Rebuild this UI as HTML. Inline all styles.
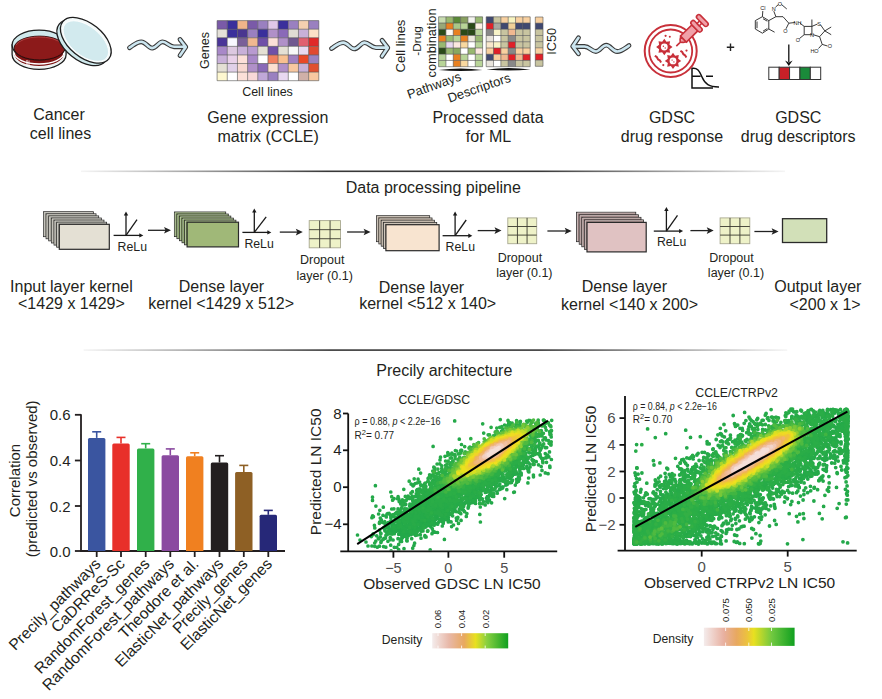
<!DOCTYPE html><html><head><meta charset="utf-8"><style>html,body{margin:0;padding:0;background:#fff;overflow:hidden}svg{display:block}text{font-family:"Liberation Sans",sans-serif}</style></head><body>
<svg width="882" height="699" viewBox="0 0 882 699">
<rect width="882" height="699" fill="#fff"/>
<path d="M12.1,45 L12.1,54.5 A27,14.9 0 0 0 66.1,54.5 L66.1,45 Z" fill="#eef7f7" stroke="#1e1e1e" stroke-width="1.3"/>
<path d="M14.3,49 L14.3,54 A24.8,12 0 0 0 63.9,54 L63.9,49 Z" fill="#7e1414"/>
<path d="M14.3,52.5 A24.8,11.5 0 0 0 63.9,52.5" fill="none" stroke="#ffffff" stroke-width="1.3"/>
<path d="M14.3,55.8 A24.8,11.5 0 0 0 63.9,55.8" fill="none" stroke="#f0f0f0" stroke-width="1"/>
<line x1="27" y1="60" x2="27" y2="66" stroke="#fff" stroke-width="1"/><line x1="29" y1="60.5" x2="29" y2="66.5" stroke="#fff" stroke-width="0.8"/>
<ellipse cx="39.1" cy="45" rx="27" ry="14.9" fill="#cfe9ec" stroke="#1e1e1e" stroke-width="1.3"/>
<ellipse cx="39.5" cy="48" rx="25.4" ry="11.9" fill="#8c1a1a" stroke="#2a0a0a" stroke-width="0.9"/>
<path d="M16,45 A24,10.5 0 0 1 62,44" fill="none" stroke="#b04040" stroke-width="1"/>
<g transform="translate(85.8,40.3) rotate(39)">
<ellipse cx="-1.2" cy="4.2" rx="29.6" ry="17" fill="#cfe9ec" stroke="#1e1e1e" stroke-width="1.3"/>
<ellipse cx="0" cy="0" rx="29.6" ry="17" fill="#f4fafa" stroke="#1e1e1e" stroke-width="1.3"/>
<ellipse cx="0.5" cy="0.6" rx="26.8" ry="14.6" fill="#d2eaee" stroke="#ffffff" stroke-width="0.8"/>
</g>
<g transform="translate(0,0)" fill="none" stroke-linecap="round" stroke-linejoin="round">
<path d="M129.5,47.7 C135,44 137,41.8 141.3,41.8 C146,41.8 148,48.1 152.2,48.1 C156.5,48.1 158.5,41.8 162.6,41.8 C167,41.8 169,46.8 174,46.8 L185,46.8 M180,39.5 L185.8,47 L180,55.5" stroke="#3a3a3a" stroke-width="4.8"/>
<path d="M129.5,47.7 C135,44 137,41.8 141.3,41.8 C146,41.8 148,48.1 152.2,48.1 C156.5,48.1 158.5,41.8 162.6,41.8 C167,41.8 169,46.8 174,46.8 L185,46.8 M180,39.5 L185.8,47 L180,55.5" stroke="#cce6f0" stroke-width="2.6"/>
</g>
<g transform="translate(202,0.8)" fill="none" stroke-linecap="round" stroke-linejoin="round">
<path d="M129.5,47.7 C135,44 137,41.8 141.3,41.8 C146,41.8 148,48.1 152.2,48.1 C156.5,48.1 158.5,41.8 162.6,41.8 C167,41.8 169,46.8 174,46.8 L185,46.8 M180,39.5 L185.8,47 L180,55.5" stroke="#3a3a3a" stroke-width="4.8"/>
<path d="M129.5,47.7 C135,44 137,41.8 141.3,41.8 C146,41.8 148,48.1 152.2,48.1 C156.5,48.1 158.5,41.8 162.6,41.8 C167,41.8 169,46.8 174,46.8 L185,46.8 M180,39.5 L185.8,47 L180,55.5" stroke="#cce6f0" stroke-width="2.6"/>
</g>
<g transform="translate(758.5,93.3) rotate(180)">
<path d="M129.5,47.7 C135,44 137,41.8 141.3,41.8 C146,41.8 148,48.1 152.2,48.1 C156.5,48.1 158.5,41.8 162.6,41.8 C167,41.8 169,46.8 174,46.8 L185,46.8 M180,39.5 L185.8,47 L180,55.5" fill="none" stroke="#3a3a3a" stroke-width="4.8" stroke-linecap="round" stroke-linejoin="round"/>
<path d="M129.5,47.7 C135,44 137,41.8 141.3,41.8 C146,41.8 148,48.1 152.2,48.1 C156.5,48.1 158.5,41.8 162.6,41.8 C167,41.8 169,46.8 174,46.8 L185,46.8 M180,39.5 L185.8,47 L180,55.5" fill="none" stroke="#cce6f0" stroke-width="2.6" stroke-linecap="round" stroke-linejoin="round"/>
</g>
<rect x="217.10" y="20.60" width="10.17" height="8.59" fill="#7a5aa8"/>
<rect x="227.27" y="20.60" width="10.17" height="8.59" fill="#3a2f9c"/>
<rect x="237.44" y="20.60" width="10.17" height="8.59" fill="#f0b48a"/>
<rect x="247.61" y="20.60" width="10.17" height="8.59" fill="#7a5aa8"/>
<rect x="257.78" y="20.60" width="10.17" height="8.59" fill="#9a80c0"/>
<rect x="267.95" y="20.60" width="10.17" height="8.59" fill="#e0c8e8"/>
<rect x="278.12" y="20.60" width="10.17" height="8.59" fill="#3a2f9c"/>
<rect x="288.29" y="20.60" width="10.17" height="8.59" fill="#9a80c0"/>
<rect x="298.46" y="20.60" width="10.17" height="8.59" fill="#f4d0b0"/>
<rect x="308.63" y="20.60" width="10.17" height="8.59" fill="#9a80c0"/>
<rect x="217.10" y="29.19" width="10.17" height="8.59" fill="#e4e0d8"/>
<rect x="227.27" y="29.19" width="10.17" height="8.59" fill="#3a2f9c"/>
<rect x="237.44" y="29.19" width="10.17" height="8.59" fill="#4a3590"/>
<rect x="247.61" y="29.19" width="10.17" height="8.59" fill="#9a80c0"/>
<rect x="257.78" y="29.19" width="10.17" height="8.59" fill="#3a2f9c"/>
<rect x="267.95" y="29.19" width="10.17" height="8.59" fill="#b090c8"/>
<rect x="278.12" y="29.19" width="10.17" height="8.59" fill="#8a6ab8"/>
<rect x="288.29" y="29.19" width="10.17" height="8.59" fill="#e0dcd4"/>
<rect x="298.46" y="29.19" width="10.17" height="8.59" fill="#c8b0d8"/>
<rect x="308.63" y="29.19" width="10.17" height="8.59" fill="#fce0c8"/>
<rect x="217.10" y="37.77" width="10.17" height="8.59" fill="#4a3598"/>
<rect x="227.27" y="37.77" width="10.17" height="8.59" fill="#f8f8ff"/>
<rect x="237.44" y="37.77" width="10.17" height="8.59" fill="#7a6098"/>
<rect x="247.61" y="37.77" width="10.17" height="8.59" fill="#f0b890"/>
<rect x="257.78" y="37.77" width="10.17" height="8.59" fill="#7050a8"/>
<rect x="267.95" y="37.77" width="10.17" height="8.59" fill="#fce0d8"/>
<rect x="278.12" y="37.77" width="10.17" height="8.59" fill="#b090c8"/>
<rect x="288.29" y="37.77" width="10.17" height="8.59" fill="#705890"/>
<rect x="298.46" y="37.77" width="10.17" height="8.59" fill="#e06070"/>
<rect x="308.63" y="37.77" width="10.17" height="8.59" fill="#e02828"/>
<rect x="217.10" y="46.36" width="10.17" height="8.59" fill="#a888c8"/>
<rect x="227.27" y="46.36" width="10.17" height="8.59" fill="#dcc8e0"/>
<rect x="237.44" y="46.36" width="10.17" height="8.59" fill="#c8b0d8"/>
<rect x="247.61" y="46.36" width="10.17" height="8.59" fill="#b89ad0"/>
<rect x="257.78" y="46.36" width="10.17" height="8.59" fill="#e4e0d4"/>
<rect x="267.95" y="46.36" width="10.17" height="8.59" fill="#7050a8"/>
<rect x="278.12" y="46.36" width="10.17" height="8.59" fill="#e4e0d4"/>
<rect x="288.29" y="46.36" width="10.17" height="8.59" fill="#f8f8f8"/>
<rect x="298.46" y="46.36" width="10.17" height="8.59" fill="#e8d8f0"/>
<rect x="308.63" y="46.36" width="10.17" height="8.59" fill="#e04830"/>
<rect x="217.10" y="54.94" width="10.17" height="8.59" fill="#c8b0d8"/>
<rect x="227.27" y="54.94" width="10.17" height="8.59" fill="#e8d0e8"/>
<rect x="237.44" y="54.94" width="10.17" height="8.59" fill="#fce0d8"/>
<rect x="247.61" y="54.94" width="10.17" height="8.59" fill="#a888c8"/>
<rect x="257.78" y="54.94" width="10.17" height="8.59" fill="#ffffff"/>
<rect x="267.95" y="54.94" width="10.17" height="8.59" fill="#f08060"/>
<rect x="278.12" y="54.94" width="10.17" height="8.59" fill="#f8c090"/>
<rect x="288.29" y="54.94" width="10.17" height="8.59" fill="#a080c0"/>
<rect x="298.46" y="54.94" width="10.17" height="8.59" fill="#e84828"/>
<rect x="308.63" y="54.94" width="10.17" height="8.59" fill="#9a80c0"/>
<rect x="217.10" y="63.53" width="10.17" height="8.59" fill="#e4e0d4"/>
<rect x="227.27" y="63.53" width="10.17" height="8.59" fill="#e0d0e8"/>
<rect x="237.44" y="63.53" width="10.17" height="8.59" fill="#f8d8d0"/>
<rect x="247.61" y="63.53" width="10.17" height="8.59" fill="#b090c8"/>
<rect x="257.78" y="63.53" width="10.17" height="8.59" fill="#8a6ab8"/>
<rect x="267.95" y="63.53" width="10.17" height="8.59" fill="#fce0d0"/>
<rect x="278.12" y="63.53" width="10.17" height="8.59" fill="#b090c8"/>
<rect x="288.29" y="63.53" width="10.17" height="8.59" fill="#f8c8a0"/>
<rect x="298.46" y="63.53" width="10.17" height="8.59" fill="#c8b0d8"/>
<rect x="308.63" y="63.53" width="10.17" height="8.59" fill="#e05030"/>
<rect x="217.10" y="72.11" width="10.17" height="8.59" fill="#fef8d0"/>
<rect x="227.27" y="72.11" width="10.17" height="8.59" fill="#ffffff"/>
<rect x="237.44" y="72.11" width="10.17" height="8.59" fill="#fce0d8"/>
<rect x="247.61" y="72.11" width="10.17" height="8.59" fill="#f8d8d8"/>
<rect x="257.78" y="72.11" width="10.17" height="8.59" fill="#c0a8d8"/>
<rect x="267.95" y="72.11" width="10.17" height="8.59" fill="#9a80c0"/>
<rect x="278.12" y="72.11" width="10.17" height="8.59" fill="#e8d8f0"/>
<rect x="288.29" y="72.11" width="10.17" height="8.59" fill="#ffffff"/>
<rect x="298.46" y="72.11" width="10.17" height="8.59" fill="#d0b0a8"/>
<rect x="308.63" y="72.11" width="10.17" height="8.59" fill="#f8c8a0"/>
<line x1="217.1" y1="20.60" x2="318.8" y2="20.60" stroke="#505050" stroke-width="0.6"/>
<line x1="217.1" y1="29.19" x2="318.8" y2="29.19" stroke="#505050" stroke-width="0.6"/>
<line x1="217.1" y1="37.77" x2="318.8" y2="37.77" stroke="#505050" stroke-width="0.6"/>
<line x1="217.1" y1="46.36" x2="318.8" y2="46.36" stroke="#505050" stroke-width="0.6"/>
<line x1="217.1" y1="54.94" x2="318.8" y2="54.94" stroke="#505050" stroke-width="0.6"/>
<line x1="217.1" y1="63.53" x2="318.8" y2="63.53" stroke="#505050" stroke-width="0.6"/>
<line x1="217.1" y1="72.11" x2="318.8" y2="72.11" stroke="#505050" stroke-width="0.6"/>
<line x1="217.1" y1="80.70" x2="318.8" y2="80.70" stroke="#505050" stroke-width="0.6"/>
<line x1="217.10" y1="20.6" x2="217.10" y2="80.7" stroke="#505050" stroke-width="0.6"/>
<line x1="227.27" y1="20.6" x2="227.27" y2="80.7" stroke="#505050" stroke-width="0.6"/>
<line x1="237.44" y1="20.6" x2="237.44" y2="80.7" stroke="#505050" stroke-width="0.6"/>
<line x1="247.61" y1="20.6" x2="247.61" y2="80.7" stroke="#505050" stroke-width="0.6"/>
<line x1="257.78" y1="20.6" x2="257.78" y2="80.7" stroke="#505050" stroke-width="0.6"/>
<line x1="267.95" y1="20.6" x2="267.95" y2="80.7" stroke="#505050" stroke-width="0.6"/>
<line x1="278.12" y1="20.6" x2="278.12" y2="80.7" stroke="#505050" stroke-width="0.6"/>
<line x1="288.29" y1="20.6" x2="288.29" y2="80.7" stroke="#505050" stroke-width="0.6"/>
<line x1="298.46" y1="20.6" x2="298.46" y2="80.7" stroke="#505050" stroke-width="0.6"/>
<line x1="308.63" y1="20.6" x2="308.63" y2="80.7" stroke="#505050" stroke-width="0.6"/>
<line x1="318.80" y1="20.6" x2="318.80" y2="80.7" stroke="#505050" stroke-width="0.6"/>
<text x="208.5" y="50.5" font-size="12.5" text-anchor="middle" fill="#231f20" transform="rotate(-90 208.5 50.5)">Genes</text>
<text x="267.5" y="96" font-size="12.5" text-anchor="middle" fill="#231f20" >Cell lines</text>
<rect x="438.60" y="16.80" width="7.33" height="6.24" fill="#c8dcb0"/>
<rect x="445.93" y="16.80" width="7.33" height="6.24" fill="#98b870"/>
<rect x="453.27" y="16.80" width="7.33" height="6.24" fill="#5a8a38"/>
<rect x="460.60" y="16.80" width="7.33" height="6.24" fill="#88a060"/>
<rect x="467.93" y="16.80" width="7.33" height="6.24" fill="#f4f4f0"/>
<rect x="475.27" y="16.80" width="7.33" height="6.24" fill="#98b870"/>
<rect x="438.60" y="23.04" width="7.33" height="6.24" fill="#98a878"/>
<rect x="445.93" y="23.04" width="7.33" height="6.24" fill="#e88020"/>
<rect x="453.27" y="23.04" width="7.33" height="6.24" fill="#a8c888"/>
<rect x="460.60" y="23.04" width="7.33" height="6.24" fill="#b8d498"/>
<rect x="467.93" y="23.04" width="7.33" height="6.24" fill="#2a4a18"/>
<rect x="475.27" y="23.04" width="7.33" height="6.24" fill="#fcf0e4"/>
<rect x="438.60" y="29.27" width="7.33" height="6.24" fill="#2a4a18"/>
<rect x="445.93" y="29.27" width="7.33" height="6.24" fill="#fcf8f4"/>
<rect x="453.27" y="29.27" width="7.33" height="6.24" fill="#e88020"/>
<rect x="460.60" y="29.27" width="7.33" height="6.24" fill="#2a4a18"/>
<rect x="467.93" y="29.27" width="7.33" height="6.24" fill="#2a4a18"/>
<rect x="475.27" y="29.27" width="7.33" height="6.24" fill="#b8d498"/>
<rect x="438.60" y="35.51" width="7.33" height="6.24" fill="#e88020"/>
<rect x="445.93" y="35.51" width="7.33" height="6.24" fill="#98b870"/>
<rect x="453.27" y="35.51" width="7.33" height="6.24" fill="#b8d498"/>
<rect x="460.60" y="35.51" width="7.33" height="6.24" fill="#e88020"/>
<rect x="467.93" y="35.51" width="7.33" height="6.24" fill="#ece8dc"/>
<rect x="475.27" y="35.51" width="7.33" height="6.24" fill="#98b870"/>
<rect x="438.60" y="41.75" width="7.33" height="6.24" fill="#98b870"/>
<rect x="445.93" y="41.75" width="7.33" height="6.24" fill="#e8d8f0"/>
<rect x="453.27" y="41.75" width="7.33" height="6.24" fill="#fce8e0"/>
<rect x="460.60" y="41.75" width="7.33" height="6.24" fill="#f8d8a0"/>
<rect x="467.93" y="41.75" width="7.33" height="6.24" fill="#ffffff"/>
<rect x="475.27" y="41.75" width="7.33" height="6.24" fill="#b8d498"/>
<rect x="438.60" y="47.99" width="7.33" height="6.24" fill="#2a4a18"/>
<rect x="445.93" y="47.99" width="7.33" height="6.24" fill="#98b870"/>
<rect x="453.27" y="47.99" width="7.33" height="6.24" fill="#88a860"/>
<rect x="460.60" y="47.99" width="7.33" height="6.24" fill="#ffffff"/>
<rect x="467.93" y="47.99" width="7.33" height="6.24" fill="#98b870"/>
<rect x="475.27" y="47.99" width="7.33" height="6.24" fill="#fce8e0"/>
<rect x="438.60" y="54.22" width="7.33" height="6.24" fill="#b8d498"/>
<rect x="445.93" y="54.22" width="7.33" height="6.24" fill="#ffffff"/>
<rect x="453.27" y="54.22" width="7.33" height="6.24" fill="#e88020"/>
<rect x="460.60" y="54.22" width="7.33" height="6.24" fill="#b8d498"/>
<rect x="467.93" y="54.22" width="7.33" height="6.24" fill="#ffffff"/>
<rect x="475.27" y="54.22" width="7.33" height="6.24" fill="#b8d498"/>
<rect x="438.60" y="60.46" width="7.33" height="6.24" fill="#b8d498"/>
<rect x="445.93" y="60.46" width="7.33" height="6.24" fill="#ffffff"/>
<rect x="453.27" y="60.46" width="7.33" height="6.24" fill="#e88020"/>
<rect x="460.60" y="60.46" width="7.33" height="6.24" fill="#f8d8a0"/>
<rect x="467.93" y="60.46" width="7.33" height="6.24" fill="#ffffff"/>
<rect x="475.27" y="60.46" width="7.33" height="6.24" fill="#b8d498"/>
<line x1="438.6" y1="16.80" x2="482.6" y2="16.80" stroke="#505050" stroke-width="0.6"/>
<line x1="438.6" y1="23.04" x2="482.6" y2="23.04" stroke="#505050" stroke-width="0.6"/>
<line x1="438.6" y1="29.27" x2="482.6" y2="29.27" stroke="#505050" stroke-width="0.6"/>
<line x1="438.6" y1="35.51" x2="482.6" y2="35.51" stroke="#505050" stroke-width="0.6"/>
<line x1="438.6" y1="41.75" x2="482.6" y2="41.75" stroke="#505050" stroke-width="0.6"/>
<line x1="438.6" y1="47.99" x2="482.6" y2="47.99" stroke="#505050" stroke-width="0.6"/>
<line x1="438.6" y1="54.22" x2="482.6" y2="54.22" stroke="#505050" stroke-width="0.6"/>
<line x1="438.6" y1="60.46" x2="482.6" y2="60.46" stroke="#505050" stroke-width="0.6"/>
<line x1="438.6" y1="66.70" x2="482.6" y2="66.70" stroke="#505050" stroke-width="0.6"/>
<line x1="438.60" y1="16.8" x2="438.60" y2="66.7" stroke="#505050" stroke-width="0.6"/>
<line x1="445.93" y1="16.8" x2="445.93" y2="66.7" stroke="#505050" stroke-width="0.6"/>
<line x1="453.27" y1="16.8" x2="453.27" y2="66.7" stroke="#505050" stroke-width="0.6"/>
<line x1="460.60" y1="16.8" x2="460.60" y2="66.7" stroke="#505050" stroke-width="0.6"/>
<line x1="467.93" y1="16.8" x2="467.93" y2="66.7" stroke="#505050" stroke-width="0.6"/>
<line x1="475.27" y1="16.8" x2="475.27" y2="66.7" stroke="#505050" stroke-width="0.6"/>
<line x1="482.60" y1="16.8" x2="482.60" y2="66.7" stroke="#505050" stroke-width="0.6"/>
<rect x="486.20" y="16.80" width="7.33" height="6.24" fill="#404870"/>
<rect x="493.53" y="16.80" width="7.33" height="6.24" fill="#c8c4a0"/>
<rect x="500.87" y="16.80" width="7.33" height="6.24" fill="#f8d0a0"/>
<rect x="508.20" y="16.80" width="7.33" height="6.24" fill="#f8f4c0"/>
<rect x="515.53" y="16.80" width="7.33" height="6.24" fill="#f8d0a0"/>
<rect x="522.87" y="16.80" width="7.33" height="6.24" fill="#f8d0a0"/>
<rect x="486.20" y="23.04" width="7.33" height="6.24" fill="#e02028"/>
<rect x="493.53" y="23.04" width="7.33" height="6.24" fill="#a8a8a0"/>
<rect x="500.87" y="23.04" width="7.33" height="6.24" fill="#404870"/>
<rect x="508.20" y="23.04" width="7.33" height="6.24" fill="#f0d098"/>
<rect x="515.53" y="23.04" width="7.33" height="6.24" fill="#404870"/>
<rect x="522.87" y="23.04" width="7.33" height="6.24" fill="#404870"/>
<rect x="486.20" y="29.27" width="7.33" height="6.24" fill="#888888"/>
<rect x="493.53" y="29.27" width="7.33" height="6.24" fill="#f8f4c8"/>
<rect x="500.87" y="29.27" width="7.33" height="6.24" fill="#c8c4a0"/>
<rect x="508.20" y="29.27" width="7.33" height="6.24" fill="#f0b890"/>
<rect x="515.53" y="29.27" width="7.33" height="6.24" fill="#c8c4a0"/>
<rect x="522.87" y="29.27" width="7.33" height="6.24" fill="#c8c4a0"/>
<rect x="486.20" y="35.51" width="7.33" height="6.24" fill="#e8e4dc"/>
<rect x="493.53" y="35.51" width="7.33" height="6.24" fill="#ffffff"/>
<rect x="500.87" y="35.51" width="7.33" height="6.24" fill="#c8c4a0"/>
<rect x="508.20" y="35.51" width="7.33" height="6.24" fill="#888888"/>
<rect x="515.53" y="35.51" width="7.33" height="6.24" fill="#c8c4a0"/>
<rect x="522.87" y="35.51" width="7.33" height="6.24" fill="#c8c4a0"/>
<rect x="486.20" y="41.75" width="7.33" height="6.24" fill="#f8e8cc"/>
<rect x="493.53" y="41.75" width="7.33" height="6.24" fill="#f8f4c8"/>
<rect x="500.87" y="41.75" width="7.33" height="6.24" fill="#c8c4a0"/>
<rect x="508.20" y="41.75" width="7.33" height="6.24" fill="#e02028"/>
<rect x="515.53" y="41.75" width="7.33" height="6.24" fill="#c8c4a0"/>
<rect x="522.87" y="41.75" width="7.33" height="6.24" fill="#c8c4a0"/>
<rect x="486.20" y="47.99" width="7.33" height="6.24" fill="#f8d0a0"/>
<rect x="493.53" y="47.99" width="7.33" height="6.24" fill="#e02028"/>
<rect x="500.87" y="47.99" width="7.33" height="6.24" fill="#f8d0a0"/>
<rect x="508.20" y="47.99" width="7.33" height="6.24" fill="#888888"/>
<rect x="515.53" y="47.99" width="7.33" height="6.24" fill="#f8d0a0"/>
<rect x="522.87" y="47.99" width="7.33" height="6.24" fill="#f8d0a0"/>
<rect x="486.20" y="54.22" width="7.33" height="6.24" fill="#404870"/>
<rect x="493.53" y="54.22" width="7.33" height="6.24" fill="#f8d0a0"/>
<rect x="500.87" y="54.22" width="7.33" height="6.24" fill="#f0b890"/>
<rect x="508.20" y="54.22" width="7.33" height="6.24" fill="#e02028"/>
<rect x="515.53" y="54.22" width="7.33" height="6.24" fill="#f0b890"/>
<rect x="522.87" y="54.22" width="7.33" height="6.24" fill="#e02028"/>
<rect x="486.20" y="60.46" width="7.33" height="6.24" fill="#e8e4dc"/>
<rect x="493.53" y="60.46" width="7.33" height="6.24" fill="#ffffff"/>
<rect x="500.87" y="60.46" width="7.33" height="6.24" fill="#c8c4a0"/>
<rect x="508.20" y="60.46" width="7.33" height="6.24" fill="#888888"/>
<rect x="515.53" y="60.46" width="7.33" height="6.24" fill="#c8c4a0"/>
<rect x="522.87" y="60.46" width="7.33" height="6.24" fill="#c8c4a0"/>
<line x1="486.2" y1="16.80" x2="530.2" y2="16.80" stroke="#505050" stroke-width="0.6"/>
<line x1="486.2" y1="23.04" x2="530.2" y2="23.04" stroke="#505050" stroke-width="0.6"/>
<line x1="486.2" y1="29.27" x2="530.2" y2="29.27" stroke="#505050" stroke-width="0.6"/>
<line x1="486.2" y1="35.51" x2="530.2" y2="35.51" stroke="#505050" stroke-width="0.6"/>
<line x1="486.2" y1="41.75" x2="530.2" y2="41.75" stroke="#505050" stroke-width="0.6"/>
<line x1="486.2" y1="47.99" x2="530.2" y2="47.99" stroke="#505050" stroke-width="0.6"/>
<line x1="486.2" y1="54.22" x2="530.2" y2="54.22" stroke="#505050" stroke-width="0.6"/>
<line x1="486.2" y1="60.46" x2="530.2" y2="60.46" stroke="#505050" stroke-width="0.6"/>
<line x1="486.2" y1="66.70" x2="530.2" y2="66.70" stroke="#505050" stroke-width="0.6"/>
<line x1="486.20" y1="16.8" x2="486.20" y2="66.7" stroke="#505050" stroke-width="0.6"/>
<line x1="493.53" y1="16.8" x2="493.53" y2="66.7" stroke="#505050" stroke-width="0.6"/>
<line x1="500.87" y1="16.8" x2="500.87" y2="66.7" stroke="#505050" stroke-width="0.6"/>
<line x1="508.20" y1="16.8" x2="508.20" y2="66.7" stroke="#505050" stroke-width="0.6"/>
<line x1="515.53" y1="16.8" x2="515.53" y2="66.7" stroke="#505050" stroke-width="0.6"/>
<line x1="522.87" y1="16.8" x2="522.87" y2="66.7" stroke="#505050" stroke-width="0.6"/>
<line x1="530.20" y1="16.8" x2="530.20" y2="66.7" stroke="#505050" stroke-width="0.6"/>
<rect x="535.30" y="17.00" width="7.70" height="6.16" fill="#f8d0a0"/>
<rect x="535.30" y="23.16" width="7.70" height="6.16" fill="#404870"/>
<rect x="535.30" y="29.32" width="7.70" height="6.16" fill="#c8c4a0"/>
<rect x="535.30" y="35.49" width="7.70" height="6.16" fill="#c8c4a0"/>
<rect x="535.30" y="41.65" width="7.70" height="6.16" fill="#c8c4a0"/>
<rect x="535.30" y="47.81" width="7.70" height="6.16" fill="#f8d0a0"/>
<rect x="535.30" y="53.97" width="7.70" height="6.16" fill="#e02028"/>
<rect x="535.30" y="60.14" width="7.70" height="6.16" fill="#c8c4a0"/>
<line x1="535.3" y1="17.00" x2="543.0" y2="17.00" stroke="#505050" stroke-width="0.6"/>
<line x1="535.3" y1="23.16" x2="543.0" y2="23.16" stroke="#505050" stroke-width="0.6"/>
<line x1="535.3" y1="29.32" x2="543.0" y2="29.32" stroke="#505050" stroke-width="0.6"/>
<line x1="535.3" y1="35.49" x2="543.0" y2="35.49" stroke="#505050" stroke-width="0.6"/>
<line x1="535.3" y1="41.65" x2="543.0" y2="41.65" stroke="#505050" stroke-width="0.6"/>
<line x1="535.3" y1="47.81" x2="543.0" y2="47.81" stroke="#505050" stroke-width="0.6"/>
<line x1="535.3" y1="53.97" x2="543.0" y2="53.97" stroke="#505050" stroke-width="0.6"/>
<line x1="535.3" y1="60.14" x2="543.0" y2="60.14" stroke="#505050" stroke-width="0.6"/>
<line x1="535.3" y1="66.30" x2="543.0" y2="66.30" stroke="#505050" stroke-width="0.6"/>
<line x1="535.30" y1="17" x2="535.30" y2="66.3" stroke="#505050" stroke-width="0.6"/>
<line x1="543.00" y1="17" x2="543.00" y2="66.3" stroke="#505050" stroke-width="0.6"/>
<path d="M438.5,70 Q460.5,66.8 482.5,70 Q460.5,72.2 438.5,70 Z" fill="#111"/>
<path d="M486.5,69.5 Q508.5,66.3 530.5,69.5 Q508.5,71.7 486.5,69.5 Z" fill="#111"/>
<text x="556" y="41.3" font-size="12.8" text-anchor="middle" fill="#231f20" transform="rotate(-90 556 41.3)">IC50</text>
<g font-size="12.5" fill="#231f20" text-anchor="middle">
<text transform="translate(404.5,46) rotate(-90)" font-size="13">Cell lines</text>
<text transform="translate(421,41) rotate(-90)" font-size="11.8">-Drug</text>
<text transform="translate(435.5,43) rotate(-90)" font-size="12.8">combination</text>
<text transform="translate(435.5,89.5) rotate(-19.5)" font-size="13">Pathways</text>
<text transform="translate(480.5,92) rotate(-19)" font-size="13">Descriptors</text>
</g>
<g fill="none" stroke="#c8303a" stroke-width="1.5">
<circle cx="670.7" cy="51" r="26" stroke-width="2"/>
<circle cx="670.7" cy="51" r="21.5" stroke-width="1.8"/>
<circle cx="664.3" cy="47.0" r="4.3" stroke-width="2"/>
<path d="M672.50,47.00 L669.47,49.14 L670.10,52.80 L666.44,52.17 L664.30,55.20 L662.16,52.17 L658.50,52.80 L659.13,49.14 L656.10,47.00 L659.13,44.86 L658.50,41.20 L662.16,41.83 L664.30,38.80 L666.44,41.83 L670.10,41.20 L669.47,44.86 Z" fill="#c8303a" stroke="none"/>
<circle cx="664.3" cy="47.0" r="5.2" fill="#c8303a" stroke="none"/>
<circle cx="664.3" cy="47.0" r="3.4" fill="#fff" stroke="none"/>
<circle cx="663.4" cy="46.2" r="0.7" fill="#c8303a" stroke="none"/><circle cx="665.1999999999999" cy="48.0" r="0.7" fill="#c8303a" stroke="none"/>
<circle cx="673.0" cy="60.9" r="4.3" stroke-width="2"/>
<path d="M681.20,60.90 L678.17,63.04 L678.80,66.70 L675.14,66.07 L673.00,69.10 L670.86,66.07 L667.20,66.70 L667.83,63.04 L664.80,60.90 L667.83,58.76 L667.20,55.10 L670.86,55.73 L673.00,52.70 L675.14,55.73 L678.80,55.10 L678.17,58.76 Z" fill="#c8303a" stroke="none"/>
<circle cx="673.0" cy="60.9" r="5.2" fill="#c8303a" stroke="none"/>
<circle cx="673.0" cy="60.9" r="3.4" fill="#fff" stroke="none"/>
<circle cx="672.1" cy="60.1" r="0.7" fill="#c8303a" stroke="none"/><circle cx="673.9" cy="61.9" r="0.7" fill="#c8303a" stroke="none"/>
<path d="M654.8,55.8 l1.8,1 l1.5,2.6 l1.8,1 l1.2,2.2 M680.4,50.8 l1.8,1.2 l1.2,2.2 l1.8,1.2 l1.2,2" stroke-width="2"/>
<circle cx="665.6" cy="35.8" r="1.1" fill="#c8303a" stroke="none"/><circle cx="669.8" cy="36.8" r="1" fill="#c8303a" stroke="none"/><circle cx="663.3" cy="65.1" r="1.1" fill="#c8303a" stroke="none"/><circle cx="686.5" cy="50.6" r="1.1" fill="#c8303a" stroke="none"/>
</g>
<g transform="translate(676.3,46.1) rotate(-44.5)" stroke="#c8303a" stroke-width="1.6">
<line x1="0" y1="0" x2="5" y2="0"/>
<path d="M10,-3.8 L7.5,-2.2 L5.5,0 L7.5,2.2 L10,3.8 Z" fill="#f0a0a8"/>
<rect x="10" y="-4.2" width="16" height="8.4" fill="#f0a0a8"/>
<rect x="26" y="-7" width="4.6" height="14" rx="2.3" fill="#f0a0a8"/>
<rect x="30.6" y="-1.6" width="3.6" height="3.2" fill="#fff"/>
<rect x="34.2" y="-7.3" width="4.6" height="14.6" rx="2.3" fill="#f0a0a8"/>
</g>
<g fill="none" stroke="#111" stroke-width="1.5">
<path d="M692,68 L692,87.9 L713,87.9"/>
<path d="M692,68.3 C697,67.5 699,70 702,77 C705,84 709,87 719,86.9"/>
<path d="M692,76.3 L700.6,76.3 M706,76.3 L713,76.3"/>
</g>
<path d="M726.8,47.3 H734.2 M730.5,43.6 V51" stroke="#222" stroke-width="1.4"/>
<g fill="none" stroke="#222" stroke-width="0.9">
<path d="M762.4,16.7 L768.8,20.6 L768.8,29 L762.4,33.2 L755.3,29 L755.3,20.6 Z"/>
<path d="M757,21.5 L757,28.2 M763,31.2 L767.3,28.5 M763,18.7 L767.3,21.2"/>
<path d="M762.4,16.7 L762.8,11 M768.8,29 L774.6,32.2 M768.8,20.6 L775.9,16.7 L773.8,11.2 M775.6,7 L778.5,4.5 M781.5,4.5 L786.8,9 M775.9,16.7 L783,16.7 L788.8,23.2 L786,28.8 M788.8,23.2 L795,22.5 M800,23.2 L804.2,26.4 M804.2,26.4 L811.9,26.4 L811.9,34.7 L804.2,34.7 Z M804.2,34.7 L799.5,38.5 M811.9,26.4 L811.9,19.5 M811.9,26.4 L817.5,24 M820.5,24.8 L824.8,30.9 L831.2,27 M824.8,30.9 L831.2,34.7 M824.8,30.9 L819.6,36.7 L813.2,34.7 M819.6,36.7 L822.2,44.4 L827.5,46 M822.2,44.4 L818.5,48.5"/>
</g>
<g font-size="5.5" fill="#222" text-anchor="middle">
<text x="762.8" y="10.3">Cl</text><text x="773.8" y="10.6">N</text><text x="780" y="6">O</text>
<text x="785.5" y="33">O</text><text x="797.5" y="24.8">NH</text><text x="798" y="42">O</text>
<text x="819" y="26">S</text><text x="812" y="37">N</text><text x="829.8" y="48.3">O</text><text x="814.5" y="52.8">HO</text>
</g>
<line x1="788.8" y1="44.4" x2="788.8" y2="62" stroke="#111" stroke-width="1.3"/>
<path d="M785,60.5 L788.8,66 L792.6,60.5 L788.8,62.5 Z" fill="#111"/>
<rect x="768.80" y="67.2" width="10.38" height="12.3" fill="#ffffff" stroke="#333" stroke-width="1"/>
<rect x="779.18" y="67.2" width="10.38" height="12.3" fill="#c82028" stroke="#333" stroke-width="1"/>
<rect x="789.56" y="67.2" width="10.38" height="12.3" fill="#ffffff" stroke="#333" stroke-width="1"/>
<rect x="799.94" y="67.2" width="10.38" height="12.3" fill="#1a8a3a" stroke="#333" stroke-width="1"/>
<rect x="810.32" y="67.2" width="10.38" height="12.3" fill="#ffffff" stroke="#333" stroke-width="1"/>
<g font-size="16" fill="#231f20" text-anchor="middle">
<text x="59" y="119.5">Cancer</text><text x="60.5" y="138.5">cell lines</text>
<text x="267.8" y="122.7">Gene expression</text><text x="268.2" y="142">matrix (CCLE)</text>
<text x="488" y="122.7">Processed data</text><text x="488.5" y="142">for ML</text>
<text x="672" y="122.9">GDSC</text><text x="672" y="142">drug response</text>
<text x="798.3" y="122.9">GDSC</text><text x="798.2" y="142">drug descriptors</text>
</g>
<defs><linearGradient id="sep" x1="0" x2="1" y1="0" y2="0"><stop offset="0" stop-color="#333" stop-opacity="0.05"/><stop offset="0.35" stop-color="#222" stop-opacity="0.9"/><stop offset="0.65" stop-color="#222" stop-opacity="0.9"/><stop offset="1" stop-color="#333" stop-opacity="0.05"/></linearGradient></defs>
<rect x="81" y="170.5" width="704" height="1.6" fill="url(#sep)"/>
<rect x="83.6" y="349.3" width="703.6" height="1.6" fill="url(#sep)"/>
<g font-size="16" fill="#231f20" text-anchor="middle">
<text x="433.3" y="193.3">Data processing pipeline</text>
<text x="444.3" y="376.3">Precily architecture</text>
</g>
<rect x="43.40" y="211.70" width="50" height="25" fill="#a8a69c" stroke="#2a2a2a" stroke-width="0.75"/>
<path d="M44.30,236.10 V212.60 H92.80" fill="none" stroke="#f4f4f0" stroke-width="0.6" opacity="0.8"/>
<rect x="46.05" y="213.80" width="50" height="25" fill="#a8a69c" stroke="#2a2a2a" stroke-width="0.75"/>
<path d="M46.95,238.20 V214.70 H95.45" fill="none" stroke="#f4f4f0" stroke-width="0.6" opacity="0.8"/>
<rect x="48.70" y="215.90" width="50" height="25" fill="#a8a69c" stroke="#2a2a2a" stroke-width="0.75"/>
<path d="M49.60,240.30 V216.80 H98.10" fill="none" stroke="#f4f4f0" stroke-width="0.6" opacity="0.8"/>
<rect x="51.35" y="218.00" width="50" height="25" fill="#a8a69c" stroke="#2a2a2a" stroke-width="0.75"/>
<path d="M52.25,242.40 V218.90 H100.75" fill="none" stroke="#f4f4f0" stroke-width="0.6" opacity="0.8"/>
<rect x="54.00" y="220.10" width="50" height="25" fill="#a8a69c" stroke="#2a2a2a" stroke-width="0.75"/>
<path d="M54.90,244.50 V221.00 H103.40" fill="none" stroke="#f4f4f0" stroke-width="0.6" opacity="0.8"/>
<rect x="56.65" y="222.20" width="50" height="25" fill="#a8a69c" stroke="#2a2a2a" stroke-width="0.75"/>
<path d="M57.55,246.60 V223.10 H106.05" fill="none" stroke="#f4f4f0" stroke-width="0.6" opacity="0.8"/>
<rect x="59.3" y="224.3" width="50" height="25" fill="#e4e0d4" stroke="#2a2a2a" stroke-width="1.2"/>
<g stroke="#1a1a1a" stroke-width="1.3" fill="none">
<line x1="126" y1="214.6" x2="126" y2="235.4"/>
<line x1="113.6" y1="235.4" x2="140.3" y2="235.4"/>
<line x1="126" y1="235.4" x2="137" y2="219.6"/>
</g>
<path d="M123.8,215.6 L126,211.6 L128.2,215.6 Z" fill="#1a1a1a"/>
<path d="M139.3,233.20000000000002 L143.3,235.4 L139.3,237.6 Z" fill="#1a1a1a"/>
<text x="132.3" y="251" font-size="12.3" text-anchor="middle" fill="#231f20" >ReLu</text>
<line x1="148" y1="230.3" x2="166" y2="230.3" stroke="#222" stroke-width="1.3"/>
<path d="M164,227.0 L171,230.3 L164,233.60000000000002 L165.5,230.3 Z" fill="#222"/>
<rect x="174.35" y="211.95" width="51.4" height="24.7" fill="#7c9858" stroke="#2a2a2a" stroke-width="0.75"/>
<path d="M175.25,236.05 V212.85 H225.15" fill="none" stroke="#f4f4f0" stroke-width="0.6" opacity="0.8"/>
<rect x="176.90" y="214.00" width="51.4" height="24.7" fill="#7c9858" stroke="#2a2a2a" stroke-width="0.75"/>
<path d="M177.80,238.10 V214.90 H227.70" fill="none" stroke="#f4f4f0" stroke-width="0.6" opacity="0.8"/>
<rect x="179.45" y="216.05" width="51.4" height="24.7" fill="#7c9858" stroke="#2a2a2a" stroke-width="0.75"/>
<path d="M180.35,240.15 V216.95 H230.25" fill="none" stroke="#f4f4f0" stroke-width="0.6" opacity="0.8"/>
<rect x="182.00" y="218.10" width="51.4" height="24.7" fill="#7c9858" stroke="#2a2a2a" stroke-width="0.75"/>
<path d="M182.90,242.20 V219.00 H232.80" fill="none" stroke="#f4f4f0" stroke-width="0.6" opacity="0.8"/>
<rect x="184.55" y="220.15" width="51.4" height="24.7" fill="#7c9858" stroke="#2a2a2a" stroke-width="0.75"/>
<path d="M185.45,244.25 V221.05 H235.35" fill="none" stroke="#f4f4f0" stroke-width="0.6" opacity="0.8"/>
<rect x="187.1" y="222.2" width="51.4" height="24.7" fill="#a0b878" stroke="#2a2a2a" stroke-width="1.2"/>
<g stroke="#1a1a1a" stroke-width="1.3" fill="none">
<line x1="254.3" y1="211.6" x2="254.3" y2="232.4"/>
<line x1="242.4" y1="232.4" x2="268.3" y2="232.4"/>
<line x1="254.3" y1="232.4" x2="266.2" y2="216.8"/>
</g>
<path d="M252.10000000000002,212.6 L254.3,208.6 L256.5,212.6 Z" fill="#1a1a1a"/>
<path d="M267.3,230.20000000000002 L271.3,232.4 L267.3,234.6 Z" fill="#1a1a1a"/>
<text x="259.1" y="247.7" font-size="12.3" text-anchor="middle" fill="#231f20" >ReLu</text>
<line x1="279.8" y1="232.1" x2="297.8" y2="232.1" stroke="#222" stroke-width="1.3"/>
<path d="M295.8,228.79999999999998 L302.8,232.1 L295.8,235.4 L297.3,232.1 Z" fill="#222"/>
<rect x="309.2" y="220.6" width="31.3" height="27.2" fill="#eef2c8" stroke="#a8a890" stroke-width="0.9"/>
<g stroke="#3a3a30" stroke-width="0.9">
<line x1="319.63" y1="220.6" x2="319.63" y2="247.79999999999998"/>
<line x1="309.2" y1="229.67" x2="340.5" y2="229.67"/>
<line x1="330.07" y1="220.6" x2="330.07" y2="247.79999999999998"/>
<line x1="309.2" y1="238.73" x2="340.5" y2="238.73"/>
</g>
<g font-size="12.5" fill="#231f20" text-anchor="middle">
<text x="322.2" y="263.6">Dropout</text><text x="324.7" y="280.4">layer (0.1)</text>
<text x="519.9" y="261.6">Dropout</text><text x="524.4" y="277.4">layer (0.1)</text>
<text x="731.5" y="261.6">Dropout</text><text x="736" y="277.4">layer (0.1)</text>
</g>
<line x1="347.1" y1="232" x2="365.6" y2="232" stroke="#222" stroke-width="1.3"/>
<path d="M363.6,228.7 L370.6,232 L363.6,235.3 L365.1,232 Z" fill="#222"/>
<rect x="376.50" y="215.70" width="53.2" height="26" fill="#b0a090" stroke="#2a2a2a" stroke-width="0.75"/>
<path d="M377.40,241.10 V216.60 H429.10" fill="none" stroke="#f4f4f0" stroke-width="0.6" opacity="0.8"/>
<rect x="378.85" y="217.95" width="53.2" height="26" fill="#b0a090" stroke="#2a2a2a" stroke-width="0.75"/>
<path d="M379.75,243.35 V218.85 H431.45" fill="none" stroke="#f4f4f0" stroke-width="0.6" opacity="0.8"/>
<rect x="381.20" y="220.20" width="53.2" height="26" fill="#b0a090" stroke="#2a2a2a" stroke-width="0.75"/>
<path d="M382.10,245.60 V221.10 H433.80" fill="none" stroke="#f4f4f0" stroke-width="0.6" opacity="0.8"/>
<rect x="383.55" y="222.45" width="53.2" height="26" fill="#b0a090" stroke="#2a2a2a" stroke-width="0.75"/>
<path d="M384.45,247.85 V223.35 H436.15" fill="none" stroke="#f4f4f0" stroke-width="0.6" opacity="0.8"/>
<rect x="385.9" y="224.7" width="53.2" height="26" fill="#f8e4d0" stroke="#2a2a2a" stroke-width="1.2"/>
<g stroke="#1a1a1a" stroke-width="1.3" fill="none">
<line x1="455.1" y1="214.6" x2="455.1" y2="235.7"/>
<line x1="442.6" y1="235.7" x2="469.3" y2="235.7"/>
<line x1="455.1" y1="235.7" x2="466.2" y2="220"/>
</g>
<path d="M452.90000000000003,215.6 L455.1,211.6 L457.3,215.6 Z" fill="#1a1a1a"/>
<path d="M468.3,233.5 L472.3,235.7 L468.3,237.89999999999998 Z" fill="#1a1a1a"/>
<text x="460.3" y="250.7" font-size="12.3" text-anchor="middle" fill="#231f20" >ReLu</text>
<line x1="477.7" y1="230.6" x2="496.5" y2="230.6" stroke="#222" stroke-width="1.3"/>
<path d="M494.5,227.29999999999998 L501.5,230.6 L494.5,233.9 L496.0,230.6 Z" fill="#222"/>
<rect x="507.8" y="217.9" width="28.9" height="25.8" fill="#eef2c8" stroke="#a8a890" stroke-width="0.9"/>
<g stroke="#3a3a30" stroke-width="0.9">
<line x1="517.43" y1="217.9" x2="517.43" y2="243.70000000000002"/>
<line x1="507.8" y1="226.50" x2="536.7" y2="226.50"/>
<line x1="527.07" y1="217.9" x2="527.07" y2="243.70000000000002"/>
<line x1="507.8" y1="235.10" x2="536.7" y2="235.10"/>
</g>
<line x1="547.4" y1="231" x2="566.7" y2="231" stroke="#222" stroke-width="1.3"/>
<path d="M564.7,227.7 L571.7,231 L564.7,234.3 L566.2,231 Z" fill="#222"/>
<rect x="576.60" y="212.20" width="59.2" height="29.5" fill="#a08484" stroke="#2a2a2a" stroke-width="0.75"/>
<path d="M577.50,241.10 V213.10 H635.20" fill="none" stroke="#f4f4f0" stroke-width="0.6" opacity="0.8"/>
<rect x="579.20" y="214.75" width="59.2" height="29.5" fill="#a08484" stroke="#2a2a2a" stroke-width="0.75"/>
<path d="M580.10,243.65 V215.65 H637.80" fill="none" stroke="#f4f4f0" stroke-width="0.6" opacity="0.8"/>
<rect x="581.80" y="217.30" width="59.2" height="29.5" fill="#a08484" stroke="#2a2a2a" stroke-width="0.75"/>
<path d="M582.70,246.20 V218.20 H640.40" fill="none" stroke="#f4f4f0" stroke-width="0.6" opacity="0.8"/>
<rect x="584.40" y="219.85" width="59.2" height="29.5" fill="#a08484" stroke="#2a2a2a" stroke-width="0.75"/>
<path d="M585.30,248.75 V220.75 H643.00" fill="none" stroke="#f4f4f0" stroke-width="0.6" opacity="0.8"/>
<rect x="587" y="222.4" width="59.2" height="29.5" fill="#e0c2c2" stroke="#2a2a2a" stroke-width="1.2"/>
<g stroke="#1a1a1a" stroke-width="1.3" fill="none">
<line x1="666.4" y1="210.1" x2="666.4" y2="231.1"/>
<line x1="653.8" y1="231.1" x2="680.1" y2="231.1"/>
<line x1="666.4" y1="231.1" x2="677.5" y2="215.3"/>
</g>
<path d="M664.1999999999999,211.1 L666.4,207.1 L668.6,211.1 Z" fill="#1a1a1a"/>
<path d="M679.1,228.9 L683.1,231.1 L679.1,233.29999999999998 Z" fill="#1a1a1a"/>
<text x="671.6" y="246.3" font-size="12.3" text-anchor="middle" fill="#231f20" >ReLu</text>
<line x1="690.4" y1="230.6" x2="708.7" y2="230.6" stroke="#222" stroke-width="1.3"/>
<path d="M706.7,227.29999999999998 L713.7,230.6 L706.7,233.9 L708.2,230.6 Z" fill="#222"/>
<rect x="720.1" y="217.9" width="29.7" height="25.8" fill="#eef2c8" stroke="#a8a890" stroke-width="0.9"/>
<g stroke="#3a3a30" stroke-width="0.9">
<line x1="730.00" y1="217.9" x2="730.00" y2="243.70000000000002"/>
<line x1="720.1" y1="226.50" x2="749.8000000000001" y2="226.50"/>
<line x1="739.90" y1="217.9" x2="739.90" y2="243.70000000000002"/>
<line x1="720.1" y1="235.10" x2="749.8000000000001" y2="235.10"/>
</g>
<line x1="754.4" y1="231.5" x2="773.6" y2="231.5" stroke="#222" stroke-width="1.3"/>
<path d="M771.6,228.2 L778.6,231.5 L771.6,234.8 L773.1,231.5 Z" fill="#222"/>
<rect x="782.5" y="218.7" width="44.2" height="23.8" fill="#d2e0b8" stroke="#2a2a2a" stroke-width="1.3"/>
<g font-size="16" fill="#231f20" text-anchor="middle">
<text x="71.4" y="291.5">Input layer kernel</text><text x="71.4" y="309.2">&lt;1429 x 1429&gt;</text>
<text x="221.5" y="291.5">Dense layer</text><text x="221.1" y="309.2">kernel &lt;1429 x 512&gt;</text>
<text x="421.5" y="293">Dense layer</text><text x="427.7" y="308.8">kernel &lt;512 x 140&gt;</text>
<text x="624.4" y="291.8">Dense layer</text><text x="629.6" y="309.5">kernel &lt;140 x 200&gt;</text>
<text x="817.8" y="291.8">Output layer</text><text x="825.1" y="309.5">&lt;200 x 1&gt;</text>
</g>
<g stroke="#231f20" stroke-width="1.8" fill="none">
<path d="M81,414.3 L81,551 L285,551"/>
<line x1="74.9" y1="414.8" x2="81" y2="414.8"/>
<line x1="74.9" y1="460.5" x2="81" y2="460.5"/>
<line x1="74.9" y1="506" x2="81" y2="506"/>
<line x1="74.9" y1="551" x2="81" y2="551"/>
</g>
<g font-size="15" fill="#231f20" text-anchor="end">
<text x="70.5" y="420.4">0.6</text>
<text x="70.5" y="466">0.4</text>
<text x="70.5" y="511.5">0.2</text>
<text x="70.5" y="556.5">0.0</text>
</g>
<g font-size="15" fill="#231f20" text-anchor="middle">
<text transform="translate(20.3,480.5) rotate(-90)">Correlation</text>
<text transform="translate(36.5,478.8) rotate(-90)">(predicted vs observed)</text>
</g>
<line x1="96.70" y1="437.9" x2="96.70" y2="431.8" stroke="#3a55a0" stroke-width="1.6"/>
<line x1="92.20" y1="431.8" x2="101.20" y2="431.8" stroke="#3a55a0" stroke-width="1.6"/>
<path d="M88,551 L88,439.4 Q88,437.9 89.5,437.9 L103.9,437.9 Q105.4,437.9 105.4,439.4 L105.4,551 Z" fill="#3a55a0"/>
<line x1="96.70" y1="551" x2="96.70" y2="557" stroke="#231f20" stroke-width="1.8"/>
<line x1="121.00" y1="443.5" x2="121.00" y2="437.4" stroke="#e8302a" stroke-width="1.6"/>
<line x1="116.50" y1="437.4" x2="125.50" y2="437.4" stroke="#e8302a" stroke-width="1.6"/>
<path d="M112.3,551 L112.3,445.0 Q112.3,443.5 113.8,443.5 L128.2,443.5 Q129.7,443.5 129.7,445.0 L129.7,551 Z" fill="#e8302a"/>
<line x1="121.00" y1="551" x2="121.00" y2="557" stroke="#231f20" stroke-width="1.8"/>
<line x1="145.70" y1="448.5" x2="145.70" y2="443.7" stroke="#30b04a" stroke-width="1.6"/>
<line x1="141.20" y1="443.7" x2="150.20" y2="443.7" stroke="#30b04a" stroke-width="1.6"/>
<path d="M137.0,551 L137.0,450.0 Q137.0,448.5 138.5,448.5 L152.9,448.5 Q154.4,448.5 154.4,450.0 L154.4,551 Z" fill="#30b04a"/>
<line x1="145.70" y1="551" x2="145.70" y2="557" stroke="#231f20" stroke-width="1.8"/>
<line x1="170.30" y1="455.2" x2="170.30" y2="448.9" stroke="#8a4aa0" stroke-width="1.6"/>
<line x1="165.80" y1="448.9" x2="174.80" y2="448.9" stroke="#8a4aa0" stroke-width="1.6"/>
<path d="M161.6,551 L161.6,456.7 Q161.6,455.2 163.1,455.2 L177.5,455.2 Q179.0,455.2 179.0,456.7 L179.0,551 Z" fill="#8a4aa0"/>
<line x1="170.30" y1="551" x2="170.30" y2="557" stroke="#231f20" stroke-width="1.8"/>
<line x1="194.70" y1="456.2" x2="194.70" y2="452.8" stroke="#f08020" stroke-width="1.6"/>
<line x1="190.20" y1="452.8" x2="199.20" y2="452.8" stroke="#f08020" stroke-width="1.6"/>
<path d="M186.0,551 L186.0,457.7 Q186.0,456.2 187.5,456.2 L201.9,456.2 Q203.4,456.2 203.4,457.7 L203.4,551 Z" fill="#f08020"/>
<line x1="194.70" y1="551" x2="194.70" y2="557" stroke="#231f20" stroke-width="1.8"/>
<line x1="219.50" y1="462.5" x2="219.50" y2="455.7" stroke="#231f20" stroke-width="1.6"/>
<line x1="215.00" y1="455.7" x2="224.00" y2="455.7" stroke="#231f20" stroke-width="1.6"/>
<path d="M210.8,551 L210.8,464.0 Q210.8,462.5 212.3,462.5 L226.70000000000002,462.5 Q228.20000000000002,462.5 228.20000000000002,464.0 L228.20000000000002,551 Z" fill="#231f20"/>
<line x1="219.50" y1="551" x2="219.50" y2="557" stroke="#231f20" stroke-width="1.8"/>
<line x1="243.80" y1="472.0" x2="243.80" y2="465.4" stroke="#8e6025" stroke-width="1.6"/>
<line x1="239.30" y1="465.4" x2="248.30" y2="465.4" stroke="#8e6025" stroke-width="1.6"/>
<path d="M235.1,551 L235.1,473.5 Q235.1,472.0 236.6,472.0 L251.0,472.0 Q252.5,472.0 252.5,473.5 L252.5,551 Z" fill="#8e6025"/>
<line x1="243.80" y1="551" x2="243.80" y2="557" stroke="#231f20" stroke-width="1.8"/>
<line x1="268.30" y1="514.8" x2="268.30" y2="510.4" stroke="#262878" stroke-width="1.6"/>
<line x1="263.80" y1="510.4" x2="272.80" y2="510.4" stroke="#262878" stroke-width="1.6"/>
<path d="M259.6,551 L259.6,516.3 Q259.6,514.8 261.1,514.8 L275.5,514.8 Q277.0,514.8 277.0,516.3 L277.0,551 Z" fill="#262878"/>
<line x1="268.30" y1="551" x2="268.30" y2="557" stroke="#231f20" stroke-width="1.8"/>
<g font-size="15.7" fill="#231f20" text-anchor="end">
<text transform="translate(101.50,565) rotate(-45)">Precily_pathways</text>
<text transform="translate(125.80,565) rotate(-45)">CaDRReS-Sc</text>
<text transform="translate(150.50,565) rotate(-45)">RandomForest_genes</text>
<text transform="translate(175.10,565) rotate(-45)">RandomForest_pathways</text>
<text transform="translate(199.50,565) rotate(-45)">Theodore et al.</text>
<text transform="translate(224.30,565) rotate(-45)">ElasticNet_pathways</text>
<text transform="translate(248.60,565) rotate(-45)">Precily_genes</text>
<text transform="translate(273.10,565) rotate(-45)">ElasticNet_genes</text>
</g>
<clipPath id="c1"><rect x="349.5" y="380" width="215" height="170.5"/></clipPath>
<g clip-path="url(#c1)">
<path d="M407.7 534.7h0M417.5 521.7h0M441.7 516.5h0M493.6 494.4h0M403.9 527.1h0M424.6 527.1h0M416.6 532.0h0M422.9 513.7h0M549.5 451.9h0M410.9 516.4h0M472.3 490.7h0M410.8 510.5h0M418.3 514.8h0M404.2 511.3h0M444.4 514.5h0M453.5 525.0h0M413.0 521.3h0M377.3 547.2h0M380.3 518.0h0M540.1 450.3h0M399.1 533.9h0M396.8 527.5h0M414.7 506.8h0M397.0 525.2h0M398.7 530.6h0M533.9 460.6h0M396.8 547.3h0M402.6 528.2h0M393.6 527.2h0M417.9 525.0h0M406.3 521.9h0M384.1 538.4h0M379.6 530.2h0M379.5 546.2h0M478.4 497.0h0M380.9 519.5h0M447.3 510.3h0M429.3 513.0h0M400.8 521.9h0M414.3 528.4h0M403.3 503.0h0M401.9 536.7h0M407.1 540.9h0M404.9 531.9h0M421.0 538.2h0M407.2 514.7h0M503.8 479.9h0M392.2 525.6h0M387.5 527.2h0M410.0 515.9h0M471.2 489.5h0M410.5 532.4h0M443.2 523.5h0M431.4 525.1h0M462.2 499.2h0M499.4 489.6h0M393.8 516.4h0M451.6 526.6h0M415.2 525.9h0M461.1 520.4h0M433.1 524.3h0M373.3 533.8h0M429.0 518.8h0M424.3 512.1h0M418.0 528.6h0M389.7 522.7h0M411.7 538.7h0M437.7 524.2h0M487.6 498.8h0M409.7 525.8h0M468.1 508.1h0M414.6 526.1h0M405.0 521.6h0M507.1 484.6h0M394.1 498.6h0M528.9 472.0h0M376.7 535.8h0M412.1 519.7h0M415.5 514.4h0M404.6 533.4h0M393.6 526.4h0M390.2 537.6h0M414.6 530.0h0M402.3 529.9h0M415.9 496.6h0M440.0 514.2h0M422.9 516.4h0M549.8 466.1h0M411.5 512.4h0M415.1 529.3h0M406.3 519.8h0M394.0 525.8h0M529.9 464.1h0M425.7 522.0h0M404.0 548.7h0M420.0 517.2h0M388.1 523.3h0M413.2 528.2h0M454.5 508.4h0M410.7 534.7h0M400.6 525.1h0M474.8 495.8h0M415.5 535.3h0M431.3 522.3h0M422.6 514.2h0M409.7 506.0h0M428.9 522.8h0M401.8 522.2h0M396.9 512.2h0M391.7 509.0h0M470.0 503.1h0M429.6 505.4h0M416.9 524.3h0M438.3 522.5h0M412.2 529.4h0M411.7 520.5h0M378.6 514.0h0M447.9 505.6h0M416.2 527.0h0M450.4 502.8h0M399.0 527.8h0M417.0 524.5h0M403.9 527.5h0M439.3 514.7h0M393.0 522.3h0M398.0 538.7h0M512.5 480.1h0M437.0 513.1h0M420.1 512.4h0M487.3 496.7h0M430.2 549.8h0M456.3 518.1h0M473.2 494.9h0M414.4 515.7h0M418.0 523.8h0M388.8 526.9h0M381.4 519.8h0M390.5 530.0h0M434.4 523.3h0M504.7 498.6h0M428.6 508.5h0M427.5 531.2h0M414.4 516.5h0M496.7 482.9h0M548.9 456.9h0M446.4 510.3h0M479.8 503.2h0M420.5 526.9h0M423.7 526.3h0M485.9 492.1h0M400.3 539.1h0M535.2 450.0h0M424.5 524.6h0M462.7 509.9h0M414.2 512.5h0M400.5 533.0h0M466.3 516.4h0M510.3 471.5h0M383.0 515.3h0M415.3 525.6h0M414.2 533.5h0M427.7 505.7h0M368.0 546.0h0M408.3 533.2h0M542.0 470.4h0M442.5 512.4h0M548.1 473.7h0M435.5 523.7h0M433.1 520.3h0M500.8 479.3h0M435.6 508.5h0M426.5 520.9h0M502.3 476.0h0M380.3 536.9h0M389.1 513.4h0M391.1 520.4h0M406.2 521.5h0M412.8 529.6h0M541.2 466.5h0M485.2 504.9h0M471.9 493.5h0M418.2 520.3h0M385.3 523.8h0M497.0 491.8h0M406.4 520.5h0M439.5 520.7h0M426.1 516.1h0M400.8 504.0h0M532.8 455.4h0M418.3 510.4h0M375.8 541.1h0M414.6 543.2h0M437.5 532.5h0M503.2 479.4h0M446.8 515.2h0M416.0 521.9h0M545.3 453.6h0M412.4 507.5h0M526.7 468.0h0M404.4 521.7h0M406.6 517.6h0M489.5 500.1h0M397.9 521.2h0M397.6 526.8h0M437.1 517.1h0M493.9 490.0h0M464.5 503.5h0M399.3 525.8h0M360.0 540.0h0M420.3 518.3h0M412.7 514.2h0M385.8 547.2h0M422.4 514.0h0M405.0 504.8h0M398.5 528.5h0M408.6 534.6h0M406.4 513.8h0M422.6 520.2h0M454.9 509.8h0M422.6 522.4h0M400.5 520.0h0M416.9 517.5h0M430.8 526.8h0M439.3 515.0h0M428.1 524.6h0M404.7 504.0h0M463.3 509.8h0M401.8 524.4h0M388.0 523.0h0M418.3 518.3h0M404.4 518.5h0M423.9 521.8h0M472.6 487.7h0M431.9 520.1h0M416.6 500.8h0M419.0 519.5h0M546.0 457.9h0M418.5 489.4h0M410.9 510.7h0M434.3 520.9h0M511.0 475.6h0M469.8 490.1h0M457.1 519.3h0M413.2 533.9h0M416.2 521.6h0M411.8 527.4h0M461.0 520.4h0M432.0 533.7h0M452.8 506.8h0M461.8 504.5h0M357.5 535.0h0M486.7 501.4h0M409.4 523.6h0M437.8 515.9h0M411.8 524.4h0M402.9 515.8h0M398.4 527.1h0M435.7 516.9h0M416.3 518.6h0M374.4 525.3h0M437.6 518.4h0M433.1 531.1h0M424.4 517.9h0M527.6 459.1h0M396.0 531.5h0M422.9 514.2h0M540.2 475.0h0M394.3 547.3h0M402.2 533.8h0M496.9 481.1h0M442.0 517.3h0M425.1 536.8h0M403.4 521.3h0M457.0 497.4h0M424.9 506.2h0M411.1 484.1h0M414.4 507.0h0M399.1 522.8h0M460.8 513.7h0M515.3 485.1h0M418.1 479.2h0M400.2 501.3h0M393.1 527.5h0M448.3 504.7h0M392.8 530.6h0M418.2 516.9h0M528.2 469.2h0M379.8 510.3h0M525.5 462.1h0M399.9 531.1h0M402.9 518.0h0M432.3 523.8h0M420.0 524.3h0M407.0 517.7h0M448.4 517.5h0M384.9 530.7h0M443.0 509.1h0M452.9 511.9h0M398.3 515.1h0M413.9 545.5h0M419.8 518.7h0M404.2 535.3h0M451.1 521.9h0M448.5 520.3h0M446.9 515.7h0M391.5 534.0h0M388.7 526.3h0M514.2 470.9h0M400.8 523.2h0M390.9 531.0h0M399.6 528.6h0M512.3 475.7h0M390.9 517.9h0M466.3 499.3h0M501.0 478.6h0M402.4 537.8h0M395.0 527.8h0M411.6 520.0h0M444.5 519.6h0M389.0 524.2h0M523.4 463.6h0M417.5 495.7h0M398.6 512.2h0M418.3 528.9h0M390.8 492.0h0M408.3 535.7h0M450.3 497.2h0M390.7 545.2h0M497.3 493.2h0M412.6 498.1h0M400.4 531.5h0M393.8 531.7h0M523.7 453.4h0M479.8 514.4h0M439.8 513.5h0M526.8 466.3h0M430.9 517.1h0M402.0 536.4h0M398.3 518.4h0M392.6 515.1h0M438.4 504.4h0M388.1 522.7h0M413.6 502.0h0M383.5 527.8h0M391.3 521.4h0M411.3 521.3h0M399.2 501.6h0M518.5 481.3h0M502.9 486.9h0M413.9 524.5h0M501.0 487.1h0M395.5 529.4h0M399.9 534.2h0M503.4 478.7h0M401.9 532.0h0M417.9 513.2h0M514.6 474.1h0M541.7 458.3h0M442.0 521.6h0M413.7 522.9h0M424.1 516.9h0M461.9 490.5h0M380.6 533.0h0M450.9 505.5h0M456.6 520.4h0M392.6 533.6h0M443.6 491.9h0M447.6 504.6h0M478.1 495.9h0M436.5 507.4h0M489.7 494.7h0M424.2 525.5h0M545.3 472.9h0M411.7 530.9h0M459.3 439.2h0M404.1 533.3h0M443.3 512.4h0M436.4 508.6h0M491.6 502.8h0M510.8 470.4h0M505.7 483.1h0M414.5 524.3h0M428.5 515.5h0M420.8 485.2h0M429.5 516.2h0M551.4 459.5h0M408.2 533.1h0M453.8 511.1h0M442.3 517.2h0M417.2 531.7h0M450.2 505.4h0M472.6 495.0h0M519.3 477.8h0M398.2 523.1h0M411.4 529.6h0M428.5 513.4h0M409.7 529.3h0M400.5 529.5h0M404.1 530.6h0M384.8 526.8h0M437.6 511.8h0M423.6 517.2h0M517.0 473.7h0M448.3 522.0h0M417.5 511.5h0M411.9 519.1h0M400.4 528.1h0M458.8 502.2h0M428.3 513.2h0M410.0 510.5h0M442.3 526.0h0M434.9 532.2h0M417.3 503.5h0M421.1 510.4h0M405.4 533.3h0M515.0 464.1h0M433.4 508.3h0M486.4 498.2h0M405.3 528.7h0M393.1 540.0h0M446.1 510.7h0M473.8 491.8h0M405.8 504.3h0M375.9 506.1h0M403.6 536.6h0M424.2 512.8h0M498.1 478.7h0M441.6 510.2h0M410.5 511.1h0M481.4 491.1h0M492.3 496.3h0M408.5 533.1h0M410.2 507.7h0M412.2 506.9h0M397.1 528.5h0M425.5 513.4h0M505.9 485.1h0M432.8 510.8h0M375.4 485.7h0M417.4 509.2h0M420.8 523.2h0M446.6 510.9h0M438.2 515.6h0M472.7 498.1h0M538.8 453.7h0M413.9 530.5h0M402.1 529.5h0M397.6 529.4h0M421.1 531.2h0M411.8 522.2h0" stroke="#23a84a" stroke-width="3.7" stroke-linecap="round" fill="none"/>
<path d="M464.6 502.9h0M486.6 489.5h0M459.0 501.8h0M421.2 515.2h0M401.6 541.4h0M412.4 499.8h0M409.3 522.2h0M428.9 498.7h0M404.1 516.6h0M385.1 528.9h0M466.6 496.0h0M528.2 471.1h0M491.3 493.2h0M446.9 517.4h0M469.1 494.4h0M450.3 493.9h0M475.6 503.5h0M422.6 509.3h0M415.3 510.6h0M449.9 509.6h0M417.3 517.2h0M427.3 500.4h0M449.2 513.0h0M403.8 529.2h0M402.9 521.0h0M422.0 510.0h0M440.3 520.7h0M423.0 531.0h0M366.0 542.0h0M413.4 525.8h0M413.5 504.6h0M433.1 446.4h0M422.5 515.1h0M442.3 517.4h0M405.2 512.9h0M435.1 508.8h0M437.0 509.4h0M444.8 509.7h0M530.7 456.6h0M528.8 469.7h0M480.6 490.0h0M426.1 536.9h0M418.8 505.7h0M441.3 519.2h0M408.0 518.8h0M401.3 539.3h0M431.6 506.4h0M472.9 497.0h0M419.8 514.5h0M417.5 515.7h0M538.5 464.8h0M506.3 482.5h0M429.1 512.1h0M428.2 521.1h0M424.5 510.5h0M452.6 515.8h0M536.3 461.5h0M408.2 510.4h0M426.3 517.2h0M493.7 496.5h0M458.7 512.1h0M409.9 532.1h0M404.3 509.7h0M410.9 508.7h0M435.5 519.7h0M418.8 510.9h0M412.5 524.3h0M507.1 477.2h0M417.4 522.2h0M374.7 543.0h0M407.6 527.8h0M437.5 508.6h0M547.7 455.0h0M488.7 490.5h0M508.7 478.0h0M431.3 513.4h0M373.1 534.7h0M551.2 436.9h0M448.9 512.4h0M516.5 479.3h0M482.3 498.8h0M514.2 473.2h0M412.2 518.7h0M466.9 513.6h0M415.2 516.5h0M422.8 513.2h0M496.8 477.4h0M398.8 498.9h0M404.1 518.5h0M421.1 524.7h0M420.3 534.7h0M422.8 496.8h0M440.7 502.8h0M514.4 492.1h0M428.8 515.1h0M464.6 511.7h0M371.9 517.7h0M387.0 514.2h0M433.7 500.8h0M400.5 502.0h0M437.5 510.2h0M442.5 513.9h0M475.1 499.2h0M404.3 504.2h0M415.9 509.2h0M380.9 542.4h0M517.1 481.2h0M416.2 512.0h0M387.6 513.7h0M421.1 503.3h0M433.9 509.4h0M446.4 511.6h0M434.8 506.0h0M470.5 497.3h0M496.1 481.8h0M386.3 532.1h0M398.9 524.6h0M393.7 521.4h0M449.1 504.8h0M494.2 480.6h0M498.6 480.1h0M412.7 548.2h0M411.7 533.5h0M432.2 521.1h0M536.6 453.7h0M430.7 514.4h0M385.8 516.0h0M438.9 514.0h0M521.1 466.4h0M523.1 465.7h0M404.2 503.5h0M404.7 525.9h0M453.9 508.7h0M416.4 503.1h0M409.7 523.2h0M504.3 481.6h0M433.8 499.2h0M387.9 541.3h0M394.3 533.7h0M480.3 507.0h0M372.5 497.2h0M395.7 529.2h0M447.6 519.9h0M502.5 488.1h0M413.4 519.2h0M511.5 482.4h0M412.7 520.9h0M398.7 534.3h0M398.0 517.6h0M401.7 530.0h0M418.8 492.5h0M400.3 526.6h0M410.4 519.2h0M460.5 506.3h0M502.1 473.9h0M379.6 522.2h0M386.3 524.1h0M438.9 509.5h0M404.5 513.3h0M436.1 513.2h0M386.3 517.0h0M421.1 497.5h0M442.2 518.7h0M450.8 503.3h0M445.9 510.2h0M408.0 496.2h0M454.3 505.7h0M526.8 457.8h0M460.9 494.2h0M417.1 517.0h0M462.2 505.0h0M540.4 456.7h0M405.2 518.8h0M543.2 458.5h0M401.5 513.4h0M388.0 533.1h0M412.0 513.8h0M397.9 517.9h0M391.0 516.2h0M452.6 512.0h0M405.2 515.4h0M423.7 516.3h0M461.6 507.8h0M530.1 467.0h0M422.1 525.6h0M421.2 513.0h0M420.6 513.0h0M496.1 486.8h0M528.3 462.6h0M430.3 513.7h0M406.1 520.4h0M421.6 521.3h0M506.8 489.7h0M422.3 504.3h0M394.7 528.7h0M411.6 533.3h0M447.8 505.0h0M441.1 492.7h0M488.0 502.6h0M468.5 487.4h0M414.7 507.3h0M392.0 533.5h0M385.4 524.3h0M492.9 482.3h0M474.8 501.7h0M487.7 496.8h0M401.8 527.9h0M415.7 517.7h0M461.7 504.9h0M441.4 513.3h0M411.1 511.7h0M428.9 523.3h0M520.4 464.5h0M460.9 499.4h0M432.4 475.8h0M406.6 536.9h0M402.3 528.5h0M417.0 521.7h0M499.8 484.1h0M385.5 538.1h0M411.2 522.5h0M440.6 505.7h0M394.6 522.0h0M487.0 490.8h0M479.1 488.1h0M495.9 484.0h0M460.0 509.0h0M417.9 511.7h0M391.0 522.0h0M405.6 523.7h0M372.6 515.8h0M521.2 475.0h0M422.1 513.3h0M403.0 513.5h0M535.3 447.8h0M458.3 503.6h0M427.3 520.1h0M429.1 505.8h0M424.9 535.7h0M415.0 513.3h0M534.1 464.4h0M413.1 485.8h0M450.1 501.8h0M524.1 458.9h0M412.5 530.0h0M523.6 456.8h0M398.0 508.9h0M443.2 519.6h0M420.7 505.4h0M509.4 471.3h0M435.0 509.3h0M456.9 529.1h0M501.4 480.6h0M488.9 482.6h0M439.7 501.3h0M491.1 490.0h0M545.3 447.6h0M516.7 458.2h0M378.3 538.7h0M432.1 522.9h0M446.4 511.9h0M438.9 518.9h0M513.7 492.3h0M408.0 518.4h0M389.0 533.8h0M412.1 496.2h0M445.5 502.4h0M438.5 502.2h0M527.9 482.9h0M506.6 481.6h0M409.2 529.8h0M469.6 499.7h0M430.8 513.0h0M424.2 518.1h0M448.8 504.1h0M431.6 517.6h0M489.7 477.8h0M404.7 520.8h0M425.3 513.3h0M411.6 517.2h0M391.1 550.9h0M446.7 509.5h0M426.6 492.1h0M440.4 513.8h0M433.2 522.9h0M417.8 515.2h0M434.9 505.6h0M394.1 524.6h0M542.6 445.3h0M431.9 510.5h0M444.4 539.4h0M550.8 443.7h0M433.3 507.0h0M472.9 502.6h0M395.3 527.0h0M420.6 513.3h0M448.9 498.1h0M416.2 504.5h0M418.4 522.9h0M416.8 505.4h0M495.5 482.3h0M398.8 515.1h0M466.0 502.8h0M448.5 499.8h0M466.3 494.9h0M440.7 514.1h0M430.9 505.6h0M400.3 541.5h0M409.3 530.5h0M425.6 499.7h0M431.5 494.0h0M407.8 517.4h0M441.3 515.1h0M433.8 467.2h0M424.8 521.9h0M411.8 526.2h0M404.3 535.1h0M413.7 484.9h0M444.4 513.2h0M392.4 533.8h0M435.9 512.0h0M420.9 505.7h0M434.2 510.5h0M528.6 478.0h0M412.2 519.0h0M407.9 518.0h0M449.2 498.8h0M413.0 501.6h0M409.9 517.6h0M371.9 546.0h0M423.2 500.9h0M420.3 521.9h0M538.9 445.7h0M443.3 521.6h0M406.1 509.7h0M388.2 527.4h0M412.8 504.4h0M402.4 532.9h0M415.6 504.3h0M433.9 523.5h0M397.1 525.9h0M479.6 500.0h0M411.4 528.5h0M448.9 504.2h0M395.6 513.3h0M407.0 520.1h0M474.3 487.2h0M481.1 494.5h0M404.0 517.7h0M550.0 434.6h0M391.7 528.3h0M402.0 512.8h0M414.5 512.5h0M403.1 526.6h0M386.9 534.6h0M409.4 498.3h0M425.0 506.4h0M466.7 502.7h0M411.7 519.9h0M435.4 515.6h0M428.0 504.8h0M470.7 497.1h0M428.0 512.7h0M383.5 546.6h0M406.3 531.4h0M493.0 478.1h0M406.7 521.0h0M428.0 525.6h0M420.9 502.3h0M501.0 488.8h0M405.6 525.4h0M511.4 475.1h0M445.9 497.9h0M490.5 484.3h0M470.4 503.0h0M477.2 489.1h0M372.5 500.4h0M378.7 538.8h0M427.6 507.5h0M410.8 510.2h0M465.2 496.9h0M433.6 508.5h0M407.1 509.0h0M426.3 506.7h0M454.1 508.3h0M454.7 420.9h0M398.7 549.7h0M406.5 509.1h0M436.5 495.3h0M461.3 505.0h0M382.7 522.5h0M510.0 469.1h0M412.0 512.6h0M454.3 502.6h0M456.5 502.4h0M414.7 515.3h0M483.8 488.0h0" stroke="#24a949" stroke-width="3.7" stroke-linecap="round" fill="none"/>
<path d="M470.0 496.7h0M410.2 524.4h0M421.8 528.4h0M448.3 507.4h0M508.5 475.1h0M414.8 508.0h0M442.5 503.8h0M459.0 504.2h0M409.2 528.8h0M415.9 518.6h0M422.8 510.3h0M419.6 482.1h0M432.3 528.7h0M440.9 513.6h0M528.8 452.3h0M546.7 447.6h0M383.1 539.4h0M405.9 509.2h0M450.5 495.8h0M443.4 506.6h0M433.3 519.7h0M406.3 518.2h0M420.6 506.2h0M482.7 423.8h0M464.9 491.8h0M500.6 473.5h0M452.2 507.9h0M549.9 467.5h0M475.8 488.3h0M398.7 544.4h0M401.9 527.7h0M414.4 530.9h0M405.8 515.6h0M411.3 514.1h0M421.5 510.9h0M443.3 501.1h0M533.2 461.2h0M390.7 538.4h0M495.7 486.6h0M413.6 517.6h0M480.4 497.4h0M546.2 440.0h0M409.7 517.0h0M542.7 461.2h0M441.8 500.6h0M419.3 511.9h0M468.7 503.5h0M455.4 505.1h0M548.6 440.5h0M436.9 502.0h0M418.5 515.0h0M443.5 521.6h0M489.8 487.0h0M450.1 505.0h0M440.8 512.8h0M411.9 524.6h0M411.2 519.1h0M395.9 513.7h0M490.6 495.4h0M398.1 525.2h0M446.7 514.3h0M411.1 515.0h0M390.3 539.7h0M426.5 516.2h0M410.6 517.2h0M419.3 504.5h0M419.0 530.0h0M420.0 488.8h0M425.7 513.9h0M401.1 516.2h0M451.0 509.4h0M422.2 510.0h0M514.7 468.9h0M398.5 527.7h0M380.9 533.7h0M515.6 473.9h0M410.5 531.0h0M400.3 526.5h0M444.7 502.6h0M430.1 501.9h0M374.7 546.3h0M424.7 510.2h0M437.7 506.6h0M534.1 454.3h0M418.9 508.1h0M457.1 503.6h0M457.9 517.4h0M492.1 489.9h0M468.3 500.8h0M430.0 519.4h0M454.6 496.2h0M437.7 509.7h0M428.1 518.2h0M425.8 527.0h0M551.2 430.8h0M505.1 479.7h0M417.9 512.8h0M430.1 511.4h0M490.9 485.5h0M542.6 459.3h0M439.5 506.7h0M447.8 504.7h0M417.3 518.4h0M440.8 511.6h0M545.5 447.5h0M425.3 498.8h0M402.2 518.5h0M551.7 420.3h0M403.8 489.3h0M433.5 505.0h0M433.1 511.5h0M511.0 468.1h0M447.8 452.7h0M453.6 497.9h0M460.7 492.5h0M491.5 487.9h0M472.8 501.5h0M425.5 524.7h0M434.1 525.2h0M498.0 480.6h0M421.9 514.7h0M432.4 503.1h0M474.5 487.0h0M420.6 473.1h0M455.6 495.4h0M419.1 513.5h0M519.3 473.8h0M480.4 522.0h0M452.4 491.0h0M519.3 477.1h0M456.2 503.9h0M488.7 477.9h0M423.0 519.2h0M426.3 496.2h0M549.6 431.7h0M417.1 511.4h0M424.1 509.6h0M406.8 536.8h0M388.4 530.6h0M479.1 497.8h0M480.3 485.7h0M426.7 502.2h0M405.1 529.0h0M418.3 513.9h0M432.7 513.3h0M464.2 492.8h0M430.4 495.4h0M483.6 489.3h0M418.5 516.3h0M510.2 482.7h0M423.4 496.6h0M472.2 493.8h0M418.0 503.7h0M415.8 524.6h0M407.4 519.1h0M447.6 509.3h0M440.5 457.2h0M381.4 540.8h0M407.1 538.2h0M519.8 471.0h0M414.2 509.1h0M374.8 527.9h0M466.6 502.0h0M471.0 499.7h0M549.4 443.3h0M385.9 535.3h0M437.2 494.3h0M453.2 507.9h0M507.8 483.5h0M462.7 491.0h0M420.3 514.8h0M431.3 512.5h0M446.0 518.3h0M449.1 493.0h0M476.5 495.8h0M458.3 492.1h0M440.2 499.0h0M445.3 499.8h0M468.3 497.1h0M406.8 525.3h0M409.9 504.1h0M487.7 486.4h0M434.5 507.7h0M404.7 509.6h0M432.8 490.7h0M454.7 501.3h0M423.4 510.2h0M452.4 502.1h0M512.3 480.6h0M439.6 508.3h0M412.7 512.7h0M432.1 475.0h0M428.4 499.9h0M447.3 503.5h0M466.8 485.2h0M373.4 516.7h0M486.0 480.9h0M411.3 517.8h0M421.9 485.3h0M417.0 515.4h0M426.0 509.4h0M465.9 489.5h0M448.4 498.4h0M482.0 490.4h0M412.7 526.7h0M412.2 520.7h0M469.0 492.4h0M371.3 536.6h0M410.6 510.2h0M455.9 498.3h0M428.8 514.2h0M447.2 512.7h0M535.5 450.2h0M391.5 522.8h0M508.1 477.6h0M440.4 512.3h0M446.1 497.5h0M421.6 516.6h0M494.4 480.4h0M420.8 499.2h0M445.7 502.5h0M546.5 462.3h0M449.4 499.7h0M433.5 513.6h0M424.7 483.9h0M533.4 475.0h0M405.3 516.5h0M427.2 516.2h0M406.7 540.3h0M532.3 452.9h0M489.3 481.1h0M429.7 511.7h0M413.3 532.6h0M428.8 510.1h0M430.4 503.3h0M417.6 494.9h0M426.5 511.3h0M428.0 523.8h0M461.5 444.5h0M546.2 430.1h0M490.7 492.8h0M425.5 514.6h0M470.6 492.1h0M433.0 493.0h0M521.2 473.2h0M409.8 515.3h0M453.1 497.9h0M468.4 506.5h0M402.0 517.2h0M479.5 487.7h0M428.6 509.4h0M533.5 476.8h0M426.8 500.2h0M429.9 523.6h0M460.0 493.1h0M405.1 517.4h0M441.5 504.1h0M402.6 516.6h0M443.1 503.5h0M415.3 527.6h0M397.6 498.7h0M446.1 506.2h0M470.3 499.0h0M408.8 519.9h0M471.9 482.9h0M422.5 517.7h0M390.0 522.1h0M440.7 514.2h0M550.8 444.9h0M459.3 509.2h0M551.0 445.1h0M470.6 495.2h0M483.4 501.5h0M472.0 496.6h0M465.1 490.7h0M418.8 469.2h0M440.3 499.6h0M427.8 498.3h0M443.8 513.2h0M424.1 505.3h0M495.2 484.9h0M478.1 496.4h0M498.8 485.8h0M512.0 472.4h0M494.5 477.2h0M448.2 498.7h0M442.6 506.4h0M398.1 496.7h0M415.5 515.7h0M456.3 502.8h0M453.9 502.4h0M445.6 488.9h0M441.4 497.9h0M427.5 504.6h0M442.1 499.6h0M396.8 513.4h0M409.1 515.3h0M444.9 514.7h0M456.8 502.7h0M393.2 528.3h0M422.3 506.7h0M496.8 473.2h0M431.5 496.2h0M422.8 511.8h0M416.5 532.5h0M469.5 499.7h0M413.0 485.3h0M526.7 462.7h0M494.2 484.5h0M394.4 528.4h0M466.1 494.0h0M432.4 493.7h0M429.6 503.3h0M488.2 497.5h0M445.8 509.8h0M402.5 500.9h0M433.2 517.9h0M457.9 496.8h0M513.7 468.6h0M518.5 476.7h0M498.8 478.7h0M457.1 491.5h0M451.0 513.4h0M448.1 501.3h0M425.6 515.3h0M518.3 466.7h0M418.3 497.1h0M404.6 508.9h0M418.1 512.7h0M454.3 506.6h0M413.1 522.2h0M439.7 511.2h0M428.4 520.0h0M471.3 494.9h0M510.2 478.6h0M446.3 507.6h0M404.1 528.3h0M516.9 465.0h0M413.1 507.9h0M431.3 505.5h0M481.0 484.7h0M473.0 501.2h0M437.2 513.1h0M415.0 530.1h0M449.4 514.8h0M433.8 507.9h0M451.9 453.2h0M495.7 481.4h0M410.7 521.5h0M423.5 502.2h0M434.1 512.4h0M399.0 512.6h0M527.6 468.4h0M447.5 502.5h0M438.1 508.2h0M418.3 509.2h0M420.1 506.4h0M410.4 523.3h0M412.4 509.7h0M412.3 504.6h0M461.9 501.3h0M456.3 505.9h0M462.7 498.5h0M426.4 502.2h0M508.8 473.2h0M390.4 514.9h0M434.3 504.5h0M426.6 501.4h0M424.4 524.5h0M441.5 509.6h0M418.0 499.5h0M498.2 475.2h0M413.4 501.9h0" stroke="#25aa49" stroke-width="3.7" stroke-linecap="round" fill="none"/>
<path d="M495.5 484.6h0M437.2 506.5h0M431.2 516.4h0M445.5 498.6h0M447.2 489.4h0M414.9 516.3h0M393.7 526.5h0M403.1 520.5h0M532.2 459.8h0M440.0 498.0h0M541.6 447.8h0M395.2 519.2h0M480.7 494.5h0M441.6 501.3h0M533.2 450.4h0M521.9 454.7h0M422.9 509.1h0M414.6 496.5h0M424.4 500.2h0M407.5 521.7h0M446.2 494.6h0M388.7 532.9h0M419.9 512.6h0M459.8 494.7h0M410.6 512.2h0M404.8 516.9h0M450.7 499.0h0M427.2 516.4h0M477.2 488.2h0M485.0 489.5h0M432.4 511.8h0M521.9 467.8h0M429.6 474.8h0M425.0 503.2h0M521.5 457.7h0M443.9 500.7h0M445.8 504.8h0M392.6 500.2h0M406.6 519.2h0M400.4 524.9h0M478.5 486.5h0M418.9 517.9h0M534.7 454.5h0M429.2 507.8h0M428.5 504.4h0M413.0 507.5h0M430.3 504.0h0M441.3 507.1h0M468.7 505.6h0M434.0 507.7h0M433.2 479.8h0M482.9 488.2h0M527.9 458.7h0M421.6 520.3h0M428.2 494.8h0M415.5 517.6h0M421.1 490.7h0M550.4 425.5h0M450.4 501.3h0M413.2 507.1h0M491.6 478.2h0M487.8 481.0h0M457.2 502.4h0M514.6 470.6h0M448.1 493.2h0M441.0 512.1h0M442.6 503.5h0M405.1 517.0h0M379.4 523.3h0M495.1 473.7h0M450.1 501.7h0M456.1 499.5h0M451.1 502.0h0M483.7 433.1h0M449.1 507.9h0M412.0 520.7h0M396.9 521.8h0M440.4 488.5h0M428.3 503.6h0M522.0 463.0h0M426.9 492.1h0M457.3 493.2h0M490.0 477.5h0M503.0 481.1h0M414.8 518.3h0M432.3 491.4h0M511.2 469.3h0M412.9 499.6h0M438.7 510.6h0M429.9 511.0h0M478.8 486.4h0M407.6 514.2h0M414.8 527.3h0M405.7 500.7h0M384.7 521.7h0M399.0 512.6h0M444.7 516.4h0M412.1 497.3h0M463.8 505.5h0M524.3 461.7h0M507.6 469.5h0M540.6 449.4h0M420.0 509.9h0M497.6 476.5h0M506.8 474.6h0M519.9 468.1h0M402.1 506.3h0M489.3 484.1h0M403.4 521.2h0M445.0 456.3h0M413.0 504.8h0M514.0 470.2h0M480.8 487.6h0M417.3 535.0h0M433.6 514.2h0M419.9 504.6h0M404.7 523.4h0M450.9 496.1h0M448.5 501.6h0M503.7 477.2h0M402.4 499.8h0M493.6 481.9h0M445.6 500.4h0M445.1 489.4h0M505.8 465.1h0M527.5 462.3h0M498.8 480.9h0M455.4 450.5h0M450.7 506.6h0M444.0 494.3h0M432.9 498.2h0M539.5 444.1h0M484.8 483.1h0M410.3 516.0h0M434.7 473.0h0M424.5 501.6h0M514.2 463.8h0M444.7 505.9h0M514.0 468.9h0M422.2 509.6h0M408.6 519.3h0M539.7 432.9h0M447.9 455.1h0M405.0 509.3h0M513.2 471.8h0M402.6 513.3h0M434.1 504.0h0M477.8 489.1h0M417.1 510.7h0M422.0 507.3h0M433.2 487.9h0M421.5 499.0h0M485.8 489.8h0M473.1 500.5h0M383.3 507.2h0M541.4 433.0h0M473.8 496.1h0M449.6 503.2h0M428.1 478.4h0M456.8 492.6h0M427.1 507.0h0M437.1 493.1h0M424.9 504.4h0M476.0 483.3h0M514.4 461.7h0M402.7 520.1h0M422.4 503.6h0M479.4 494.5h0M456.7 451.0h0M432.7 502.2h0M501.1 478.9h0M442.8 511.6h0M452.4 506.2h0M415.0 515.6h0M408.4 496.9h0M415.2 515.2h0M457.2 493.9h0M539.2 448.3h0M494.1 478.6h0M439.1 513.0h0M460.7 492.0h0M478.1 488.4h0M516.7 482.5h0M417.7 516.3h0M431.6 494.6h0M454.4 504.9h0M519.5 479.1h0M414.2 478.8h0M410.2 532.3h0M423.5 502.4h0M393.5 514.6h0M452.7 504.3h0M445.9 511.1h0M475.2 491.4h0M432.2 498.4h0M534.0 452.2h0M414.5 518.5h0M470.5 485.6h0M408.3 517.7h0M418.0 493.6h0M446.3 499.5h0M404.9 518.4h0M429.6 484.3h0M520.1 463.5h0M435.8 511.8h0M434.8 502.3h0M477.0 485.1h0M415.2 483.5h0M429.9 495.1h0M418.1 524.5h0M416.3 493.5h0M421.2 485.3h0M405.4 520.6h0M434.1 513.7h0M410.7 507.7h0M430.0 491.4h0M467.6 493.0h0M424.0 486.8h0M425.1 514.9h0M423.9 500.2h0M433.9 473.1h0M453.9 487.9h0M416.7 490.6h0M460.7 503.7h0M455.2 489.5h0M442.4 502.1h0M477.7 496.3h0M441.0 508.9h0M442.9 492.8h0M435.6 504.5h0M450.0 492.9h0M428.2 510.8h0M480.7 486.7h0M456.2 511.6h0M433.5 491.7h0M435.8 494.7h0M467.7 492.0h0M440.2 500.0h0M409.2 481.2h0M446.4 496.7h0M416.6 508.2h0M453.1 499.0h0M451.6 495.4h0M456.1 495.4h0M495.3 476.1h0M461.3 499.0h0M403.6 531.6h0M493.2 489.1h0M463.5 498.7h0M441.4 510.6h0M409.6 498.3h0M534.7 454.4h0M516.6 466.7h0M493.7 493.6h0M467.7 494.7h0M426.8 509.9h0M451.5 489.5h0M483.6 479.5h0M414.7 510.1h0M523.7 468.5h0M426.6 492.2h0M432.8 471.1h0M435.7 492.2h0M425.8 488.8h0M474.0 492.7h0M401.2 508.4h0M489.7 477.9h0M449.1 501.1h0M400.9 526.3h0M461.1 494.9h0M515.4 465.3h0M523.2 464.4h0M453.2 501.2h0M510.8 465.5h0M436.0 504.2h0M502.4 468.5h0M471.7 494.6h0M536.2 446.0h0M487.7 487.5h0M454.7 504.3h0M483.2 490.1h0M446.3 502.7h0M459.8 505.1h0M446.5 493.0h0M452.6 494.5h0M428.8 513.9h0M402.8 504.7h0M425.1 491.3h0M491.5 477.9h0M395.7 517.3h0M430.0 497.6h0M525.8 460.2h0M431.5 516.5h0M433.8 500.1h0M421.6 504.3h0M437.2 497.0h0M502.0 477.2h0M463.6 506.5h0M450.9 462.8h0M516.6 420.7h0M446.9 504.5h0M459.7 491.5h0M420.9 501.0h0M504.8 467.2h0M480.6 483.2h0M452.7 489.3h0M440.0 459.9h0M401.5 516.3h0M475.2 485.9h0M504.6 425.0h0M550.0 432.8h0M471.2 486.1h0M404.8 512.5h0M446.9 489.6h0M463.6 499.1h0M423.0 503.1h0M414.9 502.0h0M529.6 452.8h0M446.3 499.7h0M427.6 509.3h0M459.2 495.2h0M478.4 486.4h0M525.6 453.2h0M460.7 494.0h0M451.8 492.7h0M501.3 479.2h0M475.5 501.1h0M449.5 505.1h0M523.9 461.2h0M418.9 494.4h0M438.5 493.7h0M542.9 462.7h0M460.8 500.1h0M427.6 481.5h0M425.9 486.4h0M437.1 464.0h0M448.0 503.0h0M476.9 497.6h0M536.3 446.6h0M439.4 500.0h0M463.7 492.0h0M420.9 490.4h0M468.6 494.5h0M453.9 501.7h0M434.1 511.0h0M415.3 521.2h0M417.8 515.2h0M491.5 478.0h0M439.3 509.7h0M423.6 525.6h0M435.0 499.4h0M430.3 485.1h0M510.6 466.9h0M441.3 501.2h0M433.2 510.6h0M400.2 510.4h0M448.7 499.8h0M432.1 522.6h0M465.8 491.4h0M412.4 491.7h0M443.0 497.4h0M429.9 501.0h0M483.3 476.3h0M546.2 456.9h0M424.8 505.3h0" stroke="#26ab48" stroke-width="3.7" stroke-linecap="round" fill="none"/>
<path d="M455.7 498.9h0M430.4 514.3h0M551.2 441.8h0M476.9 493.6h0M539.5 444.2h0M488.0 485.4h0M421.1 505.2h0M460.0 490.8h0M516.1 471.5h0M430.9 495.7h0M451.4 457.8h0M405.3 496.4h0M442.5 507.8h0M519.6 468.7h0M453.4 495.5h0M434.8 512.7h0M453.3 486.6h0M532.3 459.8h0M462.5 498.4h0M399.4 521.4h0M452.0 513.1h0M479.1 491.8h0M406.0 516.5h0M441.8 465.8h0M473.5 495.9h0M487.6 491.8h0M445.6 465.3h0M449.1 495.7h0M486.3 478.8h0M534.3 450.0h0M533.4 444.0h0M501.4 468.8h0M439.7 498.3h0M461.2 489.3h0M457.7 495.6h0M543.7 443.9h0M413.0 521.4h0M405.8 517.9h0M459.6 512.5h0M458.5 488.4h0M416.0 508.8h0M413.7 523.9h0M513.5 469.6h0M437.7 500.9h0M406.1 500.3h0M485.5 485.0h0M496.3 479.9h0M435.6 498.9h0M512.0 464.4h0M423.3 511.2h0M461.7 450.4h0M519.7 459.2h0M458.5 485.2h0M458.9 490.5h0M480.5 499.1h0M487.2 483.5h0M483.0 486.2h0M414.4 503.3h0M432.5 506.5h0M509.7 470.5h0M519.1 457.4h0M418.7 503.8h0M523.9 453.5h0M417.3 489.6h0M439.6 515.0h0M446.9 498.9h0M441.7 515.2h0M481.7 479.1h0M458.1 492.3h0M470.7 485.2h0M428.5 506.7h0M452.4 493.0h0M488.9 483.9h0M521.0 464.0h0M431.5 510.7h0M406.5 518.6h0M517.4 460.9h0M440.3 479.7h0M435.3 479.5h0M477.6 488.2h0M476.1 492.3h0M505.9 467.6h0M473.5 490.1h0M443.2 487.8h0M505.2 467.4h0M450.8 509.2h0M445.8 514.3h0M451.3 503.4h0M393.9 508.8h0M423.7 528.1h0M480.5 480.8h0M430.5 501.1h0M442.1 493.7h0M433.1 503.9h0M479.9 495.8h0M414.3 524.4h0M545.4 437.8h0M432.6 518.5h0M458.5 523.4h0M456.6 489.0h0M407.3 516.7h0M439.4 512.2h0M436.6 481.9h0M415.8 512.8h0M489.9 481.1h0M417.0 502.6h0M421.1 508.9h0M424.9 504.4h0M443.5 491.6h0M448.8 490.7h0M462.0 494.0h0M509.6 468.3h0M426.2 500.3h0M471.3 482.2h0M473.3 487.2h0M445.2 495.7h0M426.0 509.9h0M410.1 498.1h0M523.2 459.3h0M470.1 495.8h0M540.1 454.4h0M491.3 482.2h0M447.4 499.8h0M419.9 491.6h0M452.2 498.6h0M441.7 506.1h0M466.5 498.9h0M443.1 505.2h0M469.7 487.0h0M493.6 483.5h0M459.0 489.3h0M420.1 497.6h0M551.5 430.7h0M506.9 476.7h0M434.8 507.2h0M443.0 490.6h0M426.3 496.4h0M446.8 499.9h0M425.8 499.8h0M470.8 496.6h0M509.2 464.3h0M503.3 469.1h0M455.3 501.7h0M511.5 476.4h0M415.8 500.6h0M485.3 492.5h0M407.7 498.6h0M495.0 479.7h0M509.4 474.7h0M524.2 454.2h0M519.1 466.6h0M468.8 489.1h0M443.9 494.5h0M510.9 424.1h0M455.8 506.9h0M431.9 488.5h0M488.2 434.8h0M459.9 491.7h0M417.4 482.8h0M447.9 492.1h0M430.7 508.7h0M449.5 454.3h0M427.6 510.5h0M408.0 518.6h0M457.3 501.2h0M472.2 485.6h0M533.0 464.4h0M454.7 454.7h0M469.2 490.2h0M439.5 505.0h0M447.0 484.2h0M510.3 475.9h0M435.8 503.8h0M448.5 503.1h0M425.2 498.5h0M457.8 487.4h0M420.4 499.9h0M436.9 485.3h0M457.9 481.5h0M542.9 440.1h0M454.5 488.2h0M492.5 478.6h0M435.7 489.2h0M437.8 494.5h0M439.8 463.8h0M522.9 453.8h0M422.4 505.5h0M468.9 492.3h0M456.7 487.2h0M463.8 484.7h0M515.3 468.5h0M519.3 459.5h0M436.9 513.2h0M449.2 468.3h0M432.1 481.3h0M437.7 497.0h0M432.8 502.6h0M446.5 492.3h0M525.7 449.7h0M439.2 494.6h0M452.8 498.1h0M508.6 423.4h0M434.8 470.3h0M539.4 454.7h0M436.9 478.6h0M480.0 485.6h0M449.4 489.5h0M422.1 502.8h0M533.2 453.8h0M448.1 494.7h0M493.3 476.7h0M444.0 490.9h0M424.7 500.7h0M423.8 500.1h0M418.1 505.6h0M418.6 493.5h0M430.8 512.3h0M499.6 473.0h0M462.0 494.2h0M473.5 488.1h0M505.1 481.4h0M457.5 491.0h0M462.9 492.0h0M467.4 490.2h0M480.1 478.8h0M477.8 483.6h0M423.9 488.8h0M402.6 504.1h0M515.9 463.6h0M414.7 508.3h0M423.8 494.6h0M427.1 511.0h0M539.3 453.1h0M530.4 449.5h0M426.4 512.9h0M431.7 499.1h0M450.5 507.0h0M423.6 489.5h0M454.4 486.1h0M507.3 468.4h0M483.9 479.5h0M427.0 502.2h0M534.0 439.8h0M541.3 430.5h0M482.5 484.3h0M429.2 499.2h0M500.3 419.6h0M414.0 504.7h0M445.8 488.1h0M469.0 486.0h0M409.9 527.3h0M431.6 487.7h0M474.3 479.8h0M423.7 492.5h0M518.3 461.6h0M438.6 504.1h0M446.0 487.7h0M471.8 482.1h0M427.9 516.8h0M474.3 480.8h0M435.5 482.2h0M528.8 448.8h0M504.0 466.3h0M490.3 480.3h0M438.7 495.4h0M510.1 474.1h0M438.0 510.9h0M466.6 494.4h0M450.2 494.4h0M431.1 494.1h0M428.2 510.0h0M502.6 469.6h0M517.2 460.2h0M407.4 498.7h0M478.9 480.2h0M459.8 496.2h0" stroke="#28ab48" stroke-width="3.7" stroke-linecap="round" fill="none"/>
<path d="M436.8 500.8h0M520.5 458.4h0M431.9 499.3h0M445.4 489.3h0M496.4 482.1h0M508.6 465.8h0M425.7 489.7h0M466.5 488.5h0M495.1 488.7h0M414.0 508.2h0M496.8 428.1h0M479.7 503.7h0M491.6 480.0h0M433.7 495.5h0M423.9 487.1h0M469.4 485.7h0M475.4 486.6h0M523.8 455.2h0M478.2 485.6h0M470.0 484.7h0M456.4 500.8h0M439.8 491.5h0M438.9 497.1h0M443.3 488.5h0M460.4 485.7h0M523.9 458.6h0M440.8 496.5h0M435.0 485.5h0M473.6 487.5h0M486.2 481.0h0M436.4 494.6h0M503.4 471.0h0M462.8 485.8h0M490.1 476.9h0M430.2 500.4h0M427.9 530.8h0M436.2 476.4h0M445.9 500.6h0M424.8 520.6h0M466.8 491.8h0M456.0 491.7h0M430.7 483.8h0M482.7 503.7h0M521.6 468.4h0M425.2 483.2h0M462.7 497.9h0M434.1 476.7h0M516.0 424.2h0M444.9 495.4h0M431.3 497.4h0M448.2 461.2h0M486.0 483.3h0M480.2 480.3h0M428.9 498.7h0M443.3 472.4h0M460.1 491.8h0M432.1 512.4h0M440.8 500.1h0M519.6 452.0h0M454.2 490.6h0M458.2 453.9h0M487.5 478.5h0M456.7 490.8h0M446.7 470.2h0M530.4 449.2h0M513.2 467.9h0M544.2 425.7h0M482.5 483.2h0M464.4 491.6h0M526.5 448.6h0M453.9 500.7h0M415.7 508.4h0M494.9 475.9h0M545.4 427.3h0M470.5 497.8h0M476.5 484.0h0M517.1 421.9h0M428.2 510.6h0M468.0 482.8h0M458.2 489.3h0M508.0 420.4h0M458.8 500.3h0M497.0 473.9h0M533.0 445.9h0M465.3 484.3h0M431.6 494.1h0M451.1 500.3h0M435.0 495.3h0M532.7 437.7h0M467.7 484.3h0M539.9 443.0h0M432.5 482.3h0M491.1 427.3h0M487.2 478.4h0M461.6 486.6h0M439.5 479.4h0M452.9 495.7h0M469.3 492.3h0M434.1 476.2h0M452.1 489.6h0M455.1 456.3h0M435.8 482.4h0M434.8 468.1h0M469.5 478.9h0M432.3 488.0h0M501.5 471.4h0M435.6 505.4h0M456.6 496.9h0M497.9 473.3h0M475.9 480.5h0M453.3 492.9h0M447.7 510.6h0M481.4 481.8h0M391.7 496.7h0M436.9 498.4h0M452.2 489.0h0M538.3 440.3h0M443.3 500.8h0M440.7 505.8h0M507.6 474.3h0M455.8 492.0h0M473.4 481.0h0M447.5 489.2h0M474.9 492.1h0M453.0 461.2h0M442.8 492.9h0M473.3 482.1h0M523.4 445.1h0M434.7 490.1h0M426.4 494.3h0M511.9 461.7h0M456.4 492.3h0M518.0 459.7h0M465.4 498.4h0M447.8 494.0h0M471.6 481.9h0M490.0 474.3h0M467.3 483.1h0M449.1 492.0h0M489.9 475.9h0M530.3 420.6h0M483.5 488.7h0M498.7 469.1h0M453.2 489.6h0M489.7 479.5h0M410.9 493.2h0M491.3 485.4h0M537.0 440.7h0M477.7 480.8h0M491.8 475.9h0M491.1 481.3h0M446.3 470.6h0M462.0 489.0h0M436.7 499.5h0M432.9 483.5h0M474.7 484.3h0M523.3 451.3h0M438.9 493.0h0M437.6 499.5h0M449.7 491.2h0M439.2 500.8h0M471.9 484.8h0M453.8 494.2h0M454.0 490.5h0M433.6 502.1h0M431.0 504.3h0M445.6 461.0h0M479.8 480.0h0M498.0 473.7h0M449.9 471.5h0M453.6 482.7h0M535.4 437.1h0M516.6 451.6h0M435.9 497.5h0M437.7 491.1h0M531.5 441.5h0M483.5 482.4h0M544.6 438.0h0M419.0 509.2h0M461.5 507.2h0M484.2 482.7h0M485.7 479.9h0M450.3 458.0h0M478.1 484.4h0M497.0 471.3h0M459.9 491.5h0M474.8 483.8h0M462.6 490.5h0M495.1 478.1h0M512.0 465.6h0M510.9 472.4h0M514.4 462.5h0M464.7 446.6h0M451.1 488.9h0M483.4 485.0h0M466.3 480.0h0M543.4 420.1h0M449.0 492.6h0M535.7 437.0h0M481.0 479.5h0M542.0 435.9h0M538.0 435.6h0M450.2 500.6h0M441.8 468.4h0M446.6 501.3h0M470.7 489.3h0M495.6 467.1h0M444.1 488.7h0M452.7 484.7h0M494.4 470.3h0M460.8 450.4h0M499.9 466.7h0M465.2 490.0h0M460.6 489.5h0M551.0 434.5h0M519.5 458.2h0M436.9 489.4h0M481.5 478.1h0M451.1 492.1h0M490.2 477.2h0M468.1 480.8h0M464.8 484.2h0M469.9 483.9h0M438.3 495.2h0M454.6 501.9h0M450.1 489.1h0M507.7 481.4h0M436.7 498.2h0M456.6 488.4h0M452.5 489.3h0M507.8 473.3h0M420.5 502.3h0M470.1 498.0h0M528.9 420.4h0M519.9 453.4h0M465.2 482.8h0M517.9 456.1h0M504.3 466.1h0M456.6 487.4h0M422.0 492.5h0M534.6 440.0h0M464.4 490.1h0M468.1 487.1h0M456.4 492.5h0M443.6 477.8h0M462.7 484.8h0M491.3 473.5h0M468.4 483.1h0M433.6 475.9h0M492.5 473.0h0M447.3 467.3h0M407.8 510.3h0M491.6 475.6h0M456.3 487.1h0M451.8 493.7h0M450.4 491.7h0M489.8 482.5h0M411.8 511.6h0M454.2 486.1h0M459.7 487.8h0M453.0 488.9h0M451.8 481.7h0M463.4 481.4h0M433.8 490.7h0M442.8 500.8h0M444.0 496.0h0M477.4 478.4h0M431.5 503.1h0M493.5 471.4h0M512.1 423.1h0M464.1 486.9h0M428.2 492.9h0M461.9 484.7h0M511.5 457.6h0M535.4 452.1h0M492.5 474.2h0M549.2 443.3h0M440.6 503.2h0" stroke="#29ac47" stroke-width="3.7" stroke-linecap="round" fill="none"/>
<path d="M531.9 437.7h0M451.6 491.7h0M490.5 472.7h0M525.3 453.2h0M473.9 485.8h0M513.9 461.9h0M447.2 464.1h0M439.4 496.8h0M429.4 476.8h0M439.5 483.4h0M452.6 464.7h0M498.0 471.0h0M517.1 454.7h0M508.4 460.8h0M437.9 469.1h0M455.4 489.6h0M439.3 491.9h0M454.6 492.2h0M504.8 469.7h0M510.7 426.0h0M513.8 462.2h0M544.3 420.5h0M535.2 442.2h0M460.4 482.5h0M466.5 485.1h0M475.8 482.0h0M503.2 469.9h0M440.0 494.5h0M483.8 479.6h0M489.2 475.0h0M497.3 473.3h0M520.4 421.4h0M480.2 480.6h0M446.0 489.0h0M445.0 488.8h0M438.9 472.7h0M437.1 493.5h0M514.3 459.5h0M477.1 480.3h0M449.8 485.1h0M536.5 436.4h0M435.7 489.4h0M482.9 485.4h0M422.3 497.9h0M447.0 493.1h0M501.8 470.1h0M462.7 491.7h0M438.5 490.8h0M469.9 489.4h0M494.1 470.2h0M464.3 491.3h0M474.7 481.2h0M440.9 486.7h0M460.2 489.3h0M435.4 494.0h0M456.1 490.5h0M463.2 493.0h0M477.0 479.5h0M457.7 487.7h0M467.8 488.9h0M471.8 482.6h0M439.6 476.5h0M436.1 476.4h0M437.8 480.1h0M439.5 490.5h0M432.3 501.6h0M452.2 483.1h0M481.6 476.6h0M474.9 447.1h0M452.3 454.3h0M495.0 474.5h0M436.6 491.2h0M423.8 502.4h0M447.9 493.7h0M473.5 478.7h0M444.1 484.6h0M539.7 433.1h0M436.8 496.1h0M448.0 487.9h0M484.7 482.4h0M526.0 449.0h0M509.7 464.1h0M453.0 492.3h0M461.5 492.3h0M527.3 422.2h0M539.8 435.8h0M496.2 472.1h0M498.5 475.2h0M451.5 490.0h0M468.7 484.0h0M452.1 506.3h0M454.5 488.3h0M430.6 478.1h0M428.5 481.6h0M468.2 485.3h0M459.5 490.3h0M483.2 478.0h0M467.7 482.4h0M447.6 488.2h0M455.2 490.6h0M446.5 489.4h0M526.7 421.1h0M433.8 496.4h0M440.4 486.5h0M503.1 474.5h0M461.4 489.4h0M481.2 476.7h0M444.2 479.4h0M451.7 483.4h0M430.6 487.7h0M478.3 484.0h0M473.6 487.4h0M438.8 496.5h0M530.5 444.2h0M469.9 490.8h0M516.6 462.4h0M456.7 487.5h0M506.9 469.8h0M483.9 475.2h0M523.2 448.1h0M498.8 469.4h0M468.1 481.5h0M482.1 478.0h0M513.6 464.3h0M466.9 483.0h0M459.7 491.2h0M497.6 467.7h0M449.5 499.0h0M464.3 488.6h0M431.5 485.6h0M465.6 486.9h0M441.5 478.1h0M535.1 435.2h0M448.2 488.2h0M469.7 484.8h0M445.1 470.8h0M539.2 431.0h0M523.1 448.3h0M449.8 489.8h0M435.8 488.9h0M454.0 489.1h0M440.3 475.3h0M464.7 484.2h0M460.1 484.7h0M495.4 479.5h0M534.8 439.5h0M548.3 422.7h0M502.3 467.7h0M440.7 494.2h0M437.0 480.2h0M480.0 477.2h0M441.5 495.9h0M474.2 480.6h0M444.3 478.4h0M528.3 457.4h0M440.3 492.3h0M536.4 426.7h0M446.2 473.8h0M482.5 479.5h0M501.8 469.5h0M432.6 501.5h0M441.8 483.7h0M485.5 473.5h0M436.7 485.3h0M432.1 500.1h0M463.0 487.6h0M451.7 487.3h0M442.0 471.3h0M540.2 433.9h0M421.5 496.0h0M487.3 475.4h0M459.8 489.4h0M441.9 492.7h0M431.7 490.6h0M530.4 443.2h0M455.8 491.8h0M445.5 485.6h0M532.1 448.6h0M428.6 490.2h0M527.1 440.2h0M538.3 434.3h0M515.7 426.8h0M526.7 444.4h0M438.5 487.5h0M483.5 479.0h0M510.3 458.4h0M478.6 481.1h0M519.0 449.7h0M499.4 468.3h0M509.9 465.5h0M437.6 473.3h0M464.1 489.2h0M525.2 455.9h0M483.1 477.8h0M460.9 452.3h0M442.8 484.8h0M487.4 474.9h0M444.2 481.5h0M505.8 466.6h0M460.9 479.2h0M452.8 461.2h0M526.1 446.1h0M486.0 483.5h0M444.6 492.0h0M438.0 487.9h0M447.7 492.1h0M545.4 423.3h0M510.6 469.3h0M476.9 480.5h0M522.7 448.6h0M543.4 433.3h0M540.6 431.9h0M454.6 484.8h0M442.4 493.3h0M471.2 447.9h0M511.8 462.6h0M501.5 469.9h0M443.0 487.7h0M440.8 483.7h0M508.2 467.9h0M518.3 452.0h0M486.7 474.2h0M449.8 493.8h0M525.7 455.2h0M494.5 471.2h0M521.5 446.5h0M435.0 495.3h0M487.8 470.6h0M492.0 475.7h0M494.6 469.9h0M458.8 485.7h0M498.2 467.5h0M503.4 469.7h0M486.4 473.8h0M489.7 479.2h0M509.2 425.2h0M469.8 490.0h0M463.8 486.5h0M506.7 466.4h0M492.8 472.9h0M488.5 479.4h0M505.7 470.7h0M451.2 481.1h0M438.1 487.4h0M469.7 478.8h0M476.0 479.9h0" stroke="#2aad47" stroke-width="3.7" stroke-linecap="round" fill="none"/>
<path d="M450.1 464.7h0M502.9 429.0h0M451.0 472.7h0M464.0 485.7h0M440.5 486.2h0M457.0 487.9h0M483.8 473.5h0M519.9 455.9h0M450.4 494.6h0M444.1 470.9h0M523.3 459.0h0M454.3 493.4h0M446.8 491.8h0M470.0 483.8h0M539.1 425.7h0M514.1 459.3h0M517.9 425.5h0M518.7 450.9h0M442.5 484.3h0M465.5 452.0h0M473.4 476.4h0M450.7 491.2h0M431.4 512.8h0M494.1 474.1h0M523.4 447.8h0M447.9 482.4h0M468.4 481.3h0M468.0 485.8h0M441.5 482.2h0M492.5 471.1h0M519.8 464.0h0M531.8 437.9h0M443.8 498.9h0M492.7 473.8h0M475.9 485.0h0M456.4 487.1h0M492.9 469.9h0M460.2 484.2h0M532.0 440.3h0M456.3 496.9h0M476.4 480.2h0M549.4 425.1h0M490.5 473.6h0M520.0 423.7h0M482.8 475.1h0M495.8 431.9h0M538.7 435.9h0M480.4 477.3h0M491.7 476.1h0M500.6 469.1h0M470.5 487.8h0M497.4 433.1h0M444.7 473.7h0M488.8 478.0h0M454.3 493.1h0M441.8 483.2h0M457.3 489.4h0M470.0 487.9h0M448.7 491.5h0M528.5 450.0h0M465.2 492.0h0M467.1 485.9h0M457.9 484.3h0M505.4 467.3h0M470.2 476.7h0M538.2 420.1h0M452.8 471.0h0M519.1 461.9h0M512.4 459.1h0M467.1 481.7h0M447.9 484.7h0M504.8 470.8h0M498.6 472.0h0M518.3 458.0h0M525.9 442.4h0M527.1 442.3h0M517.0 454.6h0M458.2 484.0h0M531.3 447.3h0M463.4 482.4h0M453.4 482.8h0M451.1 488.9h0M519.7 457.5h0M479.5 479.3h0M525.2 453.0h0M499.7 427.3h0M526.0 442.5h0M484.8 478.3h0M517.4 456.8h0M470.1 484.0h0M484.2 476.3h0M445.8 489.6h0M496.9 474.2h0M476.7 478.3h0M457.4 463.4h0M498.8 473.6h0M474.9 482.8h0M479.9 477.5h0M495.7 467.4h0M479.9 492.8h0M438.2 486.0h0M476.1 479.2h0M496.4 470.3h0M511.1 462.0h0M522.0 452.4h0M455.1 458.7h0M457.3 489.6h0M486.9 475.1h0M482.9 476.8h0M512.7 456.2h0M524.9 447.9h0M481.8 480.4h0M501.8 426.7h0M509.7 422.5h0M470.7 481.7h0M491.9 471.5h0M461.9 483.3h0M443.2 475.2h0M530.3 435.2h0M442.6 472.5h0M478.0 476.8h0M442.3 479.4h0M528.2 444.2h0M441.7 471.1h0M506.6 425.8h0M522.8 446.8h0M533.1 428.1h0M498.8 468.4h0M448.2 487.6h0M446.8 495.6h0M519.1 450.1h0M430.3 489.6h0M492.7 472.5h0M464.4 483.4h0M482.9 478.9h0M462.1 491.5h0M501.6 431.0h0M423.1 508.0h0M433.2 491.6h0M494.9 474.8h0M512.2 456.8h0M463.0 479.6h0M535.9 433.9h0M487.4 470.8h0M466.2 482.8h0M550.9 426.7h0M469.9 447.0h0M452.4 487.2h0M432.5 490.5h0M445.3 485.9h0M447.8 469.1h0M461.3 483.7h0M473.2 480.2h0M465.1 484.2h0M496.0 470.1h0M470.8 438.7h0M459.7 486.1h0M435.9 484.6h0M448.2 470.2h0M479.5 475.5h0M530.6 439.1h0M440.8 479.0h0M520.4 451.6h0M477.7 480.3h0M472.0 481.3h0M453.7 485.6h0M464.7 453.4h0M486.3 472.5h0M450.3 467.2h0M444.1 489.2h0M472.3 480.9h0M448.8 485.4h0M436.6 492.1h0M460.0 453.7h0M508.8 463.9h0M461.1 460.9h0M491.9 472.1h0M418.8 501.7h0M447.0 474.4h0M525.1 448.1h0M445.2 479.0h0M472.2 481.5h0M494.2 472.4h0M491.9 471.5h0M519.7 450.8h0M544.0 420.4h0M446.6 475.6h0M499.9 466.6h0M511.3 459.6h0M448.7 489.6h0M492.2 480.5h0" stroke="#2bae46" stroke-width="3.7" stroke-linecap="round" fill="none"/>
<path d="M463.4 486.3h0M485.5 477.5h0M453.6 480.8h0M464.9 479.4h0M470.3 478.5h0M489.5 434.9h0M486.7 475.8h0M448.0 478.0h0M455.1 465.4h0M534.2 444.6h0M537.2 428.8h0M507.2 466.8h0M530.1 441.5h0M479.3 480.9h0M467.4 481.2h0M451.0 483.1h0M523.1 445.5h0M523.7 453.6h0M520.9 426.4h0M458.5 484.6h0M532.3 435.1h0M511.7 427.8h0M519.3 449.2h0M463.4 487.2h0M521.7 453.4h0M470.1 483.4h0M490.4 470.7h0M475.9 477.4h0M511.6 459.5h0M495.8 470.1h0M434.6 493.4h0M535.7 431.4h0M437.9 497.0h0M469.0 480.1h0M525.3 445.9h0M473.6 473.7h0M481.3 476.2h0M491.2 469.6h0M459.7 457.3h0M507.0 428.3h0M517.2 457.6h0M455.5 470.2h0M449.0 485.2h0M458.6 481.7h0M441.6 481.9h0M472.4 477.2h0M501.9 465.5h0M522.1 446.2h0M538.4 422.9h0M456.9 483.7h0M467.4 482.2h0M528.9 442.9h0M452.5 483.1h0M477.0 479.8h0M482.7 477.0h0M489.1 476.5h0M493.8 471.1h0M484.7 476.4h0M535.6 423.5h0M449.1 485.3h0M456.5 483.1h0M504.7 463.6h0M437.7 483.3h0M471.7 482.1h0M457.2 463.5h0M542.1 425.9h0M510.2 468.9h0M490.3 469.0h0M465.1 452.2h0M459.0 491.2h0M456.4 479.6h0M511.0 461.9h0M441.8 491.2h0M480.5 476.6h0M472.1 449.1h0M452.2 463.9h0M471.8 482.0h0M468.1 479.4h0M438.6 487.7h0M461.0 482.9h0M503.6 463.9h0M473.1 481.5h0M516.8 453.0h0M479.7 476.3h0M483.6 478.8h0M536.2 434.5h0M441.7 481.5h0M447.4 485.6h0M467.7 483.2h0M521.3 448.8h0M463.5 482.7h0M450.7 469.4h0M468.8 477.1h0M488.2 471.9h0M447.2 481.5h0M475.5 483.5h0M524.0 445.5h0M517.8 456.7h0M484.5 471.0h0M528.4 440.3h0M472.3 447.5h0M448.4 482.7h0M536.1 424.1h0M445.6 468.4h0M523.4 446.1h0M465.4 476.7h0M486.3 473.3h0M487.9 473.3h0M434.8 488.5h0M456.7 487.0h0M501.9 468.6h0M457.8 480.0h0M459.7 484.9h0M450.3 484.6h0M452.9 472.3h0M482.7 475.9h0M447.5 483.8h0M521.2 448.5h0M517.8 427.3h0M472.6 477.0h0M444.1 484.0h0M523.1 447.1h0M443.9 491.5h0M449.7 488.3h0M484.8 476.3h0M454.5 486.3h0M525.2 443.5h0M458.9 481.2h0M538.0 421.9h0M518.2 454.9h0M476.2 475.6h0M465.0 458.7h0M438.4 482.5h0M475.4 481.5h0M467.0 480.5h0M445.1 469.3h0M478.7 474.9h0M459.8 487.0h0M494.9 435.6h0M449.4 473.8h0M492.6 475.0h0M535.5 427.4h0M450.9 481.6h0M493.4 470.5h0M449.5 470.9h0M456.4 481.8h0M482.4 474.3h0M457.9 459.4h0M457.0 478.1h0M485.3 474.0h0M470.6 478.5h0M477.1 443.5h0M502.8 466.6h0M529.2 439.2h0M497.4 431.7h0M504.0 460.2h0M503.1 467.6h0M514.1 458.6h0M442.7 486.4h0M469.0 448.1h0M474.5 482.1h0M473.3 479.3h0M456.3 483.0h0M518.7 426.5h0M459.7 485.8h0M519.5 451.7h0M527.1 445.7h0M457.7 487.4h0M493.4 435.9h0M531.0 439.7h0M534.4 428.6h0M490.3 473.3h0M459.9 484.2h0M449.8 481.9h0M517.8 426.4h0M478.3 479.2h0M517.3 457.2h0M463.5 475.1h0" stroke="#33b045" stroke-width="3.7" stroke-linecap="round" fill="none"/>
<path d="M447.0 483.9h0M525.3 442.9h0M462.5 480.1h0M448.3 485.8h0M502.3 465.1h0M493.1 471.9h0M447.2 487.2h0M495.1 465.6h0M459.8 481.7h0M505.3 458.1h0M440.6 482.6h0M461.5 459.4h0M452.8 468.1h0M458.3 487.7h0M512.5 459.1h0M443.1 482.2h0M469.9 482.3h0M467.0 478.3h0M444.5 483.0h0M505.0 460.6h0M511.1 459.5h0M487.5 473.6h0M492.7 473.1h0M475.3 476.0h0M532.2 422.3h0M496.9 464.3h0M469.5 479.5h0M526.6 442.8h0M496.5 467.3h0M481.0 474.6h0M503.5 468.3h0M509.2 465.4h0M505.4 463.5h0M495.2 432.2h0M467.7 455.9h0M447.0 480.1h0M447.0 480.9h0M532.1 440.7h0M515.2 451.9h0M525.8 432.5h0M517.9 451.9h0M530.6 433.7h0M462.3 479.2h0M444.5 478.3h0M524.7 442.2h0M453.5 479.6h0M491.3 474.5h0M463.3 457.8h0M448.3 484.7h0M461.5 479.2h0M510.5 429.9h0M531.2 433.7h0M527.1 443.0h0M518.0 451.0h0M499.0 433.6h0M511.1 453.8h0M502.6 465.1h0M530.7 424.5h0M476.7 480.1h0M449.6 484.5h0M513.7 453.9h0M465.2 476.7h0M492.2 470.2h0M458.9 479.5h0M433.9 471.8h0M531.2 422.4h0M478.6 442.6h0M495.5 471.1h0M500.3 465.2h0M460.7 483.1h0M527.5 441.2h0M532.7 436.1h0M520.6 453.5h0M507.3 460.1h0M462.0 482.1h0M507.2 432.4h0M452.5 481.3h0M531.2 432.2h0M461.2 485.0h0M512.4 425.9h0M493.4 469.4h0M503.9 431.6h0M508.4 461.5h0M453.7 486.7h0M456.1 478.4h0M495.4 470.4h0M516.8 422.4h0M501.6 462.2h0M496.7 432.4h0M444.1 479.8h0M452.9 470.8h0M495.9 469.9h0M464.3 479.3h0M483.5 478.5h0M448.3 482.9h0M521.7 427.8h0M476.7 481.6h0M456.4 467.5h0M479.9 476.4h0M435.3 490.5h0M499.0 433.3h0M509.8 458.9h0M459.8 461.8h0M461.0 459.0h0M519.6 448.1h0M461.7 461.4h0M517.2 426.8h0M531.4 426.9h0M464.5 476.5h0M455.1 469.5h0M445.8 492.0h0M449.2 489.4h0M458.4 481.5h0M462.5 460.1h0M537.9 426.1h0M495.6 463.5h0M490.7 470.7h0M508.3 462.6h0M450.5 477.9h0M472.6 477.7h0M459.2 474.9h0M464.9 478.0h0M447.7 476.6h0M467.2 456.3h0M496.9 465.3h0M511.5 458.2h0M470.5 454.7h0M517.2 448.8h0M445.6 486.8h0M461.3 478.9h0M486.4 471.2h0M524.4 448.7h0M503.4 461.0h0M478.0 477.6h0M451.2 480.5h0M482.0 476.1h0M501.6 463.6h0M449.4 484.6h0M517.1 450.8h0M501.5 462.5h0M472.8 476.9h0M453.5 469.3h0M462.5 460.0h0M479.0 476.3h0M524.0 424.7h0M515.0 458.0h0M496.3 465.8h0M457.6 466.1h0M473.8 475.0h0M460.7 486.1h0M480.7 469.9h0M510.3 455.5h0M486.2 476.5h0M480.1 475.6h0M495.3 470.1h0M489.1 470.8h0M516.4 427.7h0M531.2 432.6h0M455.0 484.8h0M517.6 454.7h0" stroke="#40b542" stroke-width="3.7" stroke-linecap="round" fill="none"/>
<path d="M470.8 479.8h0M466.2 458.2h0M518.2 448.0h0M449.0 470.4h0M477.5 473.5h0M452.4 481.9h0M531.4 442.4h0M456.2 479.9h0M470.9 475.4h0M505.5 464.9h0M520.1 448.8h0M472.9 477.1h0M480.9 471.2h0M504.5 459.3h0M447.3 481.1h0M462.7 482.9h0M449.2 483.3h0M451.2 483.4h0M456.8 480.8h0M461.9 474.8h0M463.0 478.3h0M497.7 465.7h0M482.9 474.4h0M536.8 422.5h0M500.1 465.5h0M457.3 466.9h0M455.5 470.5h0M475.6 475.6h0M510.4 455.7h0M457.0 466.9h0M485.3 471.8h0M480.8 446.7h0M525.2 424.5h0M473.8 444.7h0M506.9 460.3h0M497.3 433.0h0M462.4 479.4h0M457.2 465.2h0M460.9 460.7h0M458.0 482.0h0M460.4 462.3h0M467.3 483.2h0M455.5 466.9h0M511.2 429.1h0M532.8 432.2h0M523.1 441.1h0M442.2 475.5h0M465.3 481.7h0M498.6 464.8h0M529.4 449.4h0M520.0 444.1h0M537.0 424.2h0M466.3 480.3h0M451.4 477.8h0M510.5 459.9h0M525.8 443.3h0M453.4 484.6h0M460.4 479.9h0M454.4 464.9h0M456.8 478.3h0M522.9 443.9h0M530.5 428.1h0M495.3 468.4h0M458.4 462.7h0M494.1 470.3h0M475.1 480.0h0M448.3 489.5h0M464.1 476.1h0M512.8 455.3h0M458.7 463.9h0M470.5 450.8h0M488.8 472.9h0M475.9 479.7h0M505.8 428.0h0M467.9 455.6h0M487.5 473.8h0M453.8 470.9h0M469.6 478.8h0M511.7 457.5h0M508.9 428.4h0M481.2 477.7h0M496.3 466.2h0M467.5 479.0h0M460.3 480.1h0M455.7 484.8h0M536.1 429.8h0M461.4 463.2h0M535.9 428.2h0M519.3 448.5h0M470.0 476.9h0M458.9 464.0h0M470.7 476.2h0M511.0 427.7h0M487.4 471.0h0M472.5 474.6h0M452.5 474.5h0M515.0 457.7h0M446.1 482.4h0M464.2 453.6h0M525.2 426.8h0M450.7 475.8h0M453.7 472.0h0M465.1 476.9h0M443.8 481.7h0M490.7 470.7h0M517.0 448.1h0M500.0 434.9h0M483.5 472.6h0M491.7 470.1h0M509.7 431.2h0M465.1 481.6h0M501.5 466.6h0M452.7 483.6h0M466.0 479.9h0M468.4 477.5h0M458.7 478.1h0M495.3 466.0h0M486.3 440.9h0M457.8 481.6h0M483.3 470.9h0M494.3 469.0h0M513.4 452.6h0M479.0 473.8h0M493.1 469.5h0M465.5 457.9h0M499.4 467.3h0M453.6 474.1h0M485.8 472.9h0M526.7 442.5h0M484.2 441.5h0M444.4 479.9h0M501.7 465.0h0M505.6 462.2h0M513.1 425.0h0M457.6 464.8h0M463.4 479.1h0M477.4 447.9h0M498.5 465.5h0M466.9 475.5h0M515.7 454.6h0M486.8 473.7h0M453.1 473.4h0M471.1 474.3h0M521.3 445.5h0M535.5 429.9h0M501.3 462.9h0M495.5 466.9h0M475.4 474.2h0M522.8 442.9h0M455.9 463.4h0M477.3 475.0h0M506.2 458.8h0M497.8 464.1h0M477.2 473.2h0M470.9 477.2h0M448.5 481.1h0M478.6 477.3h0M464.7 478.4h0M499.6 464.5h0M469.5 476.5h0M499.3 464.0h0M529.5 426.6h0M488.8 470.6h0M520.0 448.9h0M486.8 469.6h0M454.8 481.6h0M506.3 456.8h0M519.6 450.9h0M508.0 458.9h0M501.8 461.8h0M473.9 474.7h0M508.4 456.5h0M459.5 477.8h0M484.2 438.8h0M468.6 473.2h0M471.3 449.2h0M539.4 431.4h0M474.3 449.8h0M457.9 474.7h0M517.5 449.0h0M519.8 447.7h0M505.3 460.7h0M494.3 465.8h0M533.5 420.1h0M464.1 457.6h0M502.8 459.5h0M457.9 465.3h0M453.9 479.4h0M467.4 478.1h0" stroke="#4eba40" stroke-width="3.7" stroke-linecap="round" fill="none"/>
<path d="M488.2 471.6h0M495.3 468.5h0M460.2 478.9h0M532.3 430.7h0M494.9 465.0h0M453.9 473.4h0M483.0 471.9h0M451.0 478.9h0M477.6 444.0h0M452.5 480.3h0M473.5 451.0h0M504.1 432.8h0M468.6 477.1h0M475.6 446.0h0M453.4 477.8h0M477.8 470.7h0M508.8 457.2h0M469.4 457.0h0M458.8 484.0h0M532.6 426.5h0M457.2 476.3h0M494.8 464.9h0M461.1 463.3h0M493.8 465.9h0M490.8 468.0h0M503.4 459.9h0M507.2 463.1h0M475.4 477.0h0M481.9 472.1h0M494.6 466.2h0M469.4 479.6h0M483.7 472.1h0M467.9 452.7h0M536.2 429.8h0M520.9 439.7h0M449.2 482.0h0M503.3 459.9h0M534.8 426.8h0M482.2 472.1h0M458.1 479.2h0M457.5 465.1h0M528.2 432.2h0M478.7 474.7h0M460.1 473.1h0M468.2 477.2h0M518.5 430.6h0M508.2 430.8h0M497.8 465.2h0M471.3 477.0h0M495.0 466.5h0M449.9 477.6h0M449.3 484.2h0M526.8 438.0h0M458.9 467.8h0M451.8 483.6h0M511.2 455.3h0M469.2 476.0h0M455.5 470.7h0M530.8 429.5h0M469.8 452.2h0M504.9 462.2h0M504.9 431.9h0M514.4 429.3h0M510.6 454.2h0M460.4 477.6h0M470.8 473.3h0M466.7 476.6h0M517.1 430.4h0M512.0 452.0h0M488.6 467.4h0M512.1 452.8h0M475.7 473.3h0M476.0 473.8h0M477.0 477.5h0M458.0 478.0h0M470.0 475.7h0M522.2 440.8h0M494.3 466.3h0M504.4 458.9h0M477.2 472.5h0M454.0 477.1h0M485.0 471.7h0M457.5 475.8h0M447.6 480.5h0M508.2 457.4h0M493.6 465.4h0M487.4 467.9h0M519.2 449.6h0M447.3 478.6h0M499.7 464.3h0M532.9 434.7h0M454.5 468.5h0M468.7 475.5h0M457.0 466.8h0M475.4 472.0h0M526.8 427.1h0M490.7 469.8h0M480.8 471.3h0M522.2 440.1h0M453.0 481.3h0M466.3 476.9h0M511.4 430.9h0M459.4 466.3h0M481.8 472.4h0M517.1 430.2h0M502.4 469.8h0M490.5 467.4h0M452.9 480.4h0M486.5 470.1h0M510.1 457.0h0M479.8 473.5h0M474.0 473.3h0M477.8 475.2h0M471.6 477.3h0M453.0 469.3h0M489.4 469.0h0M517.8 449.4h0M479.2 473.5h0M496.8 464.7h0M519.7 428.4h0M487.4 442.4h0M498.5 464.2h0M506.6 459.3h0M471.4 472.9h0M493.6 465.3h0M503.9 463.2h0M494.7 467.0h0M494.4 466.2h0M519.2 443.6h0M507.3 456.4h0M491.2 466.4h0M456.9 474.0h0M470.0 452.7h0M495.1 465.6h0M478.0 448.0h0M451.7 477.9h0M482.3 472.0h0M491.9 438.5h0M464.2 479.2h0M451.9 471.0h0" stroke="#5bbe3d" stroke-width="3.7" stroke-linecap="round" fill="none"/>
<path d="M458.7 470.2h0M477.5 445.2h0M453.4 481.1h0M513.3 454.0h0M481.4 469.2h0M490.0 465.6h0M486.0 470.5h0M465.4 473.7h0M456.2 476.3h0M518.5 428.6h0M472.9 471.6h0M473.9 473.2h0M474.9 472.2h0M483.7 470.9h0M502.5 459.9h0M460.5 462.2h0M473.7 448.8h0M488.6 468.8h0M499.5 466.0h0M460.9 476.7h0M466.8 475.1h0M491.9 437.7h0M457.6 482.3h0M456.8 474.4h0M514.0 430.7h0M481.5 471.8h0M485.0 471.2h0M517.0 446.2h0M507.5 458.1h0M469.3 475.2h0M465.6 459.6h0M517.9 446.0h0M516.6 446.6h0M478.0 471.7h0M479.6 472.8h0M453.7 471.9h0M502.1 433.0h0M521.8 438.7h0M510.0 456.2h0M463.0 472.7h0M499.8 461.7h0M460.6 467.3h0M469.8 454.5h0M523.8 430.0h0M514.4 451.0h0M492.6 467.2h0M448.9 481.4h0M501.1 460.9h0M469.5 474.8h0M468.2 454.6h0M503.7 458.2h0M463.0 477.4h0M456.9 478.1h0M494.8 463.7h0M525.6 436.1h0M488.0 469.0h0M472.5 474.6h0M452.0 475.2h0M468.4 476.5h0M473.2 473.2h0M468.8 477.5h0M461.9 461.9h0M475.3 471.9h0M480.6 470.8h0M465.5 476.5h0M478.5 473.3h0M477.6 447.7h0M506.1 456.9h0M462.3 471.2h0M510.6 459.1h0M489.1 471.1h0M486.3 469.4h0M460.6 477.6h0M522.0 442.1h0M508.2 454.0h0M507.6 430.5h0M460.4 465.5h0M523.6 424.4h0M530.7 429.0h0M456.9 468.7h0M485.0 468.0h0M500.8 435.5h0M454.6 473.0h0M498.2 435.9h0M484.3 471.6h0M517.1 431.3h0M485.2 469.4h0M477.2 470.1h0M457.2 471.3h0M483.5 472.3h0M473.5 472.9h0M505.7 457.3h0M514.0 429.7h0M496.7 467.9h0M455.1 473.5h0M453.0 470.9h0M474.5 475.0h0M470.5 475.9h0M513.4 432.6h0M508.6 455.4h0M466.6 476.2h0M486.7 468.1h0M512.0 429.8h0M529.7 428.5h0M475.2 473.8h0M450.4 477.8h0M484.6 469.8h0M499.3 462.7h0M506.2 458.9h0M457.8 469.1h0M473.3 453.2h0M486.9 468.0h0M472.1 473.2h0M494.4 463.8h0M493.2 439.5h0M473.0 472.0h0M475.9 474.7h0M459.8 466.8h0M527.4 426.1h0M516.2 454.7h0M470.4 474.8h0M476.1 473.2h0M469.5 452.9h0M459.9 476.1h0M474.5 451.4h0M498.1 465.8h0M458.0 476.2h0M468.6 475.1h0M507.3 431.9h0M533.4 431.6h0M503.3 433.8h0M477.1 449.0h0M465.2 461.5h0M455.7 477.1h0M470.9 477.4h0M526.4 429.9h0M500.6 461.4h0M461.7 479.7h0M505.7 458.9h0M464.4 458.7h0" stroke="#69c33b" stroke-width="3.7" stroke-linecap="round" fill="none"/>
<path d="M491.2 468.7h0M477.0 473.8h0M495.2 464.2h0M459.0 464.1h0M492.3 465.9h0M510.0 429.5h0M520.5 444.3h0M490.1 437.8h0M488.3 439.9h0M505.1 459.9h0M483.4 469.4h0M479.0 471.9h0M493.4 465.9h0M460.5 464.8h0M462.1 475.8h0M521.0 442.6h0M527.3 435.0h0M502.6 462.2h0M455.4 473.9h0M523.0 426.0h0M481.7 473.1h0M451.8 475.2h0M525.7 438.9h0M455.2 472.6h0M473.2 476.9h0M466.2 475.5h0M478.3 470.8h0M514.8 451.2h0M467.5 459.6h0M459.4 478.0h0M453.5 475.3h0M485.0 468.4h0M487.0 470.8h0M463.3 474.8h0M477.4 449.4h0M492.9 465.8h0M525.0 436.7h0M469.0 456.1h0M470.0 475.1h0M464.4 459.1h0M529.1 432.4h0M521.2 428.9h0M458.3 472.4h0M524.3 438.1h0M452.6 473.8h0M508.8 454.7h0M519.6 440.8h0M521.7 440.9h0M465.5 473.9h0M461.7 460.0h0M456.7 472.7h0M457.9 477.8h0M501.6 460.8h0M465.5 476.6h0M494.7 464.9h0M486.7 467.8h0M463.2 476.6h0M461.9 462.5h0M471.9 452.6h0M480.1 468.2h0M456.4 475.8h0M526.5 439.3h0M481.7 448.2h0M456.7 469.7h0M468.4 455.2h0M487.1 469.0h0M490.9 464.5h0M451.0 475.2h0M459.4 470.6h0M461.4 473.4h0M463.9 462.7h0M458.8 475.7h0M483.6 445.6h0M477.0 451.7h0M501.8 460.5h0M516.6 444.2h0M470.0 458.1h0M490.8 465.7h0M477.7 470.6h0M469.5 473.8h0M484.3 443.4h0M466.2 459.7h0M467.5 470.5h0M495.4 466.1h0M465.7 462.0h0M457.5 475.6h0M477.0 473.3h0M476.9 471.4h0M459.9 478.0h0M470.4 473.1h0M470.2 474.2h0M522.7 439.1h0M528.2 431.6h0M518.1 440.8h0M482.8 469.0h0M480.3 470.9h0M495.7 464.0h0M465.9 472.9h0M528.1 429.2h0M515.6 448.8h0M462.8 474.5h0M505.9 456.4h0M459.7 471.1h0M497.9 463.6h0M488.4 441.3h0M458.3 478.8h0M514.9 450.3h0M479.7 470.4h0M456.5 471.9h0M472.1 473.7h0M460.5 466.2h0M467.2 461.4h0M473.3 473.0h0M499.7 460.8h0M466.2 459.1h0M500.6 461.1h0M477.7 471.0h0M487.5 465.8h0M483.8 468.4h0M473.6 474.6h0M471.8 472.7h0M468.6 475.0h0M485.9 465.7h0M463.6 473.2h0M469.6 457.4h0M455.7 471.7h0M478.9 471.5h0" stroke="#77c838" stroke-width="3.7" stroke-linecap="round" fill="none"/>
<path d="M489.7 467.5h0M461.6 466.2h0M478.3 449.8h0M508.9 456.5h0M468.0 469.9h0M461.5 469.5h0M497.5 459.9h0M479.9 446.6h0M456.1 475.8h0M469.1 455.1h0M475.3 469.8h0M464.5 459.4h0M473.1 452.2h0M462.8 476.1h0M474.6 450.6h0M508.2 453.7h0M510.3 431.6h0M461.9 472.2h0M488.3 468.7h0M527.8 427.7h0M491.7 464.3h0M460.2 475.1h0M468.6 457.3h0M488.9 468.0h0M466.7 460.2h0M474.7 472.0h0M460.2 468.1h0M473.7 471.5h0M480.7 469.4h0M492.8 464.6h0M472.8 471.4h0M463.4 471.3h0M458.1 470.0h0M524.2 434.8h0M513.2 451.3h0M503.7 457.5h0M477.6 451.9h0M486.5 466.2h0M463.4 471.9h0M492.4 465.6h0M482.6 469.3h0M475.8 451.8h0M459.4 469.0h0M519.3 439.3h0M515.8 445.6h0M504.0 458.5h0M512.7 433.8h0M516.3 441.9h0M524.3 434.8h0M467.8 457.5h0M461.2 473.7h0M458.2 474.6h0M472.9 471.8h0M506.0 432.9h0M522.7 431.1h0M467.7 456.2h0M457.4 477.4h0M488.1 465.9h0M457.5 471.0h0M496.4 438.1h0M524.3 435.5h0M461.1 468.4h0M492.1 464.4h0M517.3 448.0h0M522.0 437.2h0M497.6 464.7h0M513.2 448.6h0M526.1 433.7h0M471.1 470.9h0M478.0 470.9h0M466.8 475.6h0M524.7 439.3h0M465.3 475.5h0M473.0 472.2h0M492.7 465.6h0M463.8 463.3h0M473.9 472.5h0M459.0 471.2h0M474.9 470.4h0M453.9 475.9h0M514.9 449.2h0M462.3 475.1h0M459.4 471.8h0M467.1 463.1h0M502.5 459.6h0M520.5 444.2h0M503.8 457.0h0M501.7 458.8h0M527.0 428.3h0M525.8 431.0h0M462.3 470.7h0M482.9 445.8h0M458.9 473.1h0M521.0 446.5h0M472.1 453.8h0M471.6 471.7h0M512.8 450.1h0M495.2 461.9h0M516.0 445.7h0M522.6 438.7h0M486.5 468.0h0M496.3 437.5h0M525.1 430.3h0M526.8 434.9h0M514.7 448.6h0M471.3 457.2h0M497.8 462.4h0M486.8 442.9h0M525.2 431.4h0M515.2 447.9h0M492.3 464.2h0M493.8 463.4h0M469.6 460.2h0M465.9 460.0h0M483.2 469.6h0M464.6 462.6h0M483.3 446.5h0M492.4 439.5h0M467.2 457.9h0M469.0 472.2h0M464.5 473.4h0M495.3 462.6h0M483.3 445.6h0M472.9 473.6h0M511.5 451.0h0M474.7 470.6h0M468.0 461.4h0M487.6 467.9h0M524.9 431.3h0M471.2 472.6h0M504.8 457.3h0M461.0 469.6h0" stroke="#90ce33" stroke-width="3.7" stroke-linecap="round" fill="none"/>
<path d="M460.9 472.0h0M464.4 463.2h0M458.1 473.3h0M466.9 460.0h0M483.3 468.5h0M488.8 467.1h0M473.2 470.1h0M466.4 465.6h0M511.8 448.5h0M475.6 452.8h0M461.7 473.4h0M467.2 473.4h0M499.2 462.6h0M478.0 469.3h0M454.7 477.3h0M462.1 473.7h0M523.4 435.3h0M457.8 472.8h0M516.7 447.0h0M489.2 441.4h0M473.3 455.8h0M493.1 465.8h0M465.7 474.1h0M512.0 450.9h0M500.7 458.6h0M502.6 458.9h0M502.6 457.8h0M461.2 465.6h0M472.8 472.6h0M513.0 432.8h0M470.7 455.3h0M511.3 435.4h0M506.9 434.1h0M525.6 430.6h0M491.0 465.6h0M479.5 446.2h0M520.3 432.2h0M476.6 473.3h0M477.4 472.3h0M511.6 450.7h0M485.4 466.0h0M480.6 448.0h0M483.7 470.5h0M482.0 447.0h0M509.4 432.9h0M497.7 439.4h0M477.5 453.4h0M491.1 464.5h0M473.6 470.6h0M499.4 436.1h0M516.2 431.2h0M463.2 470.8h0M466.9 474.0h0M461.7 471.0h0M514.0 448.3h0M470.8 459.3h0M465.0 472.0h0M482.6 444.8h0M489.6 441.1h0M488.3 465.0h0M464.8 462.7h0M465.8 463.6h0M460.5 474.5h0M465.0 461.9h0M516.8 433.7h0M492.8 463.0h0M479.3 470.0h0M491.7 465.5h0M454.1 476.2h0M499.3 460.1h0M509.2 452.2h0M463.3 471.5h0M513.4 432.1h0M479.6 449.0h0M465.4 462.3h0M477.4 449.7h0M456.7 476.0h0M465.9 462.6h0M512.5 433.2h0M475.4 468.8h0M463.3 469.8h0M497.5 461.8h0M482.7 469.0h0M473.9 469.5h0M482.1 467.9h0M522.8 438.9h0M501.7 436.3h0M471.9 457.7h0M524.7 433.0h0M519.1 430.8h0M492.9 463.1h0M477.2 469.8h0M479.7 472.7h0M508.5 452.8h0M515.0 443.1h0M471.2 471.5h0M512.7 432.8h0M515.2 445.1h0M514.1 449.5h0M480.8 450.3h0M522.7 435.7h0M492.9 438.4h0M514.1 445.7h0M475.9 449.4h0M503.3 435.6h0M490.6 464.2h0M516.4 434.3h0" stroke="#aad52d" stroke-width="3.7" stroke-linecap="round" fill="none"/>
<path d="M468.0 463.4h0M466.2 471.6h0M461.8 467.0h0M470.7 473.7h0M524.7 432.9h0M496.4 464.1h0M473.9 469.5h0M475.4 454.0h0M467.6 475.5h0M518.1 430.0h0M498.1 437.1h0M467.6 470.2h0M480.1 467.8h0M499.3 438.2h0M504.3 459.9h0M466.9 460.6h0M464.1 465.8h0M483.6 467.5h0M462.3 466.6h0M466.5 474.1h0M468.1 463.3h0M473.3 454.5h0M499.1 438.6h0M525.6 435.3h0M497.4 437.7h0M475.1 469.7h0M517.1 444.5h0M459.0 471.2h0M468.5 471.7h0M486.4 466.8h0M516.4 442.4h0M522.2 431.0h0M476.3 452.2h0M498.3 459.8h0M471.0 471.7h0M519.2 432.3h0M479.9 450.1h0M501.9 457.5h0M467.3 462.3h0M505.4 435.4h0M510.6 450.4h0M511.6 449.2h0M479.4 470.2h0M479.1 470.8h0M467.0 464.1h0M477.9 468.6h0M463.0 469.2h0M491.2 462.0h0M465.0 472.3h0M481.0 468.7h0M470.6 460.6h0M470.9 470.9h0M517.1 444.0h0M495.7 461.8h0M464.7 467.4h0M480.9 449.3h0M481.8 468.7h0M461.8 467.0h0M466.8 461.5h0M476.9 453.4h0M476.1 471.3h0M473.8 469.0h0M462.1 469.9h0M518.8 433.5h0M470.3 472.4h0M478.5 467.9h0M504.8 455.5h0M504.7 456.9h0M459.4 472.1h0M469.9 472.3h0M496.1 462.3h0M484.9 466.0h0M466.8 471.7h0M473.3 470.0h0M467.4 472.2h0M518.1 443.6h0M470.6 473.2h0M511.6 447.2h0M505.8 453.7h0M486.9 443.6h0M489.4 465.0h0M481.6 447.5h0M508.4 452.9h0M494.0 462.9h0M489.6 463.3h0M475.4 469.7h0M494.8 460.3h0M519.6 431.6h0M467.9 470.2h0M507.1 455.1h0M507.9 451.7h0M521.8 434.6h0M519.8 436.6h0M501.7 437.2h0M503.5 453.9h0M514.9 432.6h0M475.0 454.3h0M521.1 439.0h0M512.1 451.2h0M476.8 468.9h0M463.5 467.7h0M494.9 461.7h0M512.0 448.4h0M510.2 436.3h0M496.1 438.1h0M512.7 448.9h0M513.7 448.9h0M469.6 457.1h0M468.7 471.1h0M468.0 461.6h0M470.0 468.9h0M485.3 465.6h0M499.5 459.7h0" stroke="#c5dc28" stroke-width="3.7" stroke-linecap="round" fill="none"/>
<path d="M506.7 453.1h0M490.7 463.0h0M518.3 440.0h0M466.0 465.9h0M482.2 466.6h0M464.6 466.4h0M473.6 469.0h0M480.0 450.0h0M511.7 449.7h0M468.8 459.6h0M460.5 471.8h0M482.4 466.4h0M516.3 442.8h0M491.3 439.8h0M464.1 466.6h0M483.7 467.7h0M512.2 432.1h0M491.6 441.6h0M518.6 440.8h0M472.0 454.8h0M457.7 472.0h0M489.7 443.4h0M516.1 443.0h0M505.7 456.5h0M472.4 470.7h0M518.6 442.4h0M523.1 435.5h0M473.6 472.2h0M518.5 442.3h0M475.3 451.6h0M474.4 471.6h0M522.5 435.9h0M487.7 444.7h0M514.1 443.8h0M511.7 449.1h0M471.6 458.5h0M502.8 437.3h0M509.8 451.9h0M466.0 464.8h0M493.4 440.5h0M472.6 471.5h0M516.0 445.5h0M469.9 471.3h0M505.8 454.2h0M486.3 445.0h0M518.9 433.7h0M505.1 455.9h0M518.1 438.3h0M478.3 468.1h0M467.6 471.9h0M499.5 439.3h0M513.6 434.3h0M476.0 467.7h0M506.0 436.3h0M468.3 471.5h0M485.7 445.0h0M464.8 469.8h0M471.6 457.3h0M477.6 454.2h0M498.4 439.4h0M472.7 456.8h0M480.9 468.4h0M505.6 455.4h0M521.2 433.8h0M475.0 453.2h0M521.6 436.1h0M520.1 439.4h0M490.5 443.0h0M471.7 468.7h0M493.0 461.9h0M468.9 465.5h0M486.1 465.8h0M516.7 433.3h0M494.2 461.2h0M512.6 435.3h0M486.5 464.4h0M474.6 468.5h0M516.4 442.6h0M497.7 439.5h0M479.5 467.2h0M508.1 435.9h0M496.0 459.9h0M503.7 456.7h0M509.1 449.5h0M492.0 462.3h0M496.7 461.0h0M511.7 449.3h0M474.2 470.3h0M467.8 468.5h0M518.2 432.4h0M499.9 457.8h0M523.7 434.5h0M504.9 453.8h0M467.4 460.3h0M508.8 434.9h0M498.8 460.1h0M502.2 457.4h0M506.7 453.0h0M468.4 468.2h0M511.2 447.2h0M523.1 435.5h0M468.6 461.5h0M483.5 466.0h0M462.3 471.4h0M474.2 457.1h0M504.4 454.0h0M518.5 440.1h0M489.2 463.7h0M497.5 438.8h0M467.3 465.9h0M479.1 453.8h0M517.3 439.1h0M499.4 458.5h0M484.3 464.9h0M478.4 452.3h0M510.3 435.4h0M491.4 461.9h0M474.4 465.2h0M473.1 457.2h0M474.4 453.9h0M500.2 459.8h0M472.4 456.4h0" stroke="#d5df24" stroke-width="3.7" stroke-linecap="round" fill="none"/>
<path d="M497.1 438.6h0M490.9 462.5h0M486.1 464.0h0M473.5 467.7h0M518.5 437.7h0M474.0 457.3h0M480.8 451.3h0M472.4 458.6h0M497.2 461.2h0M510.9 447.6h0M517.4 434.2h0M503.6 455.3h0M509.6 449.7h0M496.5 439.3h0M486.1 444.6h0M480.9 449.4h0M490.8 443.0h0M519.1 434.1h0M463.8 468.0h0M502.8 438.6h0M469.9 460.0h0M481.7 464.1h0M509.7 436.5h0M474.2 469.8h0M461.9 467.1h0M474.9 456.9h0M508.1 450.9h0M513.4 446.2h0M458.2 473.2h0M472.7 458.7h0M482.8 465.2h0M466.0 467.4h0M465.2 471.8h0M514.9 443.6h0M510.9 434.3h0M466.5 462.8h0M484.2 446.3h0M478.6 451.8h0M520.7 435.4h0M481.2 466.2h0M475.0 468.6h0M489.0 443.0h0M484.7 464.6h0M519.0 433.2h0M509.2 451.2h0M498.9 439.0h0M469.5 468.4h0M503.5 455.5h0M496.6 459.5h0M490.4 462.1h0M504.6 454.4h0M465.7 471.5h0M509.8 448.2h0M510.9 448.5h0M480.0 450.5h0M467.1 463.7h0M464.3 468.5h0M463.9 468.0h0M471.9 459.5h0M479.5 467.6h0M513.1 446.2h0M518.7 438.0h0M494.8 441.6h0M472.5 458.2h0M474.1 457.2h0M505.9 453.9h0M515.2 435.3h0M468.8 461.9h0M470.6 458.5h0M500.8 456.7h0M517.0 440.3h0M478.6 454.6h0M466.7 467.0h0M479.6 452.3h0M475.3 467.6h0M485.0 465.8h0M491.7 462.2h0M475.4 466.6h0M500.1 439.2h0M487.8 464.3h0M512.4 446.8h0M475.0 467.9h0M520.8 437.7h0M500.3 438.1h0M464.2 471.4h0M504.3 454.4h0M508.1 449.4h0M476.1 468.0h0M512.1 434.0h0M485.5 465.0h0M489.3 463.8h0M463.5 471.9h0M487.8 464.0h0M464.2 468.3h0M518.6 434.7h0M514.6 441.4h0M469.5 469.6h0M518.1 440.6h0M518.4 433.2h0M468.6 468.3h0M474.7 466.6h0M465.0 471.4h0M470.7 463.0h0M499.6 458.9h0M464.7 471.3h0M501.6 456.0h0M461.7 471.3h0M480.3 451.5h0M510.7 446.1h0M519.0 434.9h0M507.1 450.9h0M473.4 469.6h0M489.4 461.3h0M498.3 440.6h0M502.7 453.7h0" stroke="#e0e021" stroke-width="3.7" stroke-linecap="round" fill="none"/>
<path d="M468.4 463.3h0M521.8 438.1h0M491.8 461.3h0M507.1 453.2h0M471.7 466.3h0M482.1 449.1h0M470.4 467.1h0M476.5 454.5h0M508.2 449.6h0M467.7 471.5h0M511.8 446.0h0M501.4 456.8h0M471.1 461.0h0M514.1 446.7h0M499.2 440.3h0M513.1 442.3h0M502.7 456.0h0M491.5 462.4h0M509.5 447.7h0M466.5 471.8h0M511.5 445.2h0M504.3 437.4h0M467.7 463.6h0M484.9 462.7h0M471.5 458.2h0M521.1 435.9h0M473.9 467.6h0M500.0 439.6h0M473.5 468.5h0M467.9 469.6h0M474.4 468.0h0M494.2 460.0h0M475.3 468.3h0M488.6 463.0h0M509.1 450.2h0M458.6 473.6h0M488.3 466.4h0M505.7 436.5h0M490.1 462.4h0M517.8 441.5h0M488.9 465.1h0M484.2 465.9h0M472.6 468.1h0M463.6 467.5h0M470.5 460.6h0M503.4 437.9h0M488.5 444.3h0M482.6 463.7h0M517.3 442.1h0M519.8 437.3h0M483.8 447.7h0M471.2 462.9h0M473.6 457.2h0M488.0 463.7h0M485.9 445.2h0M494.6 460.0h0M514.0 446.9h0M469.9 470.7h0M508.1 451.4h0M487.1 446.9h0M520.7 435.3h0M469.7 465.7h0M465.9 468.7h0M509.2 450.0h0M498.0 440.2h0M474.5 466.7h0M473.0 458.4h0M504.6 439.0h0M465.8 468.4h0M485.8 445.0h0M510.6 445.8h0M510.6 436.5h0M479.5 467.5h0M503.0 455.4h0M513.2 442.2h0M488.2 463.1h0M470.3 469.4h0M493.4 443.3h0M487.6 464.2h0M471.0 467.8h0M463.1 470.2h0M516.7 435.1h0M480.7 449.8h0M502.2 454.7h0M474.3 466.8h0M516.6 442.2h0M476.6 455.5h0M499.3 458.4h0M485.0 464.4h0M483.2 464.5h0M517.3 437.7h0M511.2 447.2h0M476.8 456.4h0M474.3 457.8h0" stroke="#ebe11e" stroke-width="3.7" stroke-linecap="round" fill="none"/>
<path d="M501.4 438.6h0M473.2 463.1h0M497.2 439.6h0M503.4 438.1h0M516.1 434.8h0M498.0 459.0h0M482.8 464.6h0M480.4 464.4h0M517.7 435.4h0M483.0 466.0h0M472.2 459.5h0M484.2 464.9h0M512.2 434.7h0M468.0 467.9h0M490.1 461.8h0M476.1 465.4h0M515.0 439.0h0M510.7 448.2h0M515.6 441.7h0M472.5 459.7h0M520.1 437.4h0M470.1 467.0h0M473.9 459.4h0M470.0 468.3h0M491.5 459.9h0M481.6 465.7h0M504.2 437.8h0M494.4 460.0h0M490.1 462.3h0M474.0 458.0h0M516.2 442.0h0M472.3 466.0h0M466.8 465.3h0M468.1 466.2h0M487.3 461.9h0M470.9 465.5h0M469.8 461.0h0M489.5 461.7h0M518.9 435.3h0M493.7 443.2h0M501.1 439.8h0M505.9 450.1h0M477.6 466.9h0M479.4 466.2h0M499.2 457.7h0M502.7 455.0h0M470.4 469.1h0M518.5 436.4h0M486.8 445.8h0M497.6 440.4h0M515.7 435.9h0M490.3 461.9h0M498.1 459.3h0M468.9 464.6h0M502.3 452.8h0M505.3 453.3h0M517.4 441.0h0M506.3 437.2h0M474.7 465.7h0M500.9 455.1h0M471.2 461.0h0M472.0 458.9h0M473.1 459.7h0M474.0 459.3h0M517.2 438.1h0M473.1 466.4h0M509.4 450.1h0M515.3 441.5h0M472.2 459.7h0M514.8 435.6h0M503.9 438.7h0M518.6 438.1h0M513.7 443.4h0M503.0 438.2h0M495.4 462.6h0M474.3 459.2h0M483.9 450.0h0M482.8 450.4h0M471.6 465.1h0M481.4 450.2h0M493.7 459.4h0M475.5 465.5h0M475.8 465.0h0M496.3 440.7h0M491.0 462.3h0M504.6 454.9h0M508.3 449.5h0M499.8 457.2h0M483.5 464.7h0M502.1 455.1h0M481.3 467.2h0M486.4 463.1h0M501.8 452.3h0M511.3 446.2h0M481.6 463.9h0M514.7 436.1h0M491.9 461.1h0M473.9 466.9h0M479.6 452.6h0M474.3 467.5h0M470.5 468.7h0M481.8 450.8h0M491.5 461.6h0M474.1 465.3h0M472.1 468.6h0M470.6 460.5h0M489.2 461.0h0M496.7 441.3h0M475.2 455.6h0M513.8 443.2h0M517.1 442.5h0M470.3 465.5h0M480.0 451.8h0M497.9 440.4h0M477.5 464.0h0M508.1 450.0h0M514.7 438.5h0" stroke="#f0df1e" stroke-width="3.7" stroke-linecap="round" fill="none"/>
<path d="M497.0 459.1h0M506.6 438.2h0M469.7 467.8h0M476.8 464.8h0M496.2 458.5h0M493.3 459.8h0M499.5 456.3h0M506.0 452.2h0M470.6 468.5h0M513.4 440.8h0M477.2 457.6h0M505.3 450.8h0M491.2 461.3h0M477.5 464.8h0M509.0 437.4h0M505.1 451.4h0M489.9 462.2h0M468.5 468.4h0M479.7 463.4h0M474.3 456.5h0M486.5 447.8h0M479.0 465.6h0M475.9 466.0h0M516.8 439.9h0M474.5 460.5h0M514.9 438.8h0M487.9 462.0h0M484.8 464.3h0M467.5 468.9h0M514.5 440.2h0M496.6 457.4h0M475.9 466.0h0M498.2 459.1h0M503.5 453.1h0M516.5 437.5h0M482.8 464.8h0M480.5 450.4h0M506.3 450.2h0M471.2 462.1h0M513.2 434.9h0M500.7 456.5h0M513.5 445.1h0M501.6 439.7h0M509.3 447.0h0M495.4 442.1h0M494.9 443.3h0M475.7 457.4h0M495.8 459.6h0M476.0 466.3h0M484.8 462.7h0M469.1 466.8h0M468.5 466.1h0M486.0 463.2h0M475.5 465.2h0M472.8 466.1h0M470.8 465.0h0M493.8 444.0h0M472.7 466.9h0M471.7 466.9h0M495.8 458.3h0M505.8 449.7h0M513.4 436.9h0M477.0 463.8h0M493.7 459.2h0M475.1 456.6h0M495.8 441.0h0M509.2 447.1h0M474.1 467.5h0M471.3 462.4h0M485.8 462.5h0M510.9 445.9h0M508.7 445.6h0M476.2 455.8h0M502.7 451.9h0M469.2 463.0h0M476.9 465.5h0M504.0 453.0h0M478.8 466.5h0M478.1 465.4h0M516.2 437.6h0M471.3 461.7h0M475.6 457.3h0M488.2 445.9h0M484.2 464.5h0M487.7 461.3h0M507.1 450.1h0M504.2 453.7h0M474.5 466.7h0M472.3 461.9h0M498.7 440.4h0M482.9 464.7h0M480.6 453.7h0" stroke="#f0da24" stroke-width="3.7" stroke-linecap="round" fill="none"/>
<path d="M514.7 442.0h0M507.4 437.0h0M485.3 463.2h0M490.8 460.7h0M496.7 441.1h0M514.5 437.8h0M483.4 448.4h0M476.3 465.0h0M468.9 468.0h0M471.1 464.5h0M497.8 441.1h0M517.5 437.8h0M501.1 455.8h0M511.9 443.3h0M505.3 438.1h0M479.9 466.7h0M480.2 453.7h0M474.3 466.7h0M514.2 442.7h0M513.3 440.6h0M485.4 449.8h0M512.1 439.1h0M474.7 458.7h0M496.6 442.5h0M491.3 459.9h0M477.1 465.1h0M483.3 462.1h0M495.5 460.2h0M491.3 444.6h0M510.9 438.7h0M498.1 456.8h0M491.1 459.7h0M510.5 437.9h0M487.1 461.5h0M498.6 441.7h0M487.8 462.2h0M507.7 449.0h0M498.5 457.4h0M476.1 467.1h0M469.9 466.2h0M491.9 446.0h0M478.3 454.1h0M493.1 458.5h0M507.9 446.5h0M467.1 467.1h0M494.7 442.3h0M475.3 459.9h0M487.6 447.4h0M480.5 464.4h0M497.1 457.1h0M469.5 467.3h0M476.5 456.9h0M503.7 453.4h0M511.0 444.7h0M472.2 464.9h0M509.4 447.2h0M472.2 468.2h0M513.8 440.5h0M512.5 443.8h0M469.6 464.4h0M477.7 465.6h0M481.9 452.6h0M504.5 451.2h0M500.2 454.5h0M488.0 446.4h0M482.3 463.3h0M475.0 467.9h0M473.8 465.3h0M505.2 440.0h0M504.8 449.7h0M475.7 454.3h0M484.6 464.6h0M495.0 458.9h0M510.9 438.6h0M504.9 451.8h0M497.7 457.1h0M486.8 448.3h0M472.2 461.2h0M504.7 451.1h0M502.8 439.7h0M494.9 460.0h0M476.2 464.8h0M514.9 439.3h0M497.7 443.7h0M473.1 465.8h0M489.2 446.6h0M504.0 451.7h0M506.4 448.9h0M480.0 463.0h0M473.8 462.3h0M494.5 459.7h0M471.8 459.4h0M484.4 463.1h0" stroke="#f0d428" stroke-width="3.7" stroke-linecap="round" fill="none"/>
<path d="M470.3 466.5h0M471.0 461.4h0M518.6 435.7h0M485.3 461.8h0M482.5 449.9h0M482.8 462.4h0M503.3 439.6h0M483.8 448.8h0M476.2 457.6h0M491.0 446.1h0M499.4 456.1h0M510.6 438.2h0M511.8 442.1h0M481.7 451.8h0M471.5 463.0h0M480.5 464.9h0M501.8 452.7h0M486.8 448.2h0M481.5 450.5h0M484.8 448.9h0M509.1 445.1h0M502.9 439.7h0M501.4 439.9h0M486.9 447.5h0M505.1 438.8h0M480.6 453.5h0M478.4 462.7h0M508.7 447.0h0M502.5 451.8h0M511.3 443.9h0M513.1 441.0h0M477.3 459.9h0M481.0 452.9h0M473.4 462.6h0M476.7 458.9h0M494.2 443.1h0M505.5 439.8h0M483.3 462.4h0M481.4 453.2h0M501.1 455.0h0M489.8 461.2h0M472.4 462.9h0M509.3 439.9h0M482.5 451.4h0M472.7 464.7h0M499.5 456.8h0M512.8 442.8h0M491.1 459.6h0M499.7 454.5h0M507.5 447.6h0M484.0 449.4h0M497.6 442.1h0M479.0 465.0h0M476.7 464.8h0M500.1 455.3h0M496.5 442.9h0M473.4 462.5h0M515.9 436.3h0M483.4 463.5h0M508.4 438.2h0M498.8 454.0h0M483.8 452.3h0M481.6 464.9h0M483.7 462.7h0M487.3 461.5h0M474.8 465.9h0M482.5 453.3h0M474.3 466.2h0M478.3 462.1h0M507.9 440.0h0M489.6 460.9h0M473.6 465.3h0M471.4 464.8h0M473.2 462.7h0M504.7 450.3h0M488.4 447.5h0M511.3 444.3h0M497.7 455.0h0M497.8 457.8h0M508.4 447.3h0M498.9 455.0h0M493.1 458.6h0M469.5 467.1h0M488.9 460.6h0M499.1 456.1h0M479.9 462.6h0M477.5 466.3h0M493.3 460.3h0M512.9 442.0h0M494.0 457.8h0M481.2 461.5h0M499.7 441.1h0M483.9 462.4h0M500.1 441.2h0M499.1 442.1h0M491.7 459.8h0M477.2 458.2h0M490.4 444.9h0M513.8 440.3h0M481.0 465.1h0M481.7 463.5h0M476.6 457.1h0M501.7 440.7h0" stroke="#f0cf2e" stroke-width="3.7" stroke-linecap="round" fill="none"/>
<path d="M489.6 459.9h0M483.4 451.4h0M498.1 458.2h0M502.8 439.9h0M489.5 460.6h0M512.4 441.9h0M499.9 441.3h0M484.9 450.3h0M507.2 447.0h0M511.2 440.2h0M486.8 448.3h0M498.0 442.7h0M501.2 454.4h0M489.9 460.1h0M500.2 455.4h0M478.1 456.1h0M472.9 464.6h0M503.2 450.6h0M482.3 462.2h0M477.6 463.0h0M506.3 439.5h0M480.3 454.4h0M513.1 440.8h0M476.5 466.7h0M493.8 444.9h0M512.3 438.1h0M491.4 445.7h0M475.2 462.7h0M494.6 443.7h0M475.0 460.7h0M492.2 446.4h0M501.8 452.6h0M500.4 454.0h0M496.0 443.4h0M492.4 459.7h0M513.9 437.8h0M473.5 460.2h0M481.0 461.9h0M484.7 461.1h0M489.6 447.6h0M480.6 464.9h0M482.3 452.9h0M511.1 439.9h0M497.4 442.6h0M492.8 458.8h0M511.4 441.6h0M505.5 440.3h0M505.6 448.2h0M510.4 445.1h0M515.7 437.7h0M489.6 459.9h0M473.8 461.1h0M474.7 465.0h0M509.0 445.4h0M512.2 438.9h0M491.9 445.9h0M471.7 465.1h0M513.5 438.1h0M479.3 455.3h0M482.7 453.6h0M485.3 450.3h0M483.0 462.2h0M512.1 439.0h0M487.7 448.0h0M478.0 464.5h0M499.5 443.1h0M500.2 440.4h0M485.1 461.0h0M502.6 452.0h0M486.1 461.6h0M492.0 458.1h0M491.5 458.9h0M509.7 444.4h0M485.4 449.0h0M480.6 455.1h0M491.4 444.9h0M478.5 456.1h0M480.7 454.6h0M484.2 462.5h0M474.6 462.2h0M472.7 465.2h0M511.7 441.8h0" stroke="#f0c935" stroke-width="3.7" stroke-linecap="round" fill="none"/>
<path d="M509.7 439.7h0M493.6 456.9h0M483.4 462.1h0M513.3 439.1h0M478.9 457.6h0M508.7 445.9h0M512.7 439.4h0M496.9 456.1h0M487.6 459.8h0M477.0 464.0h0M477.4 458.2h0M509.0 443.8h0M498.0 456.4h0M494.2 457.3h0M479.7 462.8h0M503.6 450.5h0M474.4 463.7h0M501.9 452.0h0M477.9 462.6h0M514.0 438.5h0M482.2 463.2h0M508.8 438.7h0M493.8 459.6h0M504.0 441.1h0M494.6 457.3h0M509.0 444.2h0M499.4 454.5h0M476.7 458.8h0M495.3 457.7h0M475.3 460.0h0M491.6 460.5h0M485.7 460.1h0M485.0 460.7h0M477.0 465.2h0M492.5 458.7h0M488.6 447.7h0M492.8 458.5h0M498.1 443.0h0M501.6 451.9h0M510.0 440.2h0M496.8 457.1h0M502.2 441.0h0M506.9 440.2h0M501.7 452.7h0M476.0 462.2h0M485.5 449.1h0M489.3 447.5h0M496.1 456.1h0M508.9 439.5h0M494.1 457.9h0M485.9 460.9h0M489.5 447.1h0M476.6 460.1h0M491.1 446.2h0M475.0 460.5h0M495.0 456.7h0M474.0 462.9h0M493.9 457.6h0M506.8 439.7h0M469.8 465.2h0M511.5 439.1h0M477.0 462.9h0M473.5 464.8h0M502.6 452.0h0M507.9 439.8h0M495.8 444.0h0M511.2 441.0h0M494.6 457.0h0M482.5 462.1h0M488.8 460.4h0M485.4 450.3h0M479.7 456.4h0M488.8 459.3h0M495.1 444.9h0M481.4 462.7h0M504.7 449.3h0M499.8 454.8h0M511.8 441.2h0" stroke="#f0c23f" stroke-width="3.7" stroke-linecap="round" fill="none"/>
<path d="M476.2 464.0h0M481.1 461.0h0M508.7 446.3h0M501.0 442.2h0M487.7 448.0h0M477.9 459.8h0M509.8 440.2h0M484.3 460.8h0M499.0 442.6h0M482.0 461.6h0M474.4 463.9h0M509.0 440.2h0M471.7 463.9h0M510.0 441.1h0M499.4 441.9h0M501.7 442.7h0M507.0 445.5h0M495.5 443.9h0M478.6 457.0h0M505.3 442.3h0M493.9 444.6h0M477.2 463.5h0M510.2 441.8h0M479.5 461.2h0M488.9 459.5h0M474.0 463.3h0M509.0 443.2h0M483.0 461.3h0M482.1 453.2h0M510.3 446.2h0M486.2 460.8h0M498.5 454.4h0M509.0 444.0h0M491.4 458.4h0M482.6 460.5h0M488.7 459.7h0M474.3 463.0h0M477.7 460.9h0M486.5 460.2h0M488.9 459.1h0M510.0 440.3h0M478.4 461.5h0M488.7 449.1h0M480.0 454.5h0M506.7 440.8h0M505.5 448.5h0M510.3 440.6h0M493.7 457.1h0M487.2 459.5h0M494.4 444.3h0M491.4 448.4h0M504.7 440.9h0M488.1 459.7h0M477.3 458.2h0M492.6 457.6h0M511.7 440.8h0M479.8 458.2h0M478.7 462.1h0M485.4 452.3h0M499.5 455.0h0M476.0 460.8h0" stroke="#f0bc49" stroke-width="3.7" stroke-linecap="round" fill="none"/>
<path d="M484.2 452.0h0M479.8 456.3h0M501.9 450.6h0M505.2 449.3h0M507.3 444.7h0M504.7 441.2h0M501.7 443.1h0M505.2 448.9h0M498.0 454.0h0M488.4 449.7h0M488.4 459.5h0M496.8 443.9h0M509.7 443.1h0M489.9 458.8h0M476.1 457.9h0M482.6 460.6h0M482.1 461.9h0M493.4 457.3h0M494.2 456.1h0M477.7 461.1h0M501.4 451.9h0M486.2 459.3h0M494.2 456.4h0M490.8 458.8h0M490.4 458.5h0M489.2 459.4h0M504.9 442.0h0M483.2 461.0h0M475.8 461.6h0M486.8 458.9h0M490.7 457.4h0M489.7 448.0h0M489.0 458.6h0M503.4 442.0h0M508.5 441.6h0M505.5 448.0h0M492.4 456.6h0M498.4 445.0h0M508.8 445.9h0M474.5 462.1h0M497.6 456.0h0M483.7 453.2h0M480.9 462.6h0M476.1 462.9h0M489.0 448.4h0M476.1 460.7h0M507.1 443.0h0M475.4 461.5h0M500.4 442.1h0M479.5 459.2h0M478.9 458.1h0M481.9 460.6h0M496.3 445.5h0M493.6 446.0h0M483.6 452.2h0M499.8 451.4h0M492.1 456.8h0M493.6 456.8h0M496.4 445.9h0M502.3 442.2h0M509.2 443.8h0M505.4 447.3h0M496.6 444.8h0M491.0 448.0h0M506.6 446.0h0M501.7 450.7h0M484.9 459.7h0M493.3 456.4h0M477.5 460.0h0" stroke="#f0b553" stroke-width="3.7" stroke-linecap="round" fill="none"/>
<path d="M476.8 458.0h0M488.5 449.1h0M506.3 447.1h0M491.9 445.7h0M489.6 448.8h0M475.8 463.0h0M506.0 446.8h0M477.2 462.9h0M477.3 462.7h0M505.0 447.2h0M498.7 443.9h0M479.2 458.4h0M482.4 456.5h0M498.7 452.8h0M496.8 454.3h0M491.3 458.2h0M485.9 449.1h0M486.3 459.8h0M484.3 459.8h0M508.8 442.3h0M500.9 443.0h0M509.8 440.4h0M507.3 445.8h0M488.6 448.4h0M503.0 442.2h0M495.6 455.2h0M475.0 463.3h0M494.9 446.8h0M490.2 458.5h0M478.1 461.3h0M481.3 459.2h0M481.2 455.1h0M484.6 452.2h0M504.8 446.4h0M480.3 460.5h0M498.3 445.0h0M502.3 442.7h0M481.5 461.7h0M481.6 460.0h0M504.0 447.2h0M507.2 441.5h0M498.7 453.9h0M487.5 459.0h0M508.0 442.7h0M501.8 451.8h0M509.5 441.1h0M492.9 455.7h0M501.3 450.1h0M503.4 442.8h0M488.5 450.7h0M497.0 454.8h0M493.8 445.4h0M508.2 444.1h0M490.8 457.6h0M506.1 447.9h0M499.0 453.4h0M504.2 443.6h0M482.7 459.1h0M492.5 456.6h0M490.8 457.7h0M485.0 454.0h0M484.1 454.0h0M506.6 447.3h0M499.7 453.4h0M501.3 449.8h0M479.3 461.2h0M484.6 452.1h0M490.3 458.5h0M490.6 447.1h0M483.6 455.1h0M487.8 449.2h0M502.1 449.1h0M480.1 460.9h0" stroke="#f0b35e" stroke-width="3.7" stroke-linecap="round" fill="none"/>
<path d="M489.4 448.2h0M506.4 443.8h0M500.4 442.5h0M479.1 460.2h0M480.1 459.6h0M501.7 450.8h0M487.0 452.0h0M485.8 458.3h0M509.7 440.3h0M495.4 456.0h0M502.7 442.2h0M481.9 456.6h0M489.9 448.3h0M479.0 458.9h0M499.5 444.6h0M503.1 449.0h0M487.4 458.5h0M488.2 458.2h0M509.1 444.4h0M483.4 459.1h0M478.3 458.3h0M507.9 443.8h0M500.0 442.8h0M510.1 439.0h0M483.8 453.7h0M506.4 442.3h0M483.2 455.0h0M491.5 457.0h0M475.3 462.4h0M480.2 460.5h0M500.4 452.2h0M490.3 457.4h0M489.0 448.2h0M494.8 454.2h0M489.1 458.9h0M481.9 456.8h0M483.1 460.9h0M488.6 458.8h0M478.3 459.1h0M482.2 456.1h0M507.2 445.3h0M499.1 453.7h0M477.6 461.3h0M501.9 451.6h0M486.7 459.4h0M492.5 447.2h0M506.2 440.8h0M480.5 461.1h0M500.7 450.4h0M498.4 446.1h0M506.4 445.3h0M509.4 440.7h0M484.4 454.2h0M493.6 455.9h0M478.6 461.3h0M492.7 446.0h0M493.4 456.1h0M497.3 453.7h0M493.9 446.9h0" stroke="#f0b46a" stroke-width="3.7" stroke-linecap="round" fill="none"/>
<path d="M480.2 460.4h0M507.8 442.8h0M484.9 458.8h0M486.0 452.7h0M502.5 443.5h0M481.8 459.3h0M480.3 457.4h0M507.2 444.1h0M504.2 442.4h0M502.3 443.8h0M481.5 457.0h0M503.4 442.6h0M482.8 455.5h0M488.5 459.3h0M499.9 445.6h0M500.3 451.7h0M484.6 454.5h0M497.4 452.9h0M498.9 445.7h0M485.4 459.6h0M505.9 446.8h0M499.1 452.1h0M502.7 443.0h0M497.7 453.5h0M490.6 448.5h0M506.6 443.3h0M482.4 455.4h0M507.7 444.5h0M493.1 456.2h0M487.7 458.3h0M495.7 454.6h0M497.1 452.7h0M500.1 452.1h0M489.6 450.7h0M503.2 448.0h0M502.5 444.6h0M479.1 461.4h0M480.3 460.0h0M489.0 450.3h0M500.3 444.2h0M482.0 454.9h0M497.4 454.7h0M493.1 455.2h0M482.0 458.4h0M495.3 447.4h0M504.1 445.8h0M484.9 454.6h0M504.4 443.9h0M495.6 444.4h0M496.7 445.3h0M501.0 443.7h0M499.9 451.4h0M495.6 454.8h0M482.0 460.4h0M489.2 451.1h0M488.4 458.6h0M481.5 459.2h0M487.0 451.5h0M492.4 447.4h0M487.8 450.5h0M495.7 445.1h0M476.2 462.4h0M488.7 457.3h0M481.5 456.9h0M502.5 443.0h0M495.4 454.3h0M487.8 452.0h0" stroke="#f0b676" stroke-width="3.7" stroke-linecap="round" fill="none"/>
<path d="M496.5 445.8h0M492.6 447.9h0M488.4 457.7h0M494.1 456.8h0M499.6 451.0h0M502.3 443.8h0M496.1 453.9h0M506.1 443.2h0M502.2 447.8h0M492.3 455.7h0M481.6 459.0h0M499.4 451.7h0M483.9 460.1h0M493.3 448.4h0M505.3 447.2h0M497.5 453.2h0M499.2 444.8h0M501.5 449.2h0M499.8 449.4h0M491.5 447.3h0M496.6 454.9h0M498.2 445.3h0M495.2 446.4h0M505.5 444.9h0M498.7 451.9h0M495.7 453.5h0M504.9 445.7h0M499.3 446.7h0M494.7 454.8h0M488.8 456.5h0M478.1 461.0h0M506.4 442.7h0M498.6 445.7h0M488.1 451.1h0M489.8 457.6h0M503.1 444.2h0M503.2 448.3h0M497.3 446.4h0M492.7 455.2h0M497.6 453.3h0M491.5 449.3h0M497.0 445.3h0M488.0 451.3h0M497.5 451.9h0M488.1 452.0h0M503.7 443.9h0M497.6 452.1h0M504.0 443.8h0M484.2 455.4h0M502.7 443.2h0M502.6 449.0h0M482.1 459.5h0M487.7 453.1h0" stroke="#f0b782" stroke-width="3.7" stroke-linecap="round" fill="none"/>
<path d="M498.8 452.1h0M484.0 456.2h0M493.2 455.0h0M495.6 454.3h0M502.8 446.9h0M498.4 444.6h0M483.8 456.4h0M499.4 445.0h0M500.0 450.6h0M504.8 445.3h0M508.5 441.7h0M500.5 444.2h0M500.5 449.5h0M484.1 455.8h0M499.2 449.5h0M494.1 447.7h0M499.7 449.7h0M502.4 447.1h0M498.8 445.3h0M493.4 454.3h0M485.8 454.3h0M503.4 447.9h0M486.4 452.5h0M504.4 447.5h0M481.2 459.3h0M494.2 455.9h0M503.1 446.6h0M491.7 455.8h0M503.5 447.7h0M494.8 454.3h0M501.2 449.5h0M490.2 451.2h0M481.0 457.5h0M484.2 458.6h0M487.3 453.6h0M481.0 459.0h0M492.3 455.4h0M495.8 452.3h0M490.1 456.3h0M486.8 457.8h0M484.5 458.2h0M483.9 456.2h0M497.0 451.8h0M490.0 450.8h0M484.6 459.0h0M486.5 453.5h0M503.4 447.4h0M495.3 453.8h0M490.1 456.4h0M498.3 445.7h0M491.2 456.6h0M487.1 456.9h0M491.6 454.4h0M504.6 444.5h0M500.6 445.6h0M502.6 447.5h0M485.9 454.6h0M492.1 455.5h0M485.6 455.1h0M494.6 455.0h0M481.5 457.7h0M486.4 458.3h0M499.3 450.5h0M488.3 451.4h0M483.4 458.4h0M496.5 446.2h0M494.3 448.3h0" stroke="#f0b98e" stroke-width="3.7" stroke-linecap="round" fill="none"/>
<path d="M503.9 444.0h0M493.8 454.2h0M486.1 453.3h0M494.3 453.7h0M492.9 454.0h0M496.5 447.4h0M505.8 443.1h0M496.7 452.8h0M496.3 453.0h0M494.9 453.3h0M503.2 446.5h0M496.7 452.9h0M490.8 450.1h0M494.6 453.3h0M493.6 454.7h0M502.8 446.9h0M495.8 454.3h0M492.3 454.9h0M480.9 458.4h0M483.6 458.1h0M501.6 447.5h0M501.4 449.7h0M485.5 455.9h0M491.0 448.8h0M480.7 457.3h0M484.6 455.4h0M505.9 443.2h0M484.4 455.8h0M499.4 449.2h0M500.2 445.5h0M482.9 457.6h0M495.8 446.6h0M497.2 451.6h0M490.2 455.6h0M498.2 451.6h0M499.2 450.4h0M491.4 455.2h0M496.2 452.8h0M483.9 458.4h0M504.5 446.5h0M495.7 447.1h0M491.6 451.3h0M490.1 451.7h0M494.3 454.8h0M499.5 446.4h0M486.3 452.7h0M497.1 447.4h0M498.3 446.2h0M485.4 457.2h0M502.4 447.6h0M487.8 456.8h0M500.1 445.8h0M489.8 456.1h0" stroke="#f0bb99" stroke-width="3.7" stroke-linecap="round" fill="none"/>
<path d="M494.5 453.3h0M493.0 447.7h0M488.4 452.5h0M498.9 450.3h0M495.8 452.8h0M499.0 445.9h0M505.8 444.1h0M501.5 447.2h0M497.7 447.3h0M501.4 446.9h0M495.8 453.2h0M487.1 457.2h0M484.6 456.7h0M487.4 456.4h0M498.7 446.6h0M488.1 453.6h0M488.9 455.0h0M489.0 451.4h0M494.7 454.4h0M499.5 447.6h0M499.8 450.9h0M486.8 457.2h0M487.7 452.2h0M495.5 452.9h0M503.6 445.4h0M493.0 454.0h0M494.6 447.7h0M486.7 453.3h0M501.1 444.5h0M484.3 457.1h0M501.1 445.8h0M499.5 445.3h0M491.9 449.5h0M485.1 457.7h0" stroke="#f1c0a2" stroke-width="3.7" stroke-linecap="round" fill="none"/>
<path d="M500.9 449.5h0M496.4 447.6h0M488.5 453.8h0M502.0 447.1h0M491.3 450.5h0M497.7 445.9h0M491.8 454.1h0M485.6 456.8h0M502.8 447.0h0M491.3 452.9h0M499.4 448.6h0M497.6 450.9h0M498.3 445.9h0M491.2 454.0h0M491.9 451.1h0M495.2 448.7h0M497.8 452.0h0M497.1 451.5h0M491.8 450.1h0M484.0 457.2h0M484.5 457.3h0M499.1 445.4h0M489.3 451.4h0M489.9 452.0h0M500.9 447.2h0M488.2 453.2h0M488.4 453.4h0M485.5 455.4h0M490.2 454.5h0M501.3 447.8h0M501.1 447.6h0M487.5 456.5h0M492.8 449.1h0M498.6 446.1h0M491.0 454.0h0M492.4 454.1h0M488.8 452.6h0M500.4 446.4h0M492.6 455.1h0M492.8 450.4h0M487.9 455.2h0M499.0 447.4h0M499.9 448.0h0M488.6 452.4h0M496.1 449.5h0M498.9 449.3h0" stroke="#f1c5ac" stroke-width="3.7" stroke-linecap="round" fill="none"/>
<path d="M500.1 447.9h0M494.5 453.2h0M502.1 446.3h0M485.2 455.6h0M496.5 447.9h0M486.0 455.6h0M491.2 452.2h0M485.8 456.2h0M499.6 447.5h0M496.3 447.5h0M491.9 450.0h0M501.1 445.0h0M492.4 454.7h0M494.1 452.7h0M488.9 456.0h0M501.3 446.1h0M494.9 452.9h0M491.7 450.1h0M496.2 449.2h0M496.9 447.3h0M488.9 452.5h0M488.4 452.7h0M491.8 448.4h0M486.4 453.8h0M492.9 451.3h0M490.2 450.9h0M491.8 450.7h0M495.0 449.4h0M488.0 453.8h0" stroke="#f1c9b6" stroke-width="3.7" stroke-linecap="round" fill="none"/>
<path d="M493.1 454.1h0M496.3 452.0h0M499.0 448.2h0M496.2 451.8h0M491.6 450.3h0M491.6 452.9h0M500.4 447.9h0M484.7 456.2h0M492.9 452.8h0M495.0 447.7h0M498.9 447.6h0M490.1 452.7h0M499.8 448.7h0M491.4 451.6h0M487.5 455.2h0M494.7 449.9h0M496.6 448.2h0M493.7 450.2h0M498.6 449.2h0M485.5 456.0h0M489.5 454.3h0M497.3 448.0h0M495.7 449.2h0M498.7 448.1h0M491.6 452.9h0M487.1 457.1h0M488.8 454.9h0M501.1 446.8h0M495.1 451.9h0M484.0 456.7h0M501.7 445.7h0M498.0 449.8h0" stroke="#f2cebf" stroke-width="3.7" stroke-linecap="round" fill="none"/>
<path d="M491.2 451.4h0M488.6 455.1h0M490.8 453.6h0M488.2 455.7h0M496.3 451.4h0M487.4 455.0h0M497.2 450.1h0M486.7 455.2h0M490.7 451.3h0M490.3 453.7h0M494.6 450.3h0M495.6 448.8h0M494.0 452.5h0" stroke="#f3d5cb" stroke-width="3.7" stroke-linecap="round" fill="none"/>
<path d="M498.0 449.0h0M490.4 453.2h0M495.1 450.6h0M497.0 448.7h0M491.8 451.9h0M490.6 452.9h0M488.4 454.1h0M491.6 452.0h0M499.0 447.4h0M491.9 451.2h0M497.9 449.0h0M496.4 450.1h0M493.3 450.9h0M489.9 454.1h0M492.3 451.9h0M488.6 455.2h0M491.3 453.0h0M492.9 450.8h0M492.8 451.1h0M494.6 450.2h0M494.1 450.7h0" stroke="#f5ded8" stroke-width="3.7" stroke-linecap="round" fill="none"/>
<line x1="357.2" y1="544.1" x2="547.9" y2="420.7" stroke="#000" stroke-width="2"/>
</g>
<clipPath id="c2"><rect x="626" y="380" width="232" height="169.5"/></clipPath>
<g clip-path="url(#c2)">
<path d="M799.2 487.7h0M749.4 519.2h0M708.8 532.2h0M810.7 490.8h0M739.7 543.4h0M847.1 485.9h0M635.6 498.0h0M809.9 473.5h0M726.1 540.9h0M846.9 468.0h0M847.3 429.9h0M709.0 536.5h0M847.8 499.9h0M845.3 470.0h0M716.2 543.7h0M689.7 543.0h0M769.5 526.0h0M774.6 520.5h0M846.3 413.7h0M726.1 533.4h0M711.6 543.4h0M834.7 413.1h0M835.7 460.0h0M720.1 543.6h0M823.1 481.1h0M838.5 414.0h0M639.2 502.8h0M840.8 427.9h0M827.3 490.0h0M826.1 454.6h0M721.1 530.6h0M845.5 462.2h0M717.0 538.6h0M817.9 471.6h0M740.6 511.2h0M760.1 543.4h0M726.6 529.8h0M847.3 495.2h0M636.1 490.2h0M813.8 467.4h0M804.0 490.4h0M708.3 454.5h0M845.8 418.9h0M847.9 468.3h0M835.7 467.6h0M848.0 443.9h0M846.4 472.2h0M804.1 477.0h0M760.6 513.5h0M826.4 467.8h0M839.8 453.6h0M760.9 510.3h0M687.4 465.3h0M847.8 439.1h0M814.1 488.2h0M778.5 491.3h0M715.2 543.6h0M848.0 450.8h0M824.4 470.1h0M761.1 519.4h0M685.7 430.2h0M843.6 462.9h0M814.2 413.2h0M736.9 529.5h0M846.3 423.3h0M759.2 503.9h0M688.0 475.9h0M803.9 494.5h0M845.8 443.7h0M681.7 459.9h0M837.1 440.9h0M819.4 513.4h0M846.7 449.0h0M846.3 409.2h0M721.4 543.9h0M736.8 535.6h0M821.5 443.2h0M847.8 455.2h0M665.1 473.3h0M636.5 478.6h0M679.7 468.9h0M845.5 422.2h0M751.0 510.2h0M815.1 474.2h0M784.5 502.0h0M720.6 540.7h0M735.4 518.3h0M737.3 541.9h0M846.7 414.4h0M744.1 526.2h0M655.1 484.5h0M740.0 428.3h0M704.5 452.3h0M833.8 451.8h0M694.9 539.8h0M758.1 512.0h0M843.3 460.6h0M699.9 532.2h0M638.5 496.4h0M751.3 509.0h0M796.5 492.7h0M824.5 419.9h0M644.1 519.6h0M812.9 473.4h0M812.0 472.3h0M826.3 471.3h0M847.1 414.7h0M846.7 455.5h0M847.9 452.8h0M701.8 543.0h0M823.5 423.3h0M845.4 489.3h0M690.5 437.4h0M846.7 459.0h0M693.8 542.6h0M847.3 420.0h0M807.6 492.7h0M705.5 542.6h0M847.0 419.3h0M799.6 478.4h0M726.7 531.9h0M788.6 486.6h0M828.6 491.3h0M739.0 528.8h0M750.1 513.7h0M803.9 518.5h0M813.9 501.0h0M803.1 500.0h0M846.4 426.1h0M847.3 414.3h0M709.4 530.5h0M766.6 505.1h0M635.4 518.7h0M697.4 537.7h0M845.8 432.5h0M721.5 536.4h0M837.1 472.7h0M816.2 427.8h0M807.8 479.0h0M846.8 415.6h0M847.5 426.6h0M846.4 452.4h0M781.4 492.3h0M845.5 411.6h0M713.5 542.7h0M677.8 466.3h0M840.9 418.5h0M665.7 433.7h0M839.6 452.0h0M665.4 499.6h0M634.1 521.1h0M777.1 496.6h0M846.3 447.7h0M663.0 494.9h0M678.9 542.6h0M735.9 523.5h0M847.4 430.1h0M798.5 502.6h0M811.0 470.5h0M789.2 513.7h0M766.1 413.4h0M822.9 476.0h0M834.0 440.9h0M795.0 481.8h0M845.4 419.5h0M755.9 533.7h0M846.5 446.9h0M833.5 409.6h0M846.3 517.2h0M700.9 535.9h0M845.0 477.7h0M845.6 440.4h0M744.2 512.0h0M731.5 519.1h0M751.4 502.4h0M773.5 499.0h0M847.5 491.5h0M636.8 467.9h0M788.0 482.3h0M820.1 478.4h0M708.2 543.2h0M634.3 542.5h0M647.0 504.5h0M845.4 420.4h0M721.7 530.8h0M674.9 479.3h0M847.6 468.5h0M840.4 427.8h0M634.4 528.7h0M760.3 494.7h0M846.9 413.5h0M707.2 443.8h0M665.9 477.2h0M821.4 477.2h0M702.6 539.0h0M734.6 535.0h0M744.9 511.9h0M693.5 456.6h0M739.4 520.8h0M847.1 410.0h0M845.1 447.0h0M634.1 540.3h0M841.8 451.5h0M664.6 501.0h0M706.8 525.2h0M682.9 541.8h0M637.2 500.6h0M645.1 495.3h0M736.5 542.4h0M728.7 529.2h0M787.4 498.3h0M791.9 501.4h0M762.3 508.7h0M636.7 541.6h0M845.1 433.0h0M737.7 425.1h0M639.3 499.3h0M847.1 411.3h0M846.9 418.6h0M635.8 521.8h0M699.4 541.0h0M696.4 535.9h0M706.7 516.5h0M721.3 434.1h0M846.7 417.6h0M752.9 507.9h0M845.1 422.3h0M641.0 489.5h0M804.9 457.0h0M735.4 519.3h0M634.1 492.1h0M839.1 503.6h0M844.8 455.9h0M822.2 518.8h0M780.6 492.8h0M635.4 499.2h0M784.2 492.6h0M643.8 509.7h0M834.0 420.2h0M826.7 459.6h0M692.2 543.9h0M744.3 543.7h0M635.8 542.6h0M803.8 474.8h0M676.7 543.9h0M846.9 415.0h0M736.8 425.2h0M751.7 528.5h0M669.7 503.1h0M847.3 411.4h0M636.3 515.6h0M836.5 487.4h0M837.1 435.9h0M640.4 500.7h0M837.2 508.3h0M842.2 430.3h0M675.7 495.4h0M686.8 447.8h0M709.5 542.3h0M635.2 527.8h0M635.1 493.7h0M829.2 482.9h0M845.8 423.5h0M798.4 485.5h0M654.0 465.0h0M845.7 435.9h0M848.0 416.4h0M803.0 459.5h0M721.6 440.9h0M707.1 441.7h0M758.9 522.6h0M759.2 543.9h0M808.5 472.2h0M846.3 411.8h0M837.5 456.9h0M806.8 475.9h0M750.4 501.9h0M846.2 422.7h0M636.6 542.6h0M847.2 429.4h0M761.4 499.4h0M733.2 415.5h0M828.7 447.6h0M825.7 456.1h0M811.6 453.7h0M846.2 432.3h0M847.4 449.4h0M638.5 501.9h0M765.2 508.0h0M812.4 453.0h0M839.8 425.1h0M634.4 525.1h0M702.9 542.3h0M635.0 472.9h0M826.4 470.5h0M761.8 516.9h0M845.2 458.7h0M771.3 483.9h0M717.4 528.4h0M809.6 474.6h0M706.3 531.7h0M836.8 445.5h0M730.2 515.8h0M845.9 425.6h0M830.1 458.0h0M751.6 506.5h0M810.4 486.3h0M776.2 524.4h0M755.7 508.3h0M754.4 516.8h0M807.6 465.6h0M846.0 420.9h0M846.3 432.8h0M804.6 472.7h0M847.3 430.4h0M635.0 493.7h0M642.9 503.3h0M723.6 523.1h0M716.2 439.5h0M653.0 499.5h0M669.9 480.1h0M845.5 422.3h0M786.9 477.4h0M634.5 543.3h0M797.3 486.0h0M636.9 510.3h0M802.9 539.6h0M643.9 502.1h0M831.7 463.0h0M716.4 543.7h0M847.6 542.9h0M828.9 476.6h0M720.0 538.5h0M710.2 525.6h0M802.0 477.1h0M749.7 424.0h0M824.4 464.4h0M634.8 493.7h0M822.3 476.9h0M676.8 499.4h0M708.0 529.1h0M760.1 535.5h0M675.0 541.4h0M790.6 475.9h0M693.2 458.9h0M847.4 434.7h0M684.9 541.7h0M845.7 410.3h0M681.6 479.6h0M657.3 482.8h0M772.8 498.6h0M721.6 512.6h0M846.9 459.8h0M686.0 541.9h0M743.9 510.6h0M774.7 506.6h0M835.8 437.4h0M634.0 542.7h0M720.4 508.6h0M790.7 504.6h0M787.5 543.8h0M635.0 543.4h0M843.0 541.8h0M755.6 424.3h0M845.8 451.8h0M638.1 474.1h0M655.3 437.6h0M797.5 468.1h0M845.7 413.4h0M835.7 437.9h0M844.2 428.1h0M634.5 542.2h0M634.9 525.9h0M635.2 486.7h0M675.6 485.5h0M847.3 432.9h0M732.3 525.3h0M809.8 415.2h0M688.7 542.0h0M847.8 426.2h0M642.3 515.9h0M636.6 444.6h0M709.0 516.3h0M751.9 538.1h0M843.8 450.4h0" stroke="#23a84a" stroke-width="3.8" stroke-linecap="round" fill="none"/>
<path d="M681.8 472.7h0M805.7 468.9h0M832.7 433.2h0M847.8 416.4h0M761.2 502.9h0M764.7 487.4h0M842.4 423.5h0M685.2 541.6h0M847.2 418.8h0M634.7 504.5h0M742.2 428.5h0M826.7 421.3h0M823.6 506.4h0M638.8 503.3h0M847.4 416.8h0M787.3 498.8h0M845.5 424.5h0M727.0 523.8h0M643.2 502.6h0M634.3 543.9h0M830.6 409.6h0M846.0 409.7h0M634.2 523.1h0M800.5 496.1h0M824.9 495.3h0M714.1 542.1h0M744.6 412.4h0M634.1 517.4h0M671.6 483.6h0M718.2 445.5h0M679.8 539.6h0M838.9 417.1h0M841.0 443.9h0M826.7 465.6h0M832.6 445.1h0M666.5 496.4h0M680.2 479.6h0M634.9 508.1h0M635.6 500.1h0M799.2 487.4h0M646.0 492.8h0M635.8 523.1h0M635.9 521.6h0M847.3 414.2h0M679.6 475.0h0M845.6 440.2h0M766.1 508.4h0M846.7 412.9h0M645.6 505.3h0M822.4 458.9h0M819.4 447.3h0M809.5 450.5h0M839.1 448.8h0M847.5 440.3h0M811.8 476.0h0M797.9 521.9h0M759.4 498.6h0M826.1 413.3h0M805.4 464.6h0M846.3 426.4h0M683.5 494.6h0M758.3 503.4h0M847.9 425.9h0M785.0 497.0h0M712.1 532.4h0M756.2 506.4h0M664.6 481.4h0M829.8 434.2h0M838.2 461.1h0M684.6 461.8h0M765.3 487.7h0M844.6 461.9h0M635.1 504.9h0M634.1 543.2h0M847.5 421.1h0M696.7 466.4h0M635.0 520.0h0M845.2 426.6h0M813.3 416.2h0M823.2 459.4h0M846.1 416.4h0M847.9 421.6h0M700.3 436.7h0M841.5 450.7h0M840.1 448.9h0M840.4 451.8h0M808.4 467.7h0M799.7 514.2h0M847.3 421.5h0M845.8 424.5h0M707.3 453.8h0M728.8 503.7h0M824.7 460.4h0M832.3 455.8h0M698.5 544.0h0M765.2 514.8h0M640.1 497.7h0M847.8 457.5h0M795.4 479.5h0M846.6 420.3h0M692.5 531.3h0M635.0 511.6h0M845.1 419.2h0M729.5 513.3h0M817.5 417.9h0M634.5 543.1h0M653.0 492.8h0M669.9 542.3h0M846.6 476.9h0M834.5 410.6h0M771.0 492.2h0M847.3 421.7h0M668.8 541.7h0M770.0 495.3h0M845.9 455.8h0M635.8 528.8h0M846.7 428.6h0M824.1 428.6h0M636.2 541.0h0M666.8 468.1h0M845.8 439.1h0M841.5 429.6h0M790.7 485.5h0M659.1 481.8h0M778.4 483.9h0M823.7 438.1h0M830.6 453.9h0M670.4 476.7h0M671.6 488.0h0M748.8 500.3h0M692.3 532.7h0M826.8 446.6h0M634.4 508.3h0M663.4 488.6h0M847.8 460.5h0M846.2 436.1h0M845.5 428.9h0M810.2 476.4h0M793.9 480.4h0M846.3 472.0h0M847.8 438.7h0M685.3 493.9h0M649.0 498.6h0M719.7 517.7h0M847.0 421.0h0M702.1 452.3h0M828.1 439.1h0M847.9 415.5h0M845.2 431.1h0M845.1 409.8h0M772.6 488.0h0M846.1 417.1h0M655.8 481.1h0M680.4 463.0h0M830.8 442.2h0M771.6 492.9h0M709.2 519.8h0M664.0 485.4h0M634.6 512.2h0M835.8 439.5h0M819.6 463.1h0M846.3 415.1h0M793.6 479.8h0M802.4 476.7h0M636.9 543.3h0M846.5 445.6h0M634.7 493.4h0M688.5 532.3h0M808.1 411.5h0M835.7 446.5h0M806.3 465.5h0M823.0 445.5h0M636.7 543.8h0M762.5 503.2h0M742.4 526.4h0M769.6 493.6h0M833.1 432.7h0M847.7 433.9h0M634.3 486.3h0M846.4 415.4h0M722.9 442.0h0M847.5 414.3h0M807.9 418.0h0M845.8 439.1h0M634.6 542.8h0M847.2 472.2h0M635.6 475.6h0M634.8 532.1h0M845.8 440.5h0M846.1 424.1h0M847.6 433.9h0M634.6 520.0h0M635.1 543.6h0M686.3 534.5h0M758.5 543.7h0M636.8 495.3h0M847.0 430.7h0M723.1 524.2h0M832.4 410.3h0M634.3 544.0h0M792.5 467.0h0M636.2 530.8h0M807.0 474.8h0M847.4 423.6h0M846.6 430.8h0M770.7 505.9h0M674.0 479.4h0M704.3 542.9h0M634.1 543.5h0M768.6 481.6h0M669.2 474.3h0M809.0 456.8h0M846.0 434.7h0M715.5 536.1h0M756.8 419.8h0M846.9 467.4h0M846.9 456.9h0M672.5 543.6h0M690.0 458.3h0M831.0 441.2h0M636.9 498.0h0M822.8 410.3h0M792.0 470.1h0M655.0 486.2h0M757.0 509.5h0M842.4 424.5h0M687.2 541.3h0M707.4 543.9h0M661.9 503.6h0M636.6 541.2h0M744.2 423.3h0M736.0 509.7h0M847.7 428.6h0M711.1 513.3h0M812.3 450.3h0M820.2 424.8h0M771.6 417.1h0M846.7 440.6h0M833.9 446.0h0M846.4 435.2h0M643.8 511.4h0M744.7 507.9h0M720.3 433.7h0M834.6 456.0h0M672.4 475.5h0M792.1 485.3h0M845.3 424.0h0M695.9 472.6h0M635.7 530.5h0M636.8 525.1h0M790.8 475.3h0M751.7 519.7h0M823.3 412.3h0M832.0 412.3h0M683.3 459.5h0M792.1 410.4h0M796.5 516.3h0M673.2 506.3h0M671.8 495.2h0M779.8 485.0h0M781.3 481.2h0M846.8 442.2h0M848.0 433.0h0M845.2 413.9h0M635.6 499.6h0M797.8 491.0h0M727.7 440.0h0M824.9 457.7h0M846.8 414.6h0M682.3 542.6h0M689.7 531.1h0M764.5 503.2h0M722.2 435.8h0M827.3 451.8h0M734.5 423.6h0M685.7 463.5h0M846.9 417.3h0M828.8 487.5h0M636.7 521.3h0M725.6 512.1h0M636.8 531.1h0M712.9 449.4h0M653.5 492.0h0M680.9 542.4h0M652.0 503.8h0M813.9 458.4h0M810.5 459.6h0M686.6 540.5h0M789.4 476.2h0M640.5 492.0h0M847.1 420.8h0M641.9 501.6h0M847.5 453.4h0M640.5 503.4h0M792.0 416.3h0M835.3 457.4h0M846.5 469.0h0M744.6 510.9h0M845.9 436.4h0M639.5 479.2h0M720.3 428.3h0M635.4 517.7h0M660.0 487.2h0M641.9 473.0h0M846.8 409.8h0M845.8 459.9h0M634.0 518.2h0M825.7 443.5h0M846.3 504.1h0M816.7 453.2h0M749.8 512.8h0M806.3 451.7h0M730.4 435.2h0M634.2 542.0h0M635.5 524.9h0M737.3 505.9h0M636.9 505.0h0M847.5 417.8h0M637.6 517.1h0M660.7 494.3h0M665.9 480.7h0M830.4 456.9h0M681.4 479.6h0M845.9 437.6h0M636.1 542.9h0M656.1 484.9h0M815.6 472.9h0M721.8 517.7h0M698.1 453.3h0M636.3 532.5h0M671.6 509.9h0M703.2 522.2h0M635.5 518.9h0M634.6 525.7h0M847.9 413.6h0M834.6 455.1h0M828.3 414.2h0M640.7 541.9h0M721.7 510.4h0M687.5 469.1h0M636.7 528.0h0M760.8 541.1h0M671.4 541.4h0M828.9 425.2h0M772.1 486.7h0M706.3 525.3h0M729.2 510.4h0M708.3 518.4h0M722.7 532.1h0M834.5 432.6h0M634.1 542.8h0M668.3 523.7h0M799.9 471.8h0M819.1 429.4h0M634.2 541.7h0M634.9 483.6h0M636.5 541.9h0M759.3 508.5h0M636.5 513.0h0M724.4 436.9h0M634.7 541.6h0M819.9 456.2h0M811.9 450.7h0M637.0 482.1h0M634.6 543.6h0M826.8 434.5h0M810.5 447.9h0M689.0 532.5h0M636.0 528.7h0M812.7 463.1h0M648.7 503.2h0M728.5 497.2h0M768.8 509.8h0M815.3 431.9h0M635.4 542.9h0M635.7 537.2h0M833.4 431.5h0M780.5 477.3h0M845.2 426.0h0M811.0 460.0h0M847.2 414.3h0" stroke="#24a949" stroke-width="3.8" stroke-linecap="round" fill="none"/>
<path d="M646.8 483.2h0M818.1 473.3h0M718.9 505.4h0M752.9 496.8h0M635.2 541.7h0M841.1 441.9h0M847.8 475.5h0M670.4 505.9h0M634.5 518.0h0M722.1 510.5h0M634.2 541.7h0M846.9 415.6h0M734.5 511.2h0M827.0 458.7h0M636.7 541.7h0M644.2 524.6h0M689.5 522.9h0M837.2 432.5h0M825.7 416.3h0M635.5 516.1h0M639.0 521.9h0M637.1 515.9h0M821.3 449.9h0M728.4 523.3h0M715.1 527.1h0M807.8 458.2h0M832.9 437.9h0M636.2 511.6h0M808.7 412.8h0M735.4 511.1h0M634.5 530.6h0M821.5 479.0h0M757.7 418.5h0M789.1 492.5h0M672.3 478.2h0M810.0 450.4h0M730.8 520.5h0M845.4 454.8h0M845.6 410.7h0M845.0 412.7h0M846.5 446.1h0M634.3 543.1h0M668.1 494.7h0M634.8 541.5h0M846.7 450.1h0M845.8 454.1h0M800.5 469.5h0M845.8 424.5h0M846.0 410.2h0M838.2 442.1h0M763.2 420.3h0M700.1 523.1h0M677.3 485.9h0M701.4 525.5h0M696.2 537.3h0M778.4 489.6h0M845.7 411.2h0M671.9 502.9h0M765.0 504.6h0M834.3 441.0h0M837.3 473.6h0M798.2 468.6h0M847.2 453.0h0M824.8 430.7h0M797.8 482.0h0M635.9 541.0h0M835.3 426.9h0M771.1 409.6h0M845.8 420.7h0M793.9 466.3h0M822.1 417.3h0M635.8 500.7h0M789.9 481.9h0M847.8 417.6h0M798.7 466.8h0M817.6 489.7h0M650.5 512.9h0M635.4 530.0h0M648.5 506.2h0M698.5 498.8h0M846.3 440.2h0M812.7 442.9h0M699.7 532.2h0M638.9 507.2h0M661.8 543.6h0M708.4 536.0h0M846.2 462.1h0M689.6 543.8h0M740.9 512.6h0M680.8 508.7h0M749.9 493.0h0M801.3 480.2h0M737.7 516.9h0M670.2 500.9h0M806.2 416.1h0M667.7 469.0h0M634.2 543.7h0M765.4 502.8h0M832.8 409.5h0M846.4 499.9h0M836.0 419.4h0M636.1 514.2h0M636.5 507.7h0M655.3 505.6h0M839.9 434.5h0M634.9 511.7h0M823.6 464.7h0M845.5 423.9h0M801.0 474.9h0M816.1 454.0h0M820.5 443.7h0M841.0 466.4h0M635.7 542.9h0M797.0 473.2h0M769.0 420.4h0M702.9 531.7h0M636.4 542.7h0M698.4 534.6h0M847.0 431.0h0M676.3 485.6h0M803.5 478.6h0M810.5 461.9h0M636.8 541.2h0M643.4 497.8h0M675.8 514.9h0M670.8 491.9h0M635.4 504.4h0M635.5 543.5h0M763.7 488.6h0M826.1 455.5h0M783.5 479.1h0M710.8 532.9h0M846.6 493.7h0M812.6 457.9h0M740.5 508.4h0M843.6 431.2h0M660.1 505.7h0M686.5 508.8h0M845.8 423.4h0M757.3 424.0h0M711.9 520.4h0M845.2 422.8h0M847.4 421.0h0M692.7 467.4h0M635.8 542.7h0M665.2 508.5h0M847.6 412.7h0M805.7 471.9h0M638.9 504.0h0M731.1 497.3h0M663.7 496.4h0M635.5 543.8h0M835.0 443.4h0M819.9 448.8h0M635.9 491.2h0M634.4 520.9h0M637.0 543.3h0M805.7 487.8h0M705.4 462.6h0M636.1 541.7h0M734.2 541.5h0M847.0 432.2h0M751.0 499.4h0M644.3 530.5h0M845.6 412.7h0M683.5 473.4h0M703.2 523.6h0M636.0 542.7h0M689.5 458.4h0M822.2 435.7h0M825.8 441.6h0M635.5 498.0h0M636.5 532.4h0M841.7 470.0h0M679.4 490.8h0M635.7 543.4h0M804.4 469.8h0M683.8 542.8h0M820.7 421.2h0M662.6 502.9h0M742.0 497.8h0M698.2 525.5h0M755.9 489.5h0M847.6 415.3h0M759.4 517.6h0M636.1 542.6h0M635.7 537.6h0M845.7 428.9h0M680.8 535.5h0M799.7 460.6h0M817.2 467.9h0M832.3 415.4h0M717.9 534.5h0M708.2 459.8h0M845.7 431.7h0M685.1 500.3h0M793.7 411.8h0M635.3 494.1h0M845.7 418.0h0M845.4 411.4h0M709.2 443.9h0M814.5 456.9h0M840.4 427.8h0M847.9 423.2h0M755.4 488.4h0M636.0 543.0h0M715.6 514.3h0M719.5 511.7h0M634.2 532.5h0M822.9 448.4h0M651.2 509.4h0M672.7 540.8h0M636.1 533.5h0M696.0 541.4h0M690.5 536.5h0M767.3 481.3h0M836.2 429.8h0M791.3 470.9h0M845.0 432.0h0M794.8 411.9h0M832.6 416.1h0M687.3 543.2h0M680.8 543.5h0M800.6 463.7h0M669.8 504.9h0M635.9 513.9h0M810.0 469.0h0M675.2 513.2h0M781.7 473.9h0M833.4 451.6h0M698.0 527.2h0M808.4 456.0h0M846.7 456.8h0M654.5 542.1h0M747.3 504.7h0M655.8 498.9h0M845.5 517.7h0M753.1 421.7h0M777.8 473.2h0M821.0 438.2h0M770.4 492.8h0M634.7 518.9h0M682.0 469.7h0M820.0 440.3h0M646.2 540.7h0M721.8 512.2h0M711.9 455.2h0M835.4 410.1h0M692.4 523.3h0M653.8 542.6h0M819.0 465.0h0M776.3 492.0h0M706.9 537.4h0M845.5 432.5h0M635.4 542.1h0M647.8 502.6h0M720.2 515.4h0M635.9 542.6h0M667.1 543.3h0M681.8 498.9h0M803.4 468.3h0M636.1 541.3h0M839.6 426.5h0M672.4 488.7h0M829.0 437.3h0M639.4 515.1h0M634.6 532.6h0M673.5 498.0h0M845.9 409.8h0M847.0 427.9h0M845.3 412.2h0M704.8 524.4h0M845.5 419.6h0M673.7 542.4h0M809.5 453.2h0M749.7 521.3h0M705.2 516.2h0M804.1 482.9h0M835.7 410.0h0M711.4 517.3h0M683.2 538.0h0M691.6 472.5h0M762.5 498.5h0M745.8 509.1h0M636.1 538.3h0M833.6 419.4h0M675.9 541.1h0M842.6 416.7h0M650.4 504.6h0M846.1 410.1h0M645.1 517.9h0M771.5 498.5h0M637.0 523.8h0M634.5 519.7h0M696.0 543.3h0M722.0 525.7h0M815.2 445.7h0M845.5 410.2h0M847.2 413.3h0M747.5 498.2h0M712.9 529.3h0M690.3 535.1h0M825.3 416.5h0M727.1 508.1h0M846.1 432.8h0M826.0 433.3h0M636.0 518.4h0M845.6 420.5h0M846.9 451.7h0M839.8 448.8h0M813.3 433.8h0M706.2 457.9h0M750.7 510.6h0M646.0 493.5h0M653.4 460.7h0M745.9 503.2h0M811.5 409.4h0M810.5 462.0h0M634.6 543.2h0M647.6 428.9h0M733.1 513.8h0M818.9 480.7h0M634.9 542.8h0M704.0 469.8h0M719.9 513.4h0M847.3 417.1h0M845.9 429.4h0M725.7 430.8h0M699.2 531.4h0M837.1 451.8h0M829.2 432.9h0M847.2 429.5h0M845.9 418.2h0M688.1 475.4h0M790.9 409.1h0M844.8 420.3h0M680.1 485.2h0M662.0 517.3h0M846.9 426.9h0M674.4 542.3h0M634.5 511.6h0M762.8 489.6h0M822.8 447.3h0M803.7 467.9h0M788.4 470.9h0M678.9 510.6h0M637.0 468.0h0M692.1 527.1h0M693.8 535.3h0M815.1 469.9h0M846.9 421.2h0M738.1 505.1h0M845.1 426.6h0M752.3 518.4h0M698.2 472.5h0M847.8 419.3h0M635.3 543.5h0M751.1 517.1h0M672.1 473.7h0M845.2 418.7h0M678.1 543.6h0M745.1 497.6h0M710.9 461.4h0M816.1 440.2h0M759.2 495.4h0M804.6 459.4h0M635.8 532.5h0M807.2 440.6h0M775.5 483.0h0M846.8 431.5h0M751.3 426.5h0M820.0 442.5h0M831.7 415.2h0M729.3 439.2h0M829.1 427.9h0M680.1 463.1h0M846.1 481.9h0M800.0 456.8h0M646.3 540.7h0M635.3 512.9h0M668.0 510.8h0M845.4 448.7h0M670.4 491.1h0M846.3 455.4h0M636.2 541.9h0M636.2 542.8h0M667.2 496.6h0M742.2 436.0h0M678.6 534.3h0M721.5 498.5h0M699.2 542.2h0M634.4 541.1h0M731.6 529.2h0M657.6 513.2h0M634.7 527.1h0M827.9 444.4h0M660.5 499.2h0M815.2 442.9h0M813.7 428.8h0M636.4 541.0h0M636.2 530.4h0M799.6 454.1h0M729.3 503.5h0M636.8 541.8h0M635.3 522.5h0M829.9 432.7h0M636.7 540.4h0M636.1 503.0h0M784.1 475.4h0M840.2 424.3h0M741.2 526.8h0M735.0 508.8h0M846.6 421.2h0M636.2 543.7h0M828.1 414.8h0M792.6 493.2h0M776.6 475.7h0M845.4 445.3h0M634.2 542.1h0M711.3 520.3h0M803.3 513.7h0M846.4 415.8h0M817.2 420.9h0M634.4 539.1h0M687.2 492.0h0M691.5 469.6h0M634.8 527.1h0M751.2 420.3h0M730.5 437.9h0M847.1 415.3h0M832.4 412.0h0M784.1 492.1h0M842.1 452.0h0M833.5 458.2h0M670.1 502.9h0M797.9 470.1h0M756.0 494.4h0M682.3 531.8h0M669.5 495.8h0M814.2 467.1h0M811.9 442.4h0M654.3 541.6h0M796.7 473.0h0M638.7 530.0h0M833.7 425.5h0M821.5 426.3h0M634.0 542.1h0M636.6 520.4h0M658.0 540.1h0M634.1 541.0h0M822.3 417.5h0M718.9 519.1h0M717.0 501.3h0M713.5 511.8h0M788.8 469.8h0M799.5 459.7h0M634.8 518.3h0M846.4 423.4h0M845.1 414.4h0M832.4 412.7h0M702.3 528.2h0M845.7 426.9h0M747.3 517.1h0M635.9 534.4h0M840.5 417.8h0M634.2 543.5h0M634.8 510.8h0M635.8 513.7h0M799.4 458.6h0M828.3 415.9h0M719.4 511.3h0M673.6 504.7h0M695.1 505.2h0M691.8 533.4h0M643.9 503.2h0M686.8 457.9h0M827.5 409.4h0M635.1 542.9h0M847.5 424.2h0M634.2 541.5h0M635.8 534.5h0M677.3 543.8h0M820.8 441.8h0M697.0 542.5h0M715.3 514.2h0M810.1 451.3h0M780.2 487.0h0M800.9 457.0h0M657.2 489.7h0M636.4 529.4h0M634.4 529.1h0M639.0 528.7h0M795.1 462.3h0M775.0 508.3h0M636.0 524.2h0M637.1 523.3h0M825.7 440.7h0M705.4 540.3h0M652.3 542.6h0M658.0 497.0h0M845.0 420.6h0M759.7 423.9h0M680.5 536.0h0M669.9 543.3h0M636.2 543.6h0M846.3 414.9h0M671.8 481.8h0M635.0 539.2h0M817.2 474.1h0M691.3 477.7h0M696.3 470.9h0M639.8 525.0h0M774.3 504.3h0M663.0 495.8h0M824.3 423.2h0M634.6 541.1h0M636.0 543.6h0M635.6 541.9h0M810.9 432.6h0M662.8 522.7h0M684.4 541.1h0M846.3 445.2h0M785.3 415.6h0M634.1 542.0h0M767.0 479.2h0M807.2 463.4h0M658.6 478.1h0M634.5 538.1h0M634.6 543.4h0M744.7 507.7h0M829.2 450.1h0M656.3 543.4h0M664.3 503.1h0M634.3 542.4h0M684.6 496.9h0M666.5 507.6h0M672.4 488.4h0M695.2 524.5h0M696.9 455.0h0M708.4 517.5h0M749.6 498.6h0M701.1 527.4h0M828.9 437.4h0M722.2 504.2h0M757.1 502.9h0M809.3 433.1h0M635.9 531.5h0M661.5 498.2h0M777.8 478.7h0M756.8 503.3h0M634.5 543.4h0M634.3 543.3h0M811.3 422.3h0M824.7 434.1h0M845.2 409.6h0M686.0 476.8h0M725.4 505.2h0M817.3 436.3h0M839.0 436.0h0M659.4 485.8h0M634.4 541.2h0M839.5 421.0h0M634.3 527.8h0M770.2 499.2h0M707.5 509.0h0M806.8 420.5h0M712.7 536.4h0M678.3 533.7h0" stroke="#25aa49" stroke-width="3.8" stroke-linecap="round" fill="none"/>
<path d="M694.6 466.4h0M846.9 411.8h0M700.1 467.8h0M663.4 541.6h0M634.9 539.4h0M754.1 500.5h0M653.6 511.9h0M676.6 541.7h0M828.9 438.9h0M811.1 422.8h0M728.6 512.8h0M634.1 542.0h0M666.8 511.7h0M847.6 423.8h0M846.5 418.7h0M712.0 542.1h0M635.7 508.8h0M797.5 475.9h0M726.4 515.7h0M814.4 487.4h0M639.5 511.8h0M634.7 542.0h0M674.8 540.6h0M797.5 418.2h0M845.3 434.7h0M812.8 464.1h0M819.0 480.4h0M713.1 507.8h0M834.8 450.7h0M830.1 415.3h0M778.8 474.4h0M779.9 477.3h0M660.6 506.9h0M684.8 495.1h0M681.3 487.0h0M845.4 449.4h0M688.1 471.0h0M636.1 521.2h0M799.4 460.8h0M686.4 504.8h0M706.4 510.5h0M657.5 504.2h0M845.8 412.2h0M636.6 542.1h0M824.4 444.8h0M801.2 456.5h0M635.1 522.2h0M726.1 521.1h0M818.0 451.3h0M634.8 543.6h0M635.2 540.1h0M847.7 423.6h0M694.3 513.2h0M847.1 446.7h0M823.8 431.2h0M658.2 522.4h0M846.0 423.0h0M818.7 464.3h0M654.7 494.2h0M846.3 423.7h0M844.9 433.8h0M707.4 502.1h0M783.6 482.2h0M701.1 501.3h0M847.7 418.9h0M787.2 478.2h0M842.6 419.8h0M657.6 517.8h0M663.2 514.7h0M636.8 541.1h0M799.6 421.8h0M650.4 498.7h0M832.5 432.6h0M668.5 484.8h0M813.8 453.9h0M819.8 410.4h0M827.4 451.3h0M634.6 542.1h0M678.7 493.1h0M819.0 451.2h0M635.8 451.1h0M800.8 410.2h0M795.3 485.9h0M744.2 495.8h0M694.9 475.4h0M787.4 468.8h0M823.1 454.1h0M703.1 460.4h0M634.5 541.5h0M634.2 542.2h0M807.2 465.3h0M798.7 466.6h0M640.4 529.3h0M635.2 541.9h0M650.8 508.9h0M776.6 473.1h0M804.1 446.3h0M759.9 511.7h0M636.4 541.5h0M819.1 411.5h0M685.1 477.2h0M738.3 436.0h0M812.7 429.2h0M635.8 542.8h0M843.8 429.8h0M719.0 518.2h0M813.0 467.3h0M689.4 516.8h0M778.4 418.0h0M699.0 523.9h0M689.1 533.7h0M634.3 543.8h0M791.8 417.1h0M664.1 508.4h0M739.1 511.5h0M847.8 435.5h0M845.1 420.0h0M818.6 438.0h0M634.3 503.2h0M845.3 436.4h0M805.1 416.0h0M739.4 506.8h0M794.2 481.7h0M648.3 543.9h0M847.4 435.3h0M833.5 426.7h0M745.4 519.2h0M784.5 479.1h0M655.3 480.0h0M829.1 440.5h0M827.9 433.3h0M660.7 501.1h0M845.8 418.1h0M846.8 415.0h0M643.3 542.4h0M634.2 543.8h0M753.0 496.4h0M769.7 498.6h0M637.0 515.1h0M762.5 499.5h0M727.7 504.4h0M662.3 484.6h0M836.2 443.1h0M635.0 534.2h0M640.8 536.9h0M705.8 507.0h0M634.1 528.2h0M651.0 524.3h0M669.8 502.1h0M686.2 536.6h0M672.9 499.1h0M636.8 527.2h0M818.1 442.3h0M669.4 500.0h0M699.1 460.5h0M636.3 540.3h0M704.3 522.2h0M782.8 484.6h0M749.0 417.1h0M680.3 540.8h0M775.6 417.3h0M839.4 413.2h0M654.5 516.4h0M635.4 542.0h0M675.1 542.0h0M711.4 516.0h0M808.9 464.7h0M828.2 451.7h0M737.7 515.9h0M715.7 532.8h0M676.1 491.2h0M684.3 472.0h0M636.9 535.1h0M741.5 502.5h0M635.4 541.1h0M732.6 441.7h0M825.9 436.2h0M660.4 491.4h0M710.4 501.7h0M842.9 427.1h0M636.1 534.5h0M681.5 473.6h0M634.8 508.7h0M684.1 507.5h0M748.9 426.7h0M767.8 474.2h0M716.9 456.7h0M657.8 542.5h0M691.7 530.9h0M636.4 543.4h0M636.8 541.8h0M804.3 413.6h0M823.3 447.1h0M847.9 431.8h0M638.9 542.3h0M636.1 541.4h0M709.9 538.9h0M635.1 543.4h0M663.8 498.6h0M765.7 487.0h0M846.9 422.4h0M832.6 438.9h0M636.6 543.5h0M673.4 506.6h0M784.2 473.1h0M766.2 484.6h0M636.4 542.3h0M636.9 543.7h0M636.7 535.5h0M688.7 508.1h0M695.3 531.3h0M750.6 433.8h0M739.5 504.0h0M651.2 511.4h0M811.4 421.1h0M840.1 436.5h0M638.4 543.4h0M635.7 542.6h0M712.6 526.9h0M636.5 543.2h0M765.4 487.5h0M796.0 477.5h0M787.3 474.8h0M661.8 539.4h0M721.2 536.0h0M823.1 469.3h0M809.1 447.8h0M803.8 455.9h0M656.5 543.9h0M715.8 451.8h0M702.7 515.3h0M641.4 513.5h0M634.6 541.6h0M722.4 502.8h0M652.7 514.1h0M845.9 423.4h0M635.8 542.7h0M669.5 502.0h0M686.1 528.6h0M814.9 426.8h0M846.5 418.0h0M634.5 513.2h0M683.5 476.7h0M636.8 538.2h0M845.4 426.9h0M636.1 541.7h0M689.9 534.0h0M650.4 515.0h0M634.1 542.5h0M828.5 434.1h0M674.0 509.5h0M771.0 498.2h0M636.9 526.0h0M845.9 427.8h0M823.2 439.2h0M769.2 490.5h0M681.3 489.1h0M742.6 430.4h0M635.8 536.5h0M800.9 482.2h0M704.1 499.4h0M847.2 410.2h0M635.7 526.6h0M635.5 541.1h0M846.8 411.8h0M798.7 464.5h0M679.9 519.1h0M637.8 539.1h0M635.4 542.9h0M847.1 427.8h0M808.3 463.3h0M659.5 509.0h0M639.8 523.6h0M634.3 524.8h0M842.4 425.1h0M846.4 419.5h0M748.8 497.9h0M634.4 541.3h0M836.4 411.2h0M680.4 481.8h0M708.3 456.1h0M746.6 499.8h0M758.0 484.2h0M699.1 542.5h0M635.7 542.5h0M771.9 493.9h0M636.3 542.2h0M828.1 437.0h0M805.7 463.8h0M635.1 543.6h0M846.9 464.0h0M635.4 530.6h0M754.4 491.6h0M636.6 542.9h0M846.8 430.3h0M643.3 527.7h0M682.3 479.4h0M817.8 467.2h0M808.7 419.3h0M847.6 425.1h0M674.7 542.1h0M785.9 472.8h0M811.9 442.8h0M676.8 491.4h0M636.8 541.6h0M638.2 524.9h0M792.5 409.1h0M656.8 541.6h0M636.3 543.5h0M846.1 421.9h0M811.8 457.5h0M683.0 507.0h0M818.4 451.5h0M735.1 440.1h0M846.2 425.0h0M635.1 531.1h0M673.8 543.5h0M639.4 533.6h0M634.2 531.0h0M676.4 532.7h0M636.7 542.7h0M828.4 425.0h0M784.6 465.8h0M674.1 507.2h0M650.2 520.5h0M679.5 512.2h0M839.5 427.3h0M744.3 511.4h0M701.5 512.9h0M635.9 522.7h0M798.4 475.0h0M691.6 521.6h0M821.6 443.4h0M837.5 410.4h0M681.5 497.6h0M701.2 517.9h0M843.2 431.2h0M846.2 419.1h0M735.2 425.6h0M842.5 412.2h0M636.5 506.7h0M640.2 539.6h0M682.7 543.0h0M762.4 424.8h0M635.8 535.3h0M634.4 541.7h0M743.8 500.0h0M662.9 539.7h0M811.8 445.4h0M646.1 521.8h0M636.0 541.4h0M810.6 418.0h0M664.8 520.7h0M845.4 423.6h0M829.5 448.2h0M776.6 494.5h0M636.0 541.8h0M759.6 482.8h0M813.2 418.1h0M677.9 534.3h0M818.7 432.1h0M650.4 505.9h0M846.8 410.9h0M695.8 518.3h0M699.1 528.7h0M846.5 428.4h0M722.0 512.5h0M815.4 435.2h0M636.0 541.8h0M682.9 503.0h0M838.9 425.2h0M841.4 429.2h0M645.9 509.4h0M645.1 542.7h0M808.1 440.6h0M707.0 503.7h0M663.2 512.0h0M694.4 509.4h0M636.5 542.5h0M781.9 473.2h0M685.0 530.0h0M809.7 439.5h0M793.4 470.9h0M635.9 531.4h0M691.2 503.7h0M735.8 440.4h0M763.8 489.4h0M720.0 447.6h0M704.4 521.1h0M712.3 515.5h0M636.9 541.6h0M761.3 500.7h0M807.0 473.3h0M842.6 425.8h0M691.5 477.8h0M658.1 543.4h0M809.8 456.9h0M828.9 422.8h0M847.9 439.4h0M676.5 542.0h0M810.2 435.7h0M663.5 510.1h0M636.7 535.1h0M756.4 496.3h0M833.4 420.6h0M695.0 512.8h0M656.9 543.7h0M736.0 506.6h0M704.1 542.7h0M676.1 506.3h0M846.6 419.9h0M636.0 543.5h0M825.7 444.4h0M674.1 505.7h0M636.6 541.8h0M635.8 541.6h0M702.0 519.7h0M648.7 542.3h0M667.3 494.0h0M817.2 442.2h0M775.3 479.2h0M635.4 543.0h0M814.6 425.6h0M746.7 432.7h0M646.0 518.5h0M635.8 541.9h0M832.6 431.3h0M699.5 522.0h0M819.5 414.7h0M634.2 541.3h0M641.3 508.6h0M764.5 486.3h0M821.3 436.1h0M669.9 481.5h0M719.6 513.8h0M813.5 433.0h0M683.8 536.8h0M634.6 530.7h0M735.5 426.4h0M769.4 472.3h0M634.1 518.1h0M742.2 435.4h0M634.6 532.7h0M637.5 538.3h0M654.4 513.4h0M672.0 500.8h0M635.3 537.5h0M684.3 533.5h0M634.7 521.2h0M797.0 469.9h0M637.0 543.5h0M827.8 411.2h0M670.8 508.1h0M634.9 541.2h0M675.2 503.2h0M641.8 541.7h0M770.7 476.2h0M755.8 485.1h0M678.9 498.7h0M792.0 469.2h0M667.7 503.0h0M678.9 486.9h0M669.0 510.3h0M839.6 415.1h0M830.2 428.0h0M736.4 498.0h0M641.8 529.6h0M846.0 444.1h0M718.2 456.0h0M821.9 429.0h0M691.8 533.6h0M643.4 515.1h0M830.6 426.2h0M636.0 531.0h0M634.0 531.8h0M762.7 485.3h0M792.9 471.0h0M638.0 534.0h0M769.9 480.6h0M787.6 490.4h0M846.9 424.1h0M835.4 421.5h0M721.4 507.6h0M737.9 438.6h0M769.9 493.1h0M817.1 427.5h0M636.6 543.0h0M644.7 535.2h0M646.2 539.6h0M634.9 543.0h0M696.3 533.3h0M678.6 489.2h0M635.4 532.2h0M703.5 518.2h0M745.9 420.6h0M675.5 541.0h0M675.5 458.3h0M794.9 458.4h0M834.7 463.2h0M805.2 440.4h0M664.7 500.1h0M685.6 525.8h0M711.4 462.1h0M719.5 513.9h0M662.6 543.9h0M844.3 425.1h0M676.8 498.7h0M634.9 542.6h0M729.1 507.2h0M635.1 521.2h0M695.0 506.1h0M685.1 474.2h0M781.5 494.2h0M845.8 430.5h0M845.7 412.7h0M641.6 543.9h0M636.3 543.7h0M796.8 459.4h0M785.9 412.8h0M848.0 420.8h0M794.6 479.7h0M783.0 472.9h0M811.1 424.1h0M784.1 472.7h0M683.6 495.8h0M649.3 543.8h0M644.9 542.3h0M675.8 481.7h0M847.7 411.6h0M634.1 543.0h0M818.0 443.0h0M806.3 455.4h0M757.4 503.7h0M758.9 489.6h0M713.7 518.7h0M636.2 540.6h0M750.0 418.8h0M734.3 508.1h0M815.4 439.2h0M823.8 458.5h0M675.0 494.5h0M738.3 504.4h0M652.3 517.9h0M634.8 543.1h0M650.6 543.5h0M783.7 476.6h0M668.3 518.9h0M636.9 538.1h0M741.8 504.1h0M847.6 438.9h0M677.0 513.9h0M796.2 414.8h0M808.2 473.2h0M806.7 453.4h0M638.8 528.9h0M752.2 488.7h0M720.8 446.2h0M643.6 513.7h0M634.5 512.6h0M679.9 541.5h0M765.3 415.2h0M846.9 432.0h0M687.3 543.3h0M636.8 543.9h0M636.5 542.2h0M783.6 480.8h0M815.9 415.6h0M843.0 425.9h0M648.7 543.0h0M809.2 437.9h0M815.6 442.3h0M834.6 451.6h0M698.5 507.1h0M692.0 477.6h0M770.0 480.8h0M653.7 509.1h0M651.5 524.7h0M684.5 508.7h0M756.5 511.5h0M715.3 506.6h0M661.3 485.0h0M636.8 541.2h0M663.4 543.2h0M845.7 415.7h0M814.6 416.7h0M681.9 488.0h0M797.6 467.4h0M634.4 538.0h0M780.9 477.8h0M826.1 419.2h0M755.2 493.9h0M829.3 440.2h0M697.0 520.1h0M635.9 530.1h0M807.9 415.7h0M739.0 504.4h0M703.5 504.2h0M676.3 509.8h0M634.3 542.3h0M846.3 412.3h0M766.6 486.8h0M636.7 539.2h0M668.4 482.2h0M684.8 543.9h0M666.1 511.8h0M638.5 534.1h0M663.4 520.3h0M684.6 532.6h0M668.5 530.5h0M635.1 541.2h0M780.8 472.3h0M803.9 477.3h0M648.2 516.5h0M636.4 543.7h0M837.9 424.5h0M641.6 524.0h0M704.9 528.4h0M638.2 505.8h0M795.7 416.8h0M743.5 490.5h0M846.6 413.0h0M755.3 503.0h0M667.2 487.6h0M641.1 528.0h0M675.2 539.8h0M844.7 412.7h0M679.0 501.8h0M721.5 502.3h0M704.6 524.4h0M686.1 518.7h0M636.1 534.2h0M634.9 543.8h0M634.5 541.9h0M636.5 542.5h0M756.6 495.5h0M830.8 437.5h0M665.9 492.2h0M689.7 484.0h0M688.0 476.8h0M825.1 433.8h0M635.1 539.1h0M803.9 455.7h0M742.8 500.8h0M696.8 529.2h0M800.7 460.1h0M742.5 435.6h0M636.9 543.8h0M826.8 433.3h0M772.3 473.6h0M847.0 442.3h0M667.2 512.7h0M636.9 541.4h0M653.2 543.7h0M782.2 491.2h0M654.8 506.5h0M661.1 543.6h0M634.4 517.5h0M674.9 488.6h0M634.6 530.2h0M839.7 415.6h0M697.9 519.6h0M690.7 473.1h0M690.2 541.9h0M635.8 540.9h0M812.3 438.9h0M655.6 539.2h0M636.3 542.4h0M714.3 526.1h0M634.9 540.8h0M837.5 427.8h0M787.0 413.8h0M817.2 447.8h0M677.9 489.6h0" stroke="#26ab48" stroke-width="3.8" stroke-linecap="round" fill="none"/>
<path d="M713.5 505.4h0M725.7 506.7h0M635.9 509.4h0M743.4 507.7h0M818.4 413.9h0M789.4 456.6h0M771.2 483.2h0M739.9 440.5h0M790.0 466.6h0M818.7 421.1h0M807.7 417.6h0M823.3 426.5h0M779.6 496.6h0M708.0 507.3h0M634.1 542.8h0M710.0 506.4h0M634.8 542.6h0M813.1 450.4h0M675.6 506.2h0M689.2 511.4h0M636.6 529.1h0M806.1 413.3h0M700.5 519.2h0M723.3 504.8h0M806.2 455.1h0M636.8 542.3h0M635.7 534.8h0M846.5 429.7h0M767.4 418.5h0M699.3 521.5h0M843.4 450.5h0M680.9 492.6h0M690.5 489.5h0M687.4 490.5h0M668.1 519.0h0M717.5 504.1h0M635.9 541.0h0M639.8 531.4h0M796.1 483.9h0M635.3 542.7h0M635.2 533.7h0M634.5 543.6h0M812.4 424.3h0M690.5 522.2h0M657.9 523.5h0M664.9 525.6h0M689.4 490.8h0M844.7 410.6h0M734.5 503.5h0M636.8 541.7h0M754.5 423.5h0M790.1 479.2h0M682.9 541.1h0M762.1 420.4h0M776.4 489.3h0M804.8 446.4h0M677.4 543.3h0M811.5 465.6h0M649.4 543.6h0M704.0 468.0h0M646.5 530.1h0M805.8 451.2h0M671.7 493.2h0M634.8 541.3h0M659.9 462.9h0M826.7 422.2h0M805.3 413.4h0M719.8 513.4h0M671.8 480.9h0M830.3 435.6h0M846.6 426.2h0M847.9 418.2h0M684.3 498.2h0M811.9 423.7h0M795.7 470.2h0M727.7 442.8h0M642.2 538.0h0M685.1 530.4h0M656.6 513.9h0M648.2 518.8h0M682.2 511.3h0M691.1 527.8h0M682.0 514.6h0M757.6 504.9h0M812.1 438.8h0M741.4 498.9h0M696.8 524.7h0M785.5 482.3h0M635.9 542.7h0M744.7 490.5h0M634.4 535.9h0M634.6 541.3h0M845.3 432.2h0M635.6 542.0h0M691.2 511.7h0M636.9 543.5h0M688.0 482.7h0M801.6 411.0h0M771.0 483.1h0M654.7 521.3h0M792.9 474.2h0M691.3 508.0h0M676.4 509.1h0M667.9 484.7h0M767.1 482.1h0M809.1 432.7h0M731.4 500.2h0M641.1 541.0h0M665.1 482.7h0M635.6 543.3h0M664.2 539.2h0M758.6 487.2h0M832.9 443.9h0M648.8 526.8h0M635.3 542.5h0M642.5 512.2h0M635.8 541.7h0M763.2 506.8h0M821.6 415.0h0M672.1 513.6h0M634.7 541.2h0M819.5 434.9h0M636.0 540.6h0M732.1 508.8h0M674.2 509.8h0M658.3 519.6h0M846.3 419.9h0M845.1 418.1h0M788.4 460.9h0M720.7 495.6h0M808.2 410.6h0M693.1 527.1h0M811.4 448.2h0M710.5 526.5h0M666.1 495.4h0M635.9 542.8h0M845.6 415.6h0M666.9 542.1h0M637.3 532.5h0M732.5 503.5h0M636.1 541.9h0M830.4 421.2h0M634.9 543.6h0M652.2 533.4h0M707.6 512.7h0M680.5 535.5h0M634.3 542.5h0M821.7 452.0h0M803.8 453.1h0M788.9 463.4h0M635.3 536.0h0M847.8 420.9h0M663.5 512.2h0M634.6 543.5h0M648.0 524.1h0M691.1 527.9h0M703.7 457.4h0M820.3 414.0h0M638.6 539.7h0M678.4 517.1h0M753.5 529.5h0M682.7 524.6h0M688.0 536.3h0M722.6 510.9h0M723.8 450.4h0M800.4 470.6h0M763.2 497.8h0M635.3 542.6h0M691.6 488.1h0M635.7 541.6h0M683.1 491.4h0M805.7 444.2h0M780.5 469.6h0M679.1 514.0h0M699.5 512.4h0M737.6 493.7h0M820.7 425.6h0M846.2 428.8h0M793.3 463.8h0M836.2 445.6h0M817.6 451.8h0M638.4 528.1h0M647.3 494.2h0M651.3 521.5h0M693.0 494.8h0M796.6 459.6h0M751.8 486.7h0M746.4 514.9h0M683.8 501.9h0M677.6 536.1h0M694.0 496.0h0M636.3 535.2h0M635.6 543.2h0M724.4 501.0h0M814.3 414.9h0M796.2 457.8h0M634.6 541.7h0M780.9 422.3h0M802.1 416.6h0M640.5 541.5h0M703.3 508.0h0M634.7 541.2h0M634.1 542.0h0M740.2 498.4h0M684.8 481.2h0M823.5 414.7h0M681.2 533.6h0M717.2 508.6h0M636.9 521.0h0M635.3 543.2h0M693.6 468.0h0M826.5 430.8h0M636.9 527.4h0M671.4 533.6h0M829.1 445.1h0M636.3 530.8h0M746.0 497.4h0M845.6 425.0h0M809.2 442.1h0M804.4 457.9h0M810.8 409.6h0M763.7 482.5h0M795.5 465.8h0M774.0 420.9h0M636.5 542.1h0M652.7 536.7h0M636.1 525.2h0M705.9 529.1h0M634.1 542.8h0M701.6 464.9h0M645.6 525.5h0M649.0 542.4h0M635.0 540.2h0M717.5 460.4h0M666.9 535.4h0M800.2 464.0h0M635.3 543.9h0M684.1 495.4h0M845.9 433.8h0M754.5 488.5h0M717.1 455.0h0M674.1 496.9h0M746.3 494.9h0M768.0 417.6h0M776.4 494.0h0M806.1 445.9h0M678.9 521.2h0M806.9 439.3h0M636.5 532.8h0M820.9 438.6h0M671.3 543.3h0M789.1 411.2h0M636.4 542.7h0M635.4 527.7h0M801.7 416.3h0M634.7 542.1h0M694.3 504.7h0M634.7 543.3h0M812.7 448.9h0M817.9 458.6h0M726.6 442.8h0M816.9 416.1h0M700.4 508.3h0M818.4 429.2h0M752.3 428.9h0M639.6 539.9h0M634.9 543.5h0M636.6 543.4h0M635.2 542.0h0M847.6 415.9h0M818.3 417.3h0M720.4 441.6h0M635.6 542.7h0M791.1 474.1h0M652.1 501.0h0M722.6 445.6h0M785.2 463.5h0M726.3 441.7h0M723.1 498.5h0M847.9 426.8h0M655.9 496.0h0M754.5 428.4h0M776.5 477.3h0M691.0 509.3h0M676.8 513.8h0M635.9 541.2h0M846.7 415.7h0M761.4 483.2h0M813.5 431.5h0M662.5 535.5h0M806.1 414.2h0M729.8 516.5h0M811.8 474.9h0M825.1 427.3h0M809.7 416.0h0M717.8 514.0h0M845.6 425.7h0M827.4 427.1h0M636.7 533.1h0M842.0 431.2h0M706.6 509.4h0M650.2 527.2h0M752.4 496.4h0M655.5 519.5h0M788.8 412.6h0M659.5 501.8h0M717.9 434.8h0M683.5 499.1h0M749.8 500.5h0M665.7 529.2h0M636.5 543.5h0M747.9 501.4h0M673.1 541.3h0M750.3 434.4h0M663.4 501.9h0M634.5 541.6h0M762.6 429.5h0M707.4 511.4h0M745.6 514.3h0M693.5 474.7h0M703.0 470.7h0M644.1 501.7h0M693.4 475.5h0M798.2 416.5h0M796.6 472.4h0M847.4 412.6h0M635.4 542.1h0M675.0 500.6h0M698.9 514.1h0M698.7 521.8h0M702.4 525.4h0M819.2 458.4h0M681.9 485.0h0M690.4 497.1h0M681.1 469.0h0M785.8 463.6h0M772.4 478.8h0M663.3 514.5h0M758.2 489.2h0M736.7 497.9h0M703.1 529.9h0M635.2 543.9h0M676.5 509.5h0M727.8 509.4h0M702.7 511.4h0M773.5 482.6h0M635.1 541.1h0M642.5 510.9h0M821.5 449.5h0M666.6 503.8h0M634.4 540.5h0M635.7 535.0h0M795.8 465.6h0M682.1 522.4h0M713.6 453.5h0M716.5 507.2h0M635.3 543.3h0M780.6 474.8h0M693.6 508.0h0M809.8 473.9h0M791.6 473.6h0M724.4 448.1h0M675.8 535.7h0M837.6 433.6h0M674.0 486.4h0M669.3 509.0h0M634.8 542.7h0M681.9 516.2h0M648.1 542.4h0M700.0 513.8h0M832.2 425.1h0M846.9 425.8h0M648.7 543.1h0M703.7 521.2h0M678.2 539.1h0M635.9 528.4h0M780.2 474.3h0M644.2 521.4h0M697.7 520.6h0M634.2 525.1h0M636.9 533.0h0M636.5 541.6h0M634.6 540.1h0M678.9 514.0h0M823.5 444.4h0M759.7 487.9h0M747.8 495.8h0M683.5 497.8h0M679.5 484.2h0M845.3 429.2h0M657.8 521.3h0M816.7 441.2h0M815.4 412.1h0M678.1 495.5h0M847.8 438.4h0M706.2 509.5h0M714.8 512.4h0M798.5 450.5h0M675.4 512.7h0M684.7 522.7h0M638.2 527.6h0M774.0 483.4h0M709.8 519.5h0M690.6 487.2h0M825.0 432.2h0M830.3 424.4h0M636.8 541.3h0M653.4 507.9h0M827.5 424.1h0M724.0 424.5h0M635.1 526.9h0M709.1 464.1h0M672.4 477.4h0M635.7 516.0h0M660.6 476.2h0M697.6 510.2h0M687.3 522.4h0M659.3 524.9h0M785.8 416.6h0M677.6 526.9h0M634.7 541.3h0M679.1 495.9h0M635.8 528.7h0M634.2 543.0h0M820.1 443.5h0M805.3 418.1h0M652.0 512.2h0M634.3 543.1h0M677.3 499.4h0M640.4 521.9h0M825.9 441.2h0M823.6 440.1h0M636.5 542.8h0M658.8 529.5h0M724.4 456.8h0M635.4 541.4h0M679.3 527.6h0M681.9 505.4h0M661.5 542.3h0M816.8 431.0h0M635.0 519.4h0M642.2 539.7h0M811.6 462.3h0M707.9 503.2h0M636.6 532.5h0M656.2 529.7h0M665.8 512.2h0M706.6 515.3h0M634.5 542.9h0M635.4 539.5h0M772.9 469.0h0M689.1 519.0h0M821.4 424.1h0M754.0 429.7h0M706.1 520.4h0M653.7 500.7h0M812.7 445.5h0M757.0 492.7h0M694.5 504.8h0M684.1 500.6h0M676.3 509.5h0M782.1 468.1h0M708.8 508.9h0M685.6 527.4h0M635.7 541.7h0M635.1 542.4h0M635.4 542.5h0M701.6 464.8h0M662.0 543.4h0M636.6 537.4h0M707.6 515.7h0M693.9 523.9h0M660.7 515.1h0M708.5 503.8h0M698.2 511.2h0M637.0 541.9h0M805.4 461.0h0M819.7 434.9h0M635.5 512.1h0M634.5 543.9h0M712.0 510.5h0M722.9 508.5h0M636.3 542.5h0M830.0 436.0h0M660.0 535.6h0M809.1 429.1h0M805.6 467.8h0M677.2 538.7h0M639.4 526.1h0M634.8 517.0h0M668.2 533.0h0M802.9 466.9h0M719.3 457.1h0M670.6 515.1h0M702.3 504.9h0M790.9 469.9h0M648.6 532.9h0M791.1 482.2h0M662.6 539.4h0M635.9 543.3h0M634.5 542.8h0M744.4 494.0h0M665.4 486.4h0M635.2 541.1h0M635.4 536.6h0M634.1 542.6h0M766.3 473.0h0M634.2 513.2h0M755.6 436.5h0M683.1 485.5h0M636.7 543.2h0M691.5 514.1h0M636.5 538.0h0M680.6 504.3h0M728.9 501.3h0M750.1 494.2h0M634.8 542.7h0M744.2 509.5h0M796.8 411.7h0M820.6 434.1h0M636.2 539.5h0M690.3 502.9h0M675.0 538.4h0M794.8 463.7h0M818.3 428.6h0M788.9 465.8h0M670.8 511.1h0M697.0 512.2h0M695.2 542.2h0M784.3 474.3h0M800.6 458.3h0M664.4 501.1h0M710.7 513.6h0M695.7 494.9h0M737.3 489.8h0M711.1 459.5h0M634.3 537.7h0M670.5 538.0h0M769.0 497.2h0M677.3 510.6h0M693.4 527.4h0M691.7 495.1h0M635.2 543.3h0M699.1 517.3h0M728.5 511.6h0M688.3 510.3h0M807.5 450.6h0M811.7 428.5h0M687.6 499.9h0M727.9 505.7h0M847.5 410.9h0M640.3 539.9h0M726.9 499.5h0M846.1 420.7h0M636.6 541.4h0M646.6 542.6h0M663.6 504.4h0M781.1 472.4h0M634.7 521.4h0M636.7 543.1h0M636.2 541.3h0M635.0 541.6h0M634.2 542.1h0M648.5 521.9h0M805.4 439.5h0M685.8 510.1h0M635.5 543.0h0M679.9 483.3h0M643.1 540.2h0M665.4 516.9h0M839.9 448.3h0M841.4 453.2h0M776.5 417.5h0M681.9 490.1h0M634.7 542.9h0M639.9 540.9h0M672.1 498.2h0M684.8 495.3h0M653.0 527.3h0M807.9 422.6h0M815.2 429.9h0M813.0 451.7h0M636.0 543.0h0M635.7 538.6h0M689.4 506.3h0M786.1 461.8h0M701.1 475.9h0M679.9 480.6h0M688.7 506.9h0M692.8 513.6h0M694.9 512.9h0M686.1 510.1h0M684.9 498.9h0M809.0 415.5h0M800.9 453.4h0M646.9 518.0h0M750.9 490.2h0M792.3 468.3h0M695.4 507.9h0M687.5 480.9h0M786.4 476.4h0M701.8 506.2h0M638.6 531.4h0M678.9 513.8h0M683.3 510.7h0M653.5 528.6h0M697.5 522.2h0M759.6 500.9h0M682.6 523.7h0M731.8 497.1h0M682.8 487.1h0M683.9 521.0h0M668.3 523.7h0M642.2 531.1h0M688.0 511.0h0M700.4 524.4h0M751.1 498.7h0M750.3 502.5h0M793.1 466.3h0M740.4 498.7h0M656.3 541.2h0M641.6 521.2h0M634.4 542.6h0M654.4 503.4h0M827.3 410.7h0M691.5 456.9h0M659.4 536.8h0M644.8 542.8h0M684.8 480.2h0M713.2 448.8h0M813.4 438.2h0M691.4 493.8h0M635.7 541.1h0M800.6 464.4h0M818.2 446.5h0M715.0 508.3h0M675.7 503.7h0M634.3 542.0h0M672.4 517.8h0M766.7 479.0h0M668.6 512.5h0M636.0 543.0h0M672.6 531.5h0M814.3 412.2h0M741.0 434.6h0M644.0 523.5h0M635.2 541.4h0M731.2 499.8h0M806.1 443.4h0M667.5 497.3h0M825.3 445.5h0M783.0 475.7h0M634.8 524.5h0M733.7 507.4h0M764.5 484.2h0M635.2 538.4h0M792.1 475.5h0M747.7 496.3h0M685.7 521.0h0M802.7 453.0h0M671.2 543.3h0M636.3 543.7h0M729.9 506.6h0M691.4 478.6h0M634.4 522.5h0M689.6 497.6h0M748.4 431.7h0M688.9 502.3h0M635.4 541.9h0M636.3 542.9h0M634.7 542.6h0M847.1 426.9h0M634.0 502.6h0M788.1 421.9h0M803.4 459.0h0M668.7 541.0h0M780.9 468.5h0M813.4 410.9h0M807.7 442.4h0M661.8 510.5h0M805.0 447.3h0M733.7 495.7h0M635.5 522.6h0M669.2 537.9h0M796.0 452.2h0M747.6 500.9h0M639.8 543.5h0M715.3 499.5h0M686.6 529.8h0M684.2 503.6h0M728.5 443.9h0M636.7 520.3h0M804.4 442.3h0M701.9 504.9h0M647.1 529.9h0M634.0 526.2h0M635.3 528.0h0M725.8 505.6h0M667.3 521.3h0M737.5 502.7h0M724.2 511.5h0M807.2 452.0h0M684.7 532.4h0M847.7 411.1h0M642.3 526.1h0M691.4 489.4h0M826.4 426.5h0M710.8 505.4h0M711.3 461.8h0M635.3 541.2h0M668.4 501.8h0M684.9 470.6h0M654.0 522.7h0M756.1 486.7h0M695.9 495.1h0M636.6 541.9h0M713.9 511.9h0M662.1 519.0h0" stroke="#28ab48" stroke-width="3.8" stroke-linecap="round" fill="none"/>
<path d="M690.1 496.2h0M637.5 543.0h0M831.8 415.7h0M692.5 508.0h0M675.3 542.2h0M635.0 542.2h0M641.0 541.4h0M813.0 422.3h0M635.4 541.3h0M782.3 471.6h0M806.7 428.3h0M708.1 539.7h0M702.8 499.5h0M808.2 451.8h0M667.1 542.5h0M730.0 439.1h0M651.6 541.8h0M692.6 455.5h0M634.2 543.4h0M847.4 430.8h0M800.2 421.7h0M636.9 542.7h0M807.8 464.0h0M635.0 539.0h0M780.3 468.8h0M771.8 475.8h0M707.4 461.7h0M773.7 493.3h0M679.5 514.8h0M827.5 416.2h0M829.5 418.4h0M769.0 480.4h0M648.1 523.2h0M668.8 508.9h0M804.3 437.1h0M635.1 541.4h0M792.8 471.0h0M710.1 464.4h0M694.2 514.5h0M636.3 541.3h0M799.1 464.9h0M787.8 471.5h0M799.8 458.3h0M692.1 532.8h0M772.5 417.5h0M645.2 541.7h0M732.3 497.1h0M671.1 500.1h0M635.1 542.0h0M696.6 519.5h0M748.3 429.5h0M636.7 542.4h0M634.7 533.8h0M788.7 420.7h0M642.4 526.2h0M819.2 444.4h0M676.0 494.1h0M634.8 541.6h0M672.5 535.9h0M795.4 452.0h0M681.1 500.3h0M636.9 543.0h0M677.3 494.0h0M700.6 521.5h0M686.4 502.7h0M665.4 503.0h0M673.5 489.3h0M747.0 439.3h0M658.1 522.7h0M712.5 502.2h0M821.7 421.4h0M648.1 526.1h0M635.7 538.0h0M663.4 525.9h0M634.8 540.4h0M636.8 526.4h0M822.4 434.0h0M846.2 415.0h0M763.3 488.4h0M662.0 507.3h0M798.1 452.2h0M713.6 504.8h0M685.5 505.2h0M735.7 497.8h0M635.3 542.9h0M716.3 505.5h0M666.4 514.0h0M642.4 537.9h0M739.6 498.9h0M636.3 544.0h0M694.5 481.5h0M841.4 419.4h0M701.6 468.9h0M749.4 492.9h0M783.4 482.8h0M744.7 493.3h0M660.0 520.1h0M681.3 492.1h0M772.0 475.7h0M734.2 501.9h0M829.2 424.3h0M691.0 492.8h0M808.6 439.1h0M846.8 423.1h0M644.0 531.6h0M645.6 521.6h0M652.2 530.2h0M667.0 510.5h0M804.8 457.3h0M643.5 543.6h0M731.5 500.6h0M661.7 519.7h0M823.1 464.8h0M815.7 433.5h0M634.8 543.8h0M792.8 467.2h0M689.0 509.2h0M845.5 419.3h0M710.1 512.3h0M804.8 418.1h0M708.5 504.8h0M660.4 524.4h0M776.6 469.6h0M688.7 480.6h0M635.6 539.3h0M635.0 539.1h0M764.2 480.1h0M635.5 534.2h0M664.4 505.3h0M635.8 543.9h0M656.9 521.6h0M773.8 474.8h0M691.0 506.3h0M826.1 439.8h0M696.2 512.5h0M812.9 452.3h0M816.7 422.8h0M694.5 498.2h0M801.0 447.0h0M674.1 517.3h0M646.3 541.2h0M695.4 482.2h0M664.7 532.9h0M840.5 409.5h0M684.3 515.1h0M818.5 445.4h0M756.2 491.8h0M794.8 418.9h0M751.7 488.0h0M757.8 429.4h0M643.6 537.1h0M637.0 540.4h0M661.6 543.5h0M659.8 508.9h0M674.4 518.5h0M634.1 541.3h0M766.3 475.0h0M814.4 445.8h0M668.0 502.9h0M665.5 514.7h0M694.3 513.4h0M733.0 505.7h0M672.2 510.6h0M676.5 521.9h0M767.5 476.2h0M645.2 543.5h0M689.6 501.2h0M634.5 542.0h0M713.5 497.2h0M845.8 416.9h0M819.8 412.1h0M810.8 423.9h0M767.5 487.3h0M660.9 522.8h0M635.9 543.6h0M680.1 511.3h0M793.5 464.4h0M727.1 508.1h0M801.0 446.1h0M656.3 539.2h0M635.6 534.8h0M672.0 532.9h0M694.0 523.8h0M655.4 541.8h0M690.6 490.5h0M804.2 460.5h0M733.2 503.0h0M635.9 541.5h0M668.6 534.6h0M635.6 540.9h0M666.1 488.6h0M635.2 537.6h0M667.3 534.2h0M697.0 526.2h0M680.6 497.4h0M655.9 493.6h0M648.1 520.2h0M792.6 454.2h0M679.4 527.9h0M719.8 512.0h0M791.3 456.4h0M742.0 505.0h0M729.9 497.7h0M791.7 418.2h0M784.3 467.2h0M817.5 440.4h0M769.9 484.0h0M645.4 537.9h0M845.4 410.1h0M716.0 506.1h0M704.4 510.0h0M737.7 498.9h0M774.8 481.9h0M695.4 493.5h0M670.2 526.0h0M846.4 454.8h0M786.6 463.7h0M815.5 422.2h0M645.2 537.1h0M636.2 543.8h0M669.4 536.4h0M777.3 471.3h0M824.6 452.1h0M796.1 421.2h0M777.8 469.4h0M686.0 514.1h0M636.6 542.0h0M821.3 421.5h0M803.5 441.8h0M648.5 530.1h0M635.9 542.2h0M635.6 526.6h0M682.4 506.3h0M643.3 543.4h0M778.0 480.2h0M635.8 544.0h0M742.6 489.8h0M636.2 534.1h0M689.6 507.4h0M698.1 515.4h0M697.4 506.1h0M679.6 527.0h0M702.9 511.2h0M651.4 537.2h0M635.2 542.1h0M752.9 484.8h0M811.3 446.5h0M634.9 542.3h0M636.9 542.5h0M663.2 535.8h0M687.8 506.4h0M636.2 541.3h0M676.4 538.2h0M756.7 490.0h0M690.2 485.9h0M818.4 428.9h0M801.7 452.1h0M635.5 542.0h0M698.6 471.9h0M797.9 465.3h0M757.7 492.4h0M641.0 541.7h0M652.7 539.4h0M681.4 527.0h0M645.5 530.6h0M780.2 465.0h0M639.5 543.3h0M670.7 515.1h0M635.1 539.3h0M804.7 417.5h0M819.5 420.0h0M654.3 543.3h0M773.0 420.9h0M697.4 509.9h0M634.6 542.9h0M812.4 423.4h0M758.1 480.8h0M681.2 506.6h0M769.3 475.5h0M785.2 422.0h0M696.6 509.4h0M808.0 440.9h0M634.0 542.9h0M781.2 473.7h0M647.2 534.3h0M745.9 494.7h0M686.9 503.8h0M658.8 518.2h0M645.0 543.8h0M741.6 500.7h0M730.6 494.0h0M695.9 502.3h0M805.7 446.1h0M656.8 538.9h0M676.1 515.8h0M690.4 503.0h0M814.2 433.3h0M800.1 459.4h0M689.2 486.4h0M654.3 542.7h0M843.6 416.2h0M775.6 478.7h0M778.5 476.7h0M636.6 534.4h0M696.0 510.3h0M637.0 543.0h0M636.5 542.9h0M814.6 420.7h0M714.2 504.2h0M654.6 540.6h0M800.0 453.3h0M794.9 455.0h0M776.6 475.7h0M636.4 542.6h0M723.8 498.3h0M636.4 542.2h0M691.6 491.3h0M817.4 439.5h0M640.0 542.5h0M647.2 534.8h0M670.8 506.6h0M770.8 474.7h0M687.5 498.8h0M799.9 456.2h0M739.3 494.9h0M640.4 541.3h0M634.5 542.8h0M699.0 498.4h0M723.5 506.8h0M726.4 493.7h0M725.6 505.7h0M636.5 542.0h0M635.4 541.0h0M707.1 463.8h0M678.2 522.0h0M822.1 412.2h0M711.1 460.6h0M833.5 410.9h0M715.1 499.4h0M807.8 443.2h0M712.6 513.0h0M679.2 487.5h0M823.4 434.2h0M734.7 502.8h0M651.9 530.6h0M847.2 424.3h0M672.4 510.0h0M634.1 543.6h0M669.4 509.7h0M637.2 512.3h0M646.4 525.2h0M636.0 542.9h0M636.3 539.4h0M636.4 536.6h0M635.7 541.1h0M839.3 430.4h0M792.0 459.6h0M636.2 542.1h0M638.4 522.7h0M695.5 529.2h0M644.5 542.4h0M689.6 543.2h0M638.4 531.8h0M815.0 432.0h0M689.9 511.0h0M844.4 420.4h0M675.6 521.2h0M665.3 500.3h0M691.9 513.9h0M663.9 508.6h0M651.7 530.9h0M747.9 500.2h0M721.8 499.5h0M649.4 541.4h0M636.2 543.0h0M651.3 535.3h0M719.5 512.3h0M666.9 504.7h0M845.1 421.0h0M685.4 514.0h0M711.3 509.9h0M685.6 516.4h0M679.3 513.1h0M805.5 439.0h0M642.2 541.2h0M822.6 415.4h0M696.5 502.0h0M793.7 467.2h0M662.5 505.3h0M635.7 542.3h0M641.5 543.6h0M738.4 443.7h0M693.3 524.3h0M690.9 519.0h0M829.0 429.2h0M696.8 480.3h0M707.0 508.3h0M814.0 434.2h0M812.7 440.6h0M634.5 528.2h0M702.5 516.1h0M692.4 520.2h0M710.9 510.6h0M773.5 484.5h0M728.5 504.7h0M667.9 520.8h0M731.3 505.4h0M634.8 541.9h0M652.5 528.3h0M657.8 542.4h0M639.8 528.4h0M800.6 457.6h0M801.3 448.8h0M643.7 524.6h0M685.5 523.5h0M657.3 527.8h0M644.4 543.4h0M674.7 497.6h0M725.2 512.8h0M635.8 543.2h0M814.6 414.8h0M728.9 513.3h0M767.3 473.0h0M716.2 510.0h0M654.0 535.5h0M683.7 511.7h0M780.0 470.5h0M711.9 517.6h0M635.5 543.7h0M746.7 492.2h0M672.5 534.2h0M694.4 469.4h0M777.2 470.0h0M636.7 541.8h0M669.5 509.7h0M671.0 540.0h0M689.4 498.8h0M665.9 543.6h0M799.3 446.4h0M652.5 521.4h0M635.6 538.1h0M715.6 460.7h0M636.2 542.5h0M673.7 508.9h0M724.7 496.9h0M693.4 474.6h0M696.6 482.7h0M691.7 502.5h0M685.6 518.9h0M685.6 541.6h0M806.6 428.6h0M757.3 426.6h0M634.1 542.6h0M635.0 527.7h0M643.4 542.4h0M748.0 495.5h0M796.6 455.7h0M780.0 469.2h0M714.8 460.3h0M686.2 512.1h0M673.5 497.7h0M643.3 527.9h0M800.7 417.9h0M694.1 520.0h0M819.8 431.6h0M658.5 544.0h0M675.2 529.2h0M641.0 543.9h0M676.2 508.0h0M744.7 492.0h0M799.4 445.6h0M646.2 502.6h0M808.6 420.8h0M636.6 542.1h0M691.3 507.4h0M680.7 483.5h0M635.8 542.6h0M636.0 526.9h0M706.8 518.2h0M649.6 531.3h0M711.5 507.0h0M703.0 499.6h0M784.8 472.9h0M648.4 542.2h0M819.5 434.3h0M698.8 506.7h0M695.7 484.4h0M827.0 427.5h0M681.5 488.4h0M698.2 514.5h0M772.0 472.7h0M635.1 533.7h0M726.6 496.4h0M818.0 418.1h0M660.1 530.2h0M636.8 543.5h0M702.2 526.0h0M648.3 530.9h0M769.0 487.6h0M661.1 520.2h0M828.6 422.3h0M635.1 530.1h0M634.8 533.0h0M636.8 533.1h0M693.2 502.2h0M723.2 500.0h0M736.6 493.4h0M634.9 542.3h0M753.1 488.5h0M637.0 542.1h0M634.2 543.6h0M666.6 502.3h0M803.4 448.2h0M648.3 522.5h0M639.4 534.4h0M687.8 506.2h0M750.8 489.9h0M636.7 541.6h0M693.9 473.0h0M672.3 537.1h0M820.6 412.9h0M685.4 509.5h0M682.3 500.7h0M816.3 430.4h0M682.2 517.7h0M677.3 517.7h0M793.4 463.5h0M799.7 461.1h0M711.3 498.1h0M810.4 419.7h0M711.2 469.1h0M821.0 448.9h0M650.6 530.1h0M787.1 464.9h0M658.4 535.0h0M714.1 514.4h0M810.9 451.5h0M655.5 520.6h0M689.6 494.5h0M724.0 504.0h0M693.2 527.9h0M693.6 512.6h0M703.4 504.1h0M765.3 424.5h0M689.5 498.1h0M734.1 495.1h0M634.4 541.6h0M736.7 443.6h0M683.9 522.7h0M734.2 490.9h0M684.7 507.2h0M701.4 514.6h0M638.1 542.4h0M694.4 524.8h0M636.0 529.3h0M666.4 540.0h0M673.7 506.4h0M634.9 543.9h0M687.8 497.8h0M677.8 543.4h0M806.8 424.4h0M682.3 500.6h0M695.4 506.4h0M695.0 505.5h0M635.7 540.9h0M679.0 494.3h0M654.5 539.2h0M780.2 476.1h0M634.7 541.3h0M665.2 520.0h0M796.9 451.9h0M794.3 455.1h0M707.3 506.1h0M804.9 461.5h0M635.0 543.7h0M644.4 541.7h0M827.0 436.1h0M704.0 503.1h0M635.8 542.3h0M635.4 541.0h0M777.6 477.7h0M664.0 525.2h0M704.6 510.5h0M676.5 518.4h0M689.6 521.2h0M684.3 519.3h0M636.8 541.1h0M695.4 514.2h0M790.9 474.5h0M636.0 537.3h0M794.3 458.2h0M634.9 543.5h0M665.7 527.4h0M676.4 535.5h0M805.2 431.3h0M793.0 453.2h0M723.6 500.3h0M647.2 542.1h0M742.9 488.2h0M795.5 454.4h0M643.8 530.0h0M650.5 535.3h0M665.9 519.3h0M695.7 509.4h0M708.8 500.3h0M729.4 507.2h0M635.7 542.7h0M808.8 417.1h0M789.3 458.0h0M750.0 485.6h0M783.2 479.9h0M690.0 483.3h0M716.4 499.9h0M638.7 540.3h0M676.0 484.7h0M670.8 489.3h0M779.1 470.2h0M729.7 497.3h0M760.6 423.2h0M668.2 513.3h0M690.3 522.4h0M660.7 538.7h0M812.8 431.2h0M636.8 540.2h0M634.3 539.9h0M701.9 504.3h0M753.5 487.5h0M636.9 516.8h0M639.4 542.3h0M759.9 479.0h0M677.0 501.7h0M661.1 521.1h0M687.0 527.0h0M671.8 530.2h0M846.9 413.9h0M786.1 475.7h0M839.0 416.5h0M635.5 542.9h0M733.9 492.5h0M687.5 511.2h0M634.5 532.7h0M804.4 442.1h0M685.0 488.5h0M676.9 505.2h0M650.7 539.8h0M636.7 541.1h0M636.5 542.5h0M687.1 495.1h0M657.6 535.7h0M791.6 475.0h0M709.0 496.5h0M666.3 522.9h0M743.7 496.4h0M636.3 541.7h0M708.1 533.1h0M821.1 427.1h0M727.4 500.0h0M662.3 538.6h0M652.4 529.0h0M635.1 542.7h0M658.0 526.1h0M676.9 518.3h0M634.0 530.5h0M695.0 468.0h0M687.6 483.5h0M634.2 541.6h0M709.1 466.0h0" stroke="#29ac47" stroke-width="3.8" stroke-linecap="round" fill="none"/>
<path d="M814.4 422.3h0M634.8 543.1h0M768.3 430.5h0M704.8 471.8h0M636.5 536.5h0M657.1 524.0h0M683.7 503.0h0M705.0 497.7h0M777.6 468.3h0M725.8 499.7h0M809.7 420.0h0M799.0 441.8h0M669.5 538.0h0M704.0 511.8h0M698.5 502.6h0M662.7 517.1h0M674.7 527.3h0M655.1 524.2h0M676.2 533.9h0M732.2 501.7h0M706.0 516.4h0M636.1 542.1h0M690.2 497.6h0M780.0 485.1h0M685.6 507.8h0M635.2 543.1h0M750.1 501.7h0M650.4 505.0h0M769.4 470.6h0M675.2 505.7h0M636.8 541.6h0M662.3 542.8h0M683.6 493.3h0M677.9 526.9h0M636.4 543.6h0M788.7 458.8h0M644.5 532.5h0M747.9 489.6h0M658.2 530.7h0M811.4 435.3h0M641.8 444.7h0M783.3 470.1h0M640.5 539.7h0M805.1 443.2h0M677.3 502.6h0M788.0 421.5h0M653.0 531.2h0M640.7 541.8h0M810.9 417.9h0M654.6 524.1h0M684.2 522.9h0M828.8 437.3h0M831.8 415.2h0M763.9 476.8h0M804.2 439.6h0M691.1 483.8h0M814.7 438.3h0M693.3 510.9h0M635.4 543.1h0M803.0 423.7h0M773.0 474.2h0M741.1 493.2h0M665.8 496.1h0M696.4 514.2h0M737.7 492.3h0M692.4 501.5h0M676.1 507.0h0M720.5 499.2h0M671.7 529.8h0M803.0 459.4h0M689.2 501.0h0M679.6 522.8h0M634.3 543.7h0M782.4 472.2h0M689.2 495.7h0M644.3 527.8h0M634.8 541.7h0M685.5 485.8h0M644.9 530.1h0M765.6 476.0h0M696.1 508.6h0M684.7 487.8h0M798.0 462.2h0M635.8 543.4h0M636.4 542.4h0M684.7 523.4h0M807.0 444.1h0M787.7 474.3h0M707.1 500.8h0M737.4 500.9h0M679.9 483.1h0M673.3 533.0h0M662.1 535.4h0M740.6 442.7h0M847.4 415.9h0M677.6 537.3h0M788.2 465.6h0M657.3 525.7h0M802.5 417.2h0M788.5 460.5h0M796.8 458.0h0M680.7 514.0h0M752.2 484.0h0M683.9 494.0h0M637.5 542.7h0M723.5 499.9h0M822.0 412.9h0M646.1 529.7h0M636.6 541.7h0M686.3 495.8h0M648.1 532.4h0M634.0 541.9h0M716.1 454.3h0M672.3 519.7h0M815.6 432.0h0M635.8 543.2h0M634.3 525.7h0M726.0 451.7h0M654.0 541.2h0M682.7 519.9h0M663.0 521.8h0M646.9 530.9h0M739.0 437.6h0M674.2 490.8h0M696.6 493.2h0M635.1 543.7h0M635.4 534.2h0M677.3 516.7h0M700.5 474.0h0M675.4 531.0h0M716.3 453.6h0M634.8 538.4h0M708.6 465.7h0M640.9 531.3h0M710.2 500.7h0M735.2 447.0h0M846.7 418.1h0M635.0 541.7h0M785.5 466.6h0M793.4 467.0h0M701.0 518.7h0M724.6 494.7h0M740.2 494.7h0M636.9 542.4h0M701.9 495.4h0M652.3 524.9h0M656.9 541.0h0M808.1 444.0h0M803.6 451.7h0M664.3 525.3h0M718.9 500.5h0M746.5 500.0h0M682.6 536.7h0M635.4 542.1h0M708.5 510.9h0M679.0 517.2h0M636.9 542.9h0M682.5 519.2h0M810.6 438.3h0M635.4 543.1h0M701.7 499.5h0M680.1 500.2h0M783.1 426.3h0M636.2 539.4h0M689.6 491.0h0M802.9 418.2h0M635.4 532.1h0M646.2 526.7h0M690.5 484.9h0M670.7 521.2h0M689.6 535.5h0M662.3 540.8h0M693.4 529.8h0M664.4 522.1h0M817.7 420.7h0M754.3 429.7h0M692.6 473.9h0M636.1 538.2h0M634.1 542.7h0M659.3 521.1h0M756.0 486.4h0M699.8 478.6h0M684.0 516.1h0M744.6 489.3h0M658.4 525.2h0M704.6 510.2h0M693.9 516.2h0M795.0 455.0h0M671.7 509.4h0M719.9 458.0h0M678.4 513.6h0M767.6 488.0h0M814.2 429.7h0M808.2 444.5h0M737.9 442.2h0M801.4 453.3h0M635.6 541.6h0M750.6 487.1h0M684.4 517.6h0M755.1 483.2h0M765.3 430.0h0M802.2 446.0h0M681.8 505.8h0M660.3 510.8h0M743.0 499.7h0M765.3 478.3h0M670.1 511.0h0M721.0 500.6h0M696.3 510.8h0M786.3 470.5h0M636.7 541.8h0M798.9 418.9h0M636.5 542.5h0M644.6 534.5h0M680.8 525.9h0M636.2 542.3h0M675.6 505.4h0M676.2 518.2h0M682.8 526.1h0M743.1 504.5h0M701.5 505.3h0M688.4 509.1h0M695.6 518.1h0M799.4 449.9h0M703.4 515.1h0M670.0 496.9h0M665.3 528.5h0M689.4 492.5h0M802.3 446.6h0M807.4 433.9h0M635.1 542.9h0M794.8 458.1h0M800.8 440.7h0M658.7 509.3h0M635.1 538.7h0M714.5 508.3h0M806.1 462.6h0M689.0 502.6h0M700.7 498.8h0M673.9 525.7h0M714.7 502.3h0M676.2 516.5h0M762.8 489.9h0M770.6 427.9h0M759.7 434.3h0M711.1 502.9h0M650.0 541.5h0M701.0 476.2h0M673.0 530.2h0M799.5 448.2h0M634.4 542.6h0M807.4 437.9h0M725.9 452.8h0M736.4 443.4h0M816.8 443.1h0M679.7 529.4h0M661.6 522.6h0M821.6 422.9h0M695.9 464.1h0M668.9 487.1h0M748.7 490.1h0M806.2 432.7h0M811.2 446.3h0M697.7 509.3h0M641.7 541.4h0M657.7 515.5h0M673.0 504.6h0M656.8 532.5h0M739.6 492.7h0M692.5 499.4h0M733.9 494.8h0M813.5 450.7h0M634.4 542.1h0M641.9 538.0h0M765.4 476.8h0M673.6 526.2h0M683.3 495.3h0M725.5 509.5h0M635.1 543.9h0M683.3 516.2h0M697.3 514.1h0M807.4 426.9h0M753.6 432.5h0M642.4 540.9h0M770.0 484.8h0M636.9 542.9h0M725.8 451.7h0M703.9 471.2h0M674.2 512.1h0M688.0 488.5h0M662.2 513.9h0M724.7 494.5h0M718.2 500.5h0M635.1 541.5h0M777.3 426.6h0M689.5 522.2h0M656.1 531.1h0M815.2 429.0h0M663.0 542.0h0M674.9 529.9h0M788.8 422.7h0M687.4 529.3h0M636.9 541.2h0M771.1 479.8h0M678.9 507.7h0M649.7 538.2h0M648.0 527.0h0M776.4 421.9h0M687.5 503.3h0M821.1 413.9h0M698.0 522.3h0M671.0 532.1h0M684.3 508.5h0M674.5 514.9h0M698.5 502.1h0M786.0 420.6h0M730.7 499.5h0M636.5 536.8h0M689.9 506.2h0M693.7 528.4h0M677.5 530.1h0M736.0 498.2h0M684.0 528.5h0M636.8 535.5h0M673.1 531.1h0M817.7 438.4h0M698.7 498.4h0M652.3 531.2h0M659.2 530.9h0M813.3 438.8h0M652.4 536.5h0M787.4 420.8h0M720.6 498.9h0M651.2 523.4h0M764.5 478.7h0M675.6 493.8h0M662.7 531.7h0M772.9 426.1h0M644.9 529.8h0M804.2 445.2h0M658.4 524.7h0M659.2 527.7h0M704.2 510.2h0M662.4 485.0h0M811.4 454.6h0M685.4 515.2h0M635.8 543.3h0M634.6 541.4h0M655.6 526.6h0M648.9 541.3h0M687.1 485.1h0M686.9 500.1h0M779.2 425.4h0M775.7 468.1h0M635.1 531.1h0M668.6 526.4h0M660.6 515.5h0M661.5 528.4h0M675.1 515.4h0M777.6 481.7h0M648.0 536.3h0M814.4 436.1h0M701.9 507.4h0M700.7 491.6h0M698.6 497.0h0M686.7 522.5h0M661.9 537.2h0M676.3 504.5h0M727.8 501.6h0M720.3 503.0h0M701.6 496.3h0M712.9 501.5h0M648.5 528.3h0M636.5 541.2h0M768.1 495.1h0M786.7 464.4h0M670.7 529.8h0M788.9 461.5h0M635.5 542.2h0M680.0 512.0h0M681.2 512.6h0M774.8 467.7h0M694.1 486.9h0M773.8 472.3h0M815.0 429.9h0M784.1 472.9h0M664.3 517.7h0M644.3 536.1h0M764.8 471.1h0M741.8 442.2h0M795.2 453.7h0M671.0 518.6h0M813.8 435.0h0M816.4 419.4h0M653.8 532.1h0M740.7 492.7h0M634.3 543.7h0M670.7 527.2h0M675.8 514.0h0M636.7 541.8h0M693.9 516.4h0M723.3 497.7h0M796.7 459.6h0M660.5 535.4h0M749.0 434.2h0M666.1 528.3h0M664.3 536.2h0M845.6 415.3h0M715.6 503.9h0M694.4 527.1h0M645.1 531.5h0M634.4 542.8h0M813.3 415.8h0M739.4 492.2h0M730.8 500.1h0M797.0 444.6h0M805.6 428.0h0M636.6 541.5h0M662.0 528.1h0M693.2 519.9h0M686.1 485.1h0M658.6 526.1h0M677.3 506.6h0M780.3 467.5h0M814.2 442.5h0M699.0 482.1h0M802.0 459.6h0M679.4 515.1h0M684.4 485.6h0M672.9 530.3h0M635.2 541.7h0M636.3 540.0h0M811.9 424.5h0M659.6 536.4h0M664.8 515.7h0M644.4 539.5h0M768.7 425.8h0M732.6 492.2h0M706.4 502.3h0M696.1 482.2h0M684.2 515.4h0M794.8 474.1h0M701.7 476.3h0M662.4 539.5h0M714.2 505.3h0M640.6 538.0h0M806.5 426.1h0M833.4 442.3h0M696.7 496.8h0M756.6 491.1h0M751.0 439.1h0M729.9 497.1h0M683.3 498.7h0M724.0 507.2h0M681.5 501.4h0M635.4 542.2h0M662.9 510.0h0M759.3 484.0h0M773.7 428.1h0M757.5 433.4h0M746.4 489.6h0M766.4 478.6h0M666.0 499.1h0M689.8 497.0h0M684.9 525.4h0M670.8 532.3h0M636.5 542.1h0M790.4 457.9h0M677.7 505.3h0M744.2 493.7h0M695.9 511.8h0M666.7 507.0h0M731.1 492.1h0M777.2 468.3h0M635.0 541.0h0M729.0 495.7h0M651.8 540.0h0M673.9 516.2h0M791.5 448.2h0M827.0 431.5h0M710.8 512.0h0M743.1 492.7h0M704.4 461.9h0M713.4 501.8h0M754.4 432.5h0M683.4 509.0h0M688.1 511.2h0M665.0 536.7h0M689.3 501.3h0M702.4 514.0h0M634.7 542.4h0M696.1 508.9h0M801.3 426.5h0M789.0 473.7h0M685.6 504.1h0M635.3 542.6h0M747.3 484.4h0M635.9 539.2h0M637.7 530.8h0M637.8 533.3h0M682.8 510.5h0M649.4 533.6h0M674.4 526.3h0M693.7 527.3h0M687.6 489.5h0M691.2 488.4h0M682.4 512.5h0M643.2 536.4h0M634.9 532.5h0M639.5 543.4h0M703.5 499.7h0M692.2 508.3h0M655.4 528.4h0M749.1 496.4h0M681.1 516.6h0M682.0 497.9h0M680.2 527.8h0M782.1 463.9h0M730.3 504.4h0M645.9 532.0h0M688.1 517.9h0M688.9 515.1h0M653.9 535.4h0M666.4 540.1h0M644.9 526.6h0M688.3 489.4h0M778.7 475.0h0M803.9 421.9h0M836.3 434.0h0M781.3 464.6h0M669.5 530.5h0M755.3 479.8h0M731.7 447.4h0M755.5 484.9h0M843.5 416.7h0M670.9 522.4h0M795.1 452.6h0M693.4 523.8h0M636.8 540.5h0M832.4 411.5h0M796.8 422.5h0M803.1 438.5h0M689.9 495.9h0M686.7 494.4h0M785.8 422.8h0M662.5 528.0h0M765.2 478.2h0M814.8 445.7h0M733.5 497.5h0M659.2 525.5h0M711.8 499.7h0M790.7 459.2h0M801.7 434.6h0M723.4 494.1h0M654.1 535.9h0M791.0 465.0h0M706.9 459.1h0M672.2 530.8h0M665.6 538.7h0M680.8 517.0h0M770.8 483.3h0M773.7 468.6h0M760.1 477.1h0M670.1 498.7h0M682.8 517.6h0M737.2 444.8h0M647.2 537.1h0M687.2 496.6h0M774.4 469.0h0M678.3 526.2h0M684.5 497.3h0M797.6 461.1h0M765.8 480.1h0M803.2 429.4h0M707.8 494.5h0M637.2 532.6h0M791.1 422.1h0M644.9 543.5h0M677.7 502.4h0M774.5 423.5h0M675.9 505.3h0M674.0 525.6h0M806.5 450.2h0M756.0 433.2h0M738.2 496.8h0M751.5 436.7h0M646.2 531.0h0M704.6 507.8h0M650.0 529.2h0M779.8 474.4h0M705.1 499.2h0M727.5 495.8h0M738.3 490.4h0M635.7 541.2h0M801.0 442.8h0M661.8 542.7h0M719.7 460.3h0M682.8 474.9h0M680.5 480.4h0M717.2 512.1h0M794.2 458.4h0M740.3 434.7h0M688.3 505.7h0M665.7 515.7h0M666.8 520.1h0M814.4 424.7h0M636.2 532.4h0M713.4 497.4h0M726.5 498.1h0M706.3 501.0h0M715.5 494.2h0" stroke="#2aad47" stroke-width="3.8" stroke-linecap="round" fill="none"/>
<path d="M636.6 541.2h0M797.6 422.8h0M703.8 467.2h0M775.5 472.6h0M712.8 498.4h0M759.5 424.3h0M780.5 464.0h0M691.8 505.2h0M758.7 476.3h0M643.4 542.3h0M716.5 464.1h0M747.1 500.8h0M786.7 466.9h0M801.9 430.7h0M708.6 471.6h0M691.3 496.2h0M781.9 460.5h0M707.9 500.9h0M666.9 525.7h0M682.6 508.7h0M723.1 504.4h0M784.5 458.8h0M751.9 482.9h0M654.1 543.1h0M785.7 459.1h0M667.8 517.5h0M738.9 492.0h0M711.9 500.3h0M648.9 530.1h0M663.8 532.7h0M694.7 513.9h0M672.5 525.8h0M697.1 496.8h0M673.6 513.9h0M690.9 511.5h0M674.4 513.1h0M805.7 447.3h0M654.3 531.8h0M637.1 531.0h0M724.9 457.2h0M812.4 421.4h0M751.6 485.7h0M700.2 478.4h0M673.4 485.8h0M778.0 468.4h0M689.4 519.4h0M712.4 501.7h0M810.1 431.6h0M694.2 506.7h0M661.1 537.6h0M661.9 535.0h0M787.3 466.7h0M670.3 525.5h0M742.8 494.4h0M760.5 483.9h0M682.3 512.1h0M689.3 492.6h0M779.6 479.3h0M684.2 513.9h0M725.9 493.3h0M687.1 518.5h0M694.5 478.3h0M746.9 490.2h0M650.7 524.9h0M678.4 510.5h0M748.5 492.6h0M707.6 502.9h0M650.8 541.5h0M773.7 472.4h0M777.7 466.3h0M664.9 536.4h0M682.8 515.5h0M750.7 491.3h0M641.0 543.9h0M674.8 522.3h0M661.4 538.9h0M735.9 489.6h0M698.0 489.0h0M783.8 463.0h0M741.8 487.5h0M716.3 497.1h0M805.9 413.0h0M651.7 531.8h0M698.0 493.5h0M641.6 533.9h0M690.5 513.7h0M698.4 491.3h0M636.5 543.4h0M800.2 447.6h0M802.7 444.7h0M831.7 423.5h0M774.6 425.4h0M753.9 477.4h0M636.2 543.8h0M666.0 524.0h0M645.5 541.5h0M698.6 488.6h0M689.5 502.0h0M659.4 525.8h0M689.9 497.1h0M682.9 520.7h0M675.1 499.8h0M657.6 529.0h0M784.8 466.7h0M677.0 533.4h0M666.5 525.8h0M795.6 419.2h0M765.9 477.8h0M685.5 494.4h0M661.4 522.8h0M675.2 524.9h0M806.4 434.5h0M667.4 527.3h0M705.7 499.9h0M767.2 489.6h0M727.0 456.0h0M816.5 424.2h0M662.0 525.4h0M662.5 529.8h0M792.4 425.9h0M655.1 542.1h0M790.4 454.1h0M822.6 434.1h0M653.4 533.1h0M644.8 535.2h0M788.3 481.4h0M666.4 506.4h0M748.9 485.6h0M712.0 495.9h0M666.7 527.5h0M700.4 503.2h0M751.1 480.1h0M771.7 472.0h0M785.0 469.6h0M754.8 481.9h0M798.2 450.6h0M656.0 527.5h0M755.8 484.4h0M635.8 542.0h0M799.4 457.9h0M749.9 440.3h0M785.3 462.7h0M803.6 423.6h0M742.1 497.0h0M701.7 495.1h0M776.8 463.2h0M658.0 533.8h0M639.9 538.9h0M636.7 531.4h0M693.9 478.2h0M713.2 456.4h0M667.3 528.8h0M715.6 464.9h0M654.2 542.2h0M693.4 490.7h0M720.3 460.8h0M714.9 497.4h0M684.4 489.8h0M769.1 472.9h0M661.7 514.3h0M658.3 533.8h0M767.1 471.4h0M683.2 513.8h0M696.3 483.1h0M646.3 541.6h0M783.2 469.1h0M803.1 423.6h0M635.8 541.0h0M713.5 495.6h0M706.3 508.3h0M757.4 480.4h0M771.0 472.5h0M690.4 510.7h0M655.3 532.2h0M677.7 506.2h0M638.3 527.4h0M680.1 518.3h0M826.4 420.7h0M678.3 521.4h0M684.8 509.9h0M745.4 484.8h0M670.1 532.5h0M741.3 491.1h0M771.3 476.8h0M710.3 497.3h0M761.8 483.6h0M743.7 490.8h0M696.0 495.7h0M668.1 528.5h0M647.4 520.2h0M796.2 448.8h0M681.5 522.0h0M658.6 519.4h0M697.3 521.3h0M657.9 528.9h0M676.1 525.6h0M667.6 535.9h0M804.1 435.2h0M634.1 541.1h0M693.9 517.4h0M806.7 433.1h0M638.9 537.9h0M740.4 494.1h0M770.5 467.9h0M771.0 478.1h0M646.9 540.3h0M670.1 528.5h0M756.5 436.7h0M693.2 507.6h0M697.7 483.6h0M740.3 492.3h0M634.8 544.0h0M710.1 467.3h0M659.7 523.6h0M674.8 526.5h0M788.0 465.7h0M664.4 525.8h0M699.1 499.6h0M800.6 444.6h0M734.7 448.1h0M781.1 467.9h0M736.6 495.4h0M708.3 463.0h0M672.1 532.2h0M799.0 439.4h0M688.1 501.8h0M806.6 433.8h0M676.7 517.4h0M814.4 426.1h0M674.9 521.5h0M810.0 433.0h0M690.5 495.0h0M785.2 471.6h0M728.3 495.4h0M735.3 488.9h0M654.9 542.6h0M779.8 468.7h0M634.7 543.4h0M786.0 455.4h0M665.0 538.9h0M656.5 523.6h0M708.0 497.5h0M670.5 525.3h0M743.1 484.8h0M706.1 504.6h0M668.2 524.2h0M761.1 487.2h0M770.5 427.2h0M813.1 430.7h0M650.1 526.3h0M707.6 469.1h0M764.0 477.6h0M664.9 520.1h0M729.8 491.0h0M691.5 501.5h0M701.1 472.6h0M674.5 514.1h0M649.6 527.5h0M729.9 487.7h0M703.6 504.4h0M655.2 523.7h0M681.1 514.7h0M634.8 532.0h0M803.6 434.9h0M735.0 443.6h0M749.1 485.8h0M670.3 524.4h0M658.6 527.9h0M796.7 444.5h0M770.9 473.7h0M655.5 520.1h0M789.8 462.1h0M698.6 479.9h0M702.2 511.0h0M791.0 458.1h0M650.7 534.5h0M816.5 435.3h0M797.7 422.6h0M654.1 529.2h0M778.3 427.4h0M689.0 510.6h0M694.0 512.5h0M661.3 520.9h0M634.0 539.5h0M799.1 441.4h0M694.6 490.8h0M736.0 490.4h0M806.5 439.2h0M699.3 497.2h0M797.5 446.9h0M762.6 489.7h0M674.4 475.1h0M679.0 533.3h0M670.7 526.0h0M730.4 504.6h0M675.0 495.3h0M807.7 431.5h0M635.2 543.3h0M763.2 474.5h0M716.5 461.9h0M725.5 494.8h0M676.1 507.1h0M792.8 453.8h0M764.1 475.4h0M656.6 528.0h0M647.4 535.6h0M697.4 481.3h0M691.1 520.2h0M658.7 535.9h0M669.8 526.6h0M692.8 477.7h0M681.3 504.5h0M702.0 505.1h0M707.3 493.1h0M756.1 483.9h0M801.6 440.9h0M635.2 540.6h0M694.8 524.5h0M694.4 496.7h0M804.2 429.5h0M737.6 491.3h0M746.0 441.7h0M811.4 465.2h0M685.2 497.4h0M653.1 540.6h0M719.9 498.8h0M692.5 492.3h0M695.3 505.0h0M701.6 502.8h0M800.5 432.3h0M710.4 465.7h0M714.8 495.0h0M806.2 433.4h0M737.8 493.9h0M669.5 535.1h0M717.3 460.5h0M769.4 477.5h0M787.5 455.3h0M697.6 506.6h0M658.3 537.3h0M804.7 416.6h0M679.4 526.4h0M688.4 486.3h0M755.3 480.9h0M748.7 491.7h0M654.9 540.7h0M808.1 442.8h0M649.0 528.7h0M637.0 530.9h0M695.9 505.1h0M674.4 526.2h0M702.3 482.5h0M757.7 482.5h0M691.6 522.7h0M756.0 481.1h0M730.4 451.7h0M678.6 526.5h0M753.7 436.0h0M714.5 499.2h0M699.1 480.7h0M780.2 464.5h0M743.1 487.3h0M635.2 543.5h0M782.5 464.1h0M677.1 534.0h0M755.8 476.4h0M802.9 424.7h0M804.7 431.3h0M671.6 530.8h0M677.2 520.7h0M789.9 458.0h0M796.6 450.5h0M687.9 502.5h0M695.1 513.1h0M752.0 438.7h0M735.1 490.1h0M648.2 527.5h0M780.8 466.8h0M720.2 500.8h0M679.5 519.2h0M701.7 500.0h0M774.3 473.6h0M755.8 435.5h0M796.1 442.1h0M650.9 538.1h0M797.5 442.8h0M707.6 496.8h0M813.8 429.9h0M790.8 453.4h0M716.1 497.1h0M689.5 505.8h0M745.9 495.9h0M672.4 523.3h0M634.2 541.2h0M743.8 496.6h0M793.1 453.1h0M765.7 472.0h0M745.3 440.6h0M695.0 487.3h0M706.5 496.5h0M689.2 504.8h0M803.8 432.4h0M725.9 447.7h0M710.9 496.0h0M735.8 495.5h0M729.6 503.9h0M772.2 427.2h0M784.5 456.5h0M658.2 525.8h0M749.2 483.4h0M679.6 511.8h0M775.3 428.9h0M709.1 470.0h0M695.5 495.7h0M787.9 455.5h0M657.5 535.2h0M698.3 502.8h0M704.0 507.2h0M685.6 518.4h0M689.3 495.0h0M791.4 450.8h0M795.3 449.5h0M741.6 487.2h0M691.9 500.8h0M804.4 434.7h0M793.0 453.2h0M794.9 449.6h0M702.0 487.3h0M799.1 422.4h0M800.9 429.4h0M730.6 490.2h0M663.2 527.5h0M805.7 432.8h0M740.0 486.9h0M702.2 484.1h0M713.8 497.7h0M682.3 530.6h0" stroke="#2bae46" stroke-width="3.8" stroke-linecap="round" fill="none"/>
<path d="M706.7 481.7h0M675.8 526.0h0M755.7 478.8h0M691.6 501.6h0M766.2 471.4h0M690.6 506.9h0M765.8 472.8h0M688.5 510.4h0M704.6 501.8h0M679.3 526.6h0M791.5 456.1h0M725.4 491.7h0M663.8 533.5h0M691.7 506.8h0M811.1 435.9h0M690.4 513.1h0M665.1 539.9h0M735.1 497.0h0M777.3 462.0h0M796.6 442.5h0M788.4 454.4h0M796.9 427.0h0M698.2 487.5h0M705.3 504.4h0M797.1 445.7h0M696.3 487.8h0M762.0 476.9h0M794.7 453.2h0M729.1 491.0h0M747.3 489.2h0M668.1 519.2h0M728.7 490.7h0M662.3 527.5h0M704.5 498.7h0M654.4 536.7h0M745.2 488.3h0M784.8 420.6h0M685.3 513.8h0M713.7 500.5h0M698.3 481.7h0M695.4 490.9h0M771.8 470.3h0M750.2 440.8h0M711.7 500.5h0M689.7 527.5h0M768.0 430.1h0M659.7 533.7h0M684.2 529.7h0M770.5 472.2h0M726.5 497.6h0M692.7 491.6h0M688.2 514.0h0M802.3 440.8h0M654.6 535.5h0M747.7 489.5h0M806.6 431.8h0M671.1 525.4h0M703.4 475.7h0M771.3 464.8h0M789.2 424.4h0M672.1 536.3h0M759.5 477.1h0M721.2 461.6h0M780.4 468.0h0M714.1 493.2h0M741.4 487.6h0M792.8 457.9h0M695.1 487.2h0M694.2 493.4h0M730.8 489.8h0M666.4 532.3h0M724.1 459.6h0M639.4 530.3h0M669.6 531.1h0M733.2 449.0h0M695.1 492.0h0M796.4 423.3h0M788.5 456.7h0M698.7 498.3h0M779.4 461.7h0M727.2 495.9h0M696.8 498.7h0M742.9 444.4h0M665.7 532.0h0M702.0 500.8h0M706.2 472.8h0M779.2 466.4h0M700.8 486.6h0M665.1 535.4h0M670.0 526.3h0M734.3 496.1h0M796.2 419.5h0M764.4 473.9h0M665.7 514.2h0M803.2 446.6h0M664.6 533.6h0M779.9 425.2h0M634.6 541.1h0M754.0 484.9h0M802.5 437.2h0M751.7 488.9h0M791.8 460.0h0M734.8 493.9h0M694.3 492.6h0M694.3 491.8h0M792.9 453.4h0M780.4 426.4h0M805.6 425.9h0M661.6 537.5h0M707.8 493.4h0M722.1 493.9h0M733.5 490.9h0M803.9 421.8h0M687.4 519.0h0M682.7 521.6h0M747.7 484.4h0M722.6 495.2h0M752.2 484.9h0M808.0 441.1h0M766.1 479.3h0M775.4 465.0h0M740.9 488.4h0M754.4 477.5h0M780.6 468.3h0M782.2 455.9h0M691.8 526.2h0M686.8 509.0h0M766.0 470.3h0M738.9 488.9h0M723.5 494.5h0M709.3 494.9h0M806.0 432.8h0M776.6 470.5h0M786.0 457.4h0M656.1 532.5h0M800.7 444.8h0M776.4 470.5h0M718.6 494.1h0M755.0 475.8h0M701.8 479.4h0M700.9 495.0h0M654.8 539.6h0M685.0 510.1h0M757.8 434.4h0M791.5 452.0h0M803.6 436.9h0M782.4 461.9h0M718.9 492.5h0M655.1 541.5h0M756.6 481.1h0M772.9 429.6h0M726.0 454.0h0M730.3 493.2h0M645.9 538.5h0M715.4 467.5h0M769.1 472.4h0M686.8 515.7h0M640.6 541.8h0M697.3 505.1h0M711.7 498.3h0M650.7 535.5h0M701.7 480.1h0M748.3 485.5h0M706.2 501.5h0M644.5 536.8h0M635.6 542.7h0M773.8 468.4h0M663.8 520.0h0M740.4 438.4h0M710.7 472.2h0M713.0 494.9h0M707.8 497.6h0M713.1 498.1h0M747.8 483.7h0M671.2 527.2h0M698.2 479.7h0M649.6 521.6h0M695.2 503.6h0M724.7 494.2h0M704.5 494.6h0M750.6 441.4h0M747.1 484.9h0M801.1 437.4h0M765.2 473.2h0M667.2 532.5h0M797.9 426.9h0M684.4 505.1h0M663.3 521.0h0M731.7 493.0h0M654.3 531.0h0M663.7 521.9h0M794.0 457.2h0M645.0 537.2h0M719.3 492.1h0M666.1 528.7h0M684.3 498.9h0M780.8 456.2h0M795.0 426.1h0M687.4 492.8h0M668.2 522.6h0M661.5 530.4h0M754.8 476.6h0M764.4 476.7h0M715.2 501.3h0M797.2 425.4h0M635.4 542.9h0M676.7 527.6h0M707.4 466.2h0M703.0 486.5h0M718.5 497.4h0M734.0 491.4h0M734.2 491.2h0M745.2 484.2h0M677.4 527.4h0M658.6 529.5h0M793.4 446.7h0M669.0 519.6h0M807.1 429.9h0M774.9 466.9h0M779.7 467.3h0M655.9 524.2h0M813.4 430.2h0M771.6 466.2h0M733.8 489.1h0M760.5 474.4h0M794.9 448.5h0M780.3 465.8h0M795.5 419.3h0M701.6 482.0h0M761.9 474.8h0M794.3 454.6h0M711.0 503.7h0M650.6 541.6h0M760.9 475.2h0M777.9 464.5h0M701.7 476.4h0M787.3 458.1h0M760.6 478.9h0M701.4 481.2h0M772.1 432.3h0M689.2 503.5h0M735.8 493.3h0M707.8 475.3h0M648.3 532.9h0M727.0 493.9h0M732.0 452.9h0M715.4 498.3h0M734.9 491.0h0M706.5 470.8h0M667.8 527.9h0M707.0 503.8h0M661.4 532.2h0M696.2 491.0h0M789.5 452.2h0M746.6 484.7h0M759.3 434.2h0M660.4 533.7h0M715.8 462.9h0M708.0 502.3h0M755.1 481.0h0M785.9 425.8h0M800.5 432.6h0M699.7 494.4h0M655.2 529.5h0M771.6 469.4h0M790.8 451.9h0M755.9 476.0h0M648.5 514.0h0M776.9 425.7h0M661.7 531.4h0M697.5 484.4h0M693.8 498.6h0M663.5 524.4h0M699.4 489.9h0M703.4 493.6h0M745.1 483.9h0M695.1 521.7h0M780.1 466.5h0M777.8 430.9h0M715.6 505.2h0M671.1 528.5h0M752.9 440.4h0M748.4 483.9h0M688.1 504.1h0M744.7 484.6h0M763.3 434.4h0M772.1 478.4h0M760.9 475.2h0M716.8 466.4h0M636.2 541.1h0M647.6 531.2h0M749.5 484.2h0M783.0 461.2h0M750.2 481.1h0M687.9 499.5h0M778.1 467.0h0M727.9 491.8h0M805.4 430.9h0M802.9 437.5h0M698.2 479.6h0M702.1 479.5h0M671.8 500.3h0M757.9 478.2h0M636.5 541.9h0M704.6 504.0h0M643.0 539.3h0M672.9 519.1h0M681.8 518.6h0M706.5 474.1h0M701.7 497.0h0M778.2 459.3h0M736.7 451.7h0M735.8 488.2h0M703.5 476.1h0M775.6 460.7h0M673.6 529.7h0M795.9 449.2h0M768.6 479.2h0" stroke="#33b045" stroke-width="3.8" stroke-linecap="round" fill="none"/>
<path d="M739.1 447.6h0M795.1 450.3h0M707.4 498.2h0M791.8 469.5h0M798.4 445.9h0M717.4 509.7h0M665.5 523.2h0M783.3 426.2h0M706.9 496.7h0M748.6 444.1h0M780.6 466.5h0M694.2 488.1h0M721.5 459.8h0M769.1 427.5h0M715.4 493.5h0M724.4 460.3h0M745.1 489.2h0M658.0 520.3h0M731.5 452.5h0M701.6 494.9h0M746.1 483.0h0M674.2 524.4h0M796.2 438.6h0M705.1 490.0h0M741.1 487.9h0M825.7 434.4h0M730.9 488.2h0M701.1 497.4h0M672.0 531.6h0M769.8 467.0h0M662.4 529.9h0M726.9 457.8h0M777.5 420.1h0M754.9 478.5h0M756.8 477.8h0M762.0 476.7h0M796.3 444.7h0M636.8 542.1h0M714.9 494.8h0M793.2 424.7h0M785.8 457.5h0M653.3 535.6h0M703.4 476.1h0M733.7 449.3h0M760.6 477.1h0M710.9 467.9h0M752.8 480.4h0M750.0 478.7h0M725.0 455.7h0M670.5 522.0h0M721.1 490.7h0M661.4 529.2h0M709.6 494.7h0M757.0 474.5h0M795.3 443.3h0M802.0 423.4h0M756.0 478.0h0M754.2 478.2h0M797.3 441.4h0M780.1 456.0h0M742.7 483.9h0M702.0 490.8h0M783.2 457.4h0M697.3 483.6h0M786.2 454.4h0M705.7 501.3h0M755.7 480.4h0M722.0 461.2h0M761.1 474.9h0M727.8 491.8h0M732.8 493.7h0M670.7 525.3h0M767.6 472.4h0M778.9 465.3h0M675.9 519.6h0M721.8 490.6h0M800.6 428.6h0M806.1 431.3h0M655.2 538.3h0M789.6 425.7h0M801.3 437.4h0M644.9 537.8h0M715.3 498.7h0M715.1 468.2h0M754.7 432.3h0M729.6 493.1h0M701.7 482.6h0M778.7 461.4h0M777.4 461.1h0M674.4 523.7h0M670.2 524.0h0M791.3 427.6h0M778.7 462.3h0M662.2 527.5h0M682.9 509.4h0M795.2 449.2h0M778.1 466.4h0M735.5 493.5h0M806.6 445.5h0M686.7 524.4h0M704.2 482.3h0M766.2 476.8h0M747.9 445.5h0M724.6 494.6h0M753.1 442.2h0M751.7 483.8h0M763.9 469.7h0M799.4 428.1h0M767.8 432.5h0M785.8 425.9h0M790.8 456.5h0M762.5 432.2h0M785.5 426.8h0M791.9 422.0h0M712.4 495.8h0M716.3 460.1h0M731.6 487.6h0M716.4 465.2h0M722.8 459.1h0M692.3 488.1h0M739.0 449.6h0M791.5 423.2h0M791.9 426.7h0M673.9 516.0h0M667.6 525.9h0M803.7 431.8h0M718.6 462.4h0M738.4 487.2h0M707.7 492.7h0M658.2 531.1h0M716.5 495.5h0M672.4 523.9h0M734.9 488.7h0M702.0 483.9h0M711.0 498.3h0M783.0 425.8h0M715.9 491.8h0M710.8 470.0h0M781.0 430.0h0M700.2 491.3h0M751.7 478.0h0M706.2 493.5h0M705.8 492.6h0M764.6 473.7h0M797.5 437.0h0M800.4 442.7h0M640.0 528.7h0M676.1 526.8h0M765.7 434.6h0M713.9 497.9h0M713.1 469.6h0M655.4 530.8h0M799.6 439.6h0M711.6 463.9h0M765.0 471.8h0M704.2 485.5h0M794.2 455.1h0M705.9 476.6h0M704.3 504.1h0M693.7 503.1h0M696.1 495.5h0M797.3 441.7h0M715.3 502.7h0M786.3 459.1h0M736.2 484.3h0M719.4 495.2h0M810.7 435.2h0M703.5 483.6h0M793.2 446.9h0M675.3 522.0h0M763.2 471.2h0M694.0 496.8h0M697.3 493.1h0M744.6 445.9h0M658.8 540.8h0M658.1 531.8h0M780.7 458.4h0M720.3 491.4h0M726.1 489.7h0M695.3 492.6h0M752.5 479.4h0M785.7 453.1h0M724.0 454.2h0M738.4 489.0h0M737.7 489.2h0M770.7 465.5h0M692.4 495.8h0M653.2 533.4h0M713.3 466.6h0M702.6 497.4h0M671.9 522.6h0M796.0 440.2h0M778.9 457.7h0M716.4 495.1h0M664.0 526.2h0M782.5 458.1h0M715.9 494.0h0M799.8 432.7h0M713.7 467.4h0M775.6 461.3h0M741.0 446.2h0M767.4 469.7h0M714.7 467.4h0M801.4 435.5h0M701.5 478.4h0M750.3 481.5h0M802.1 432.0h0M772.5 466.2h0M704.4 501.0h0M717.3 466.5h0M668.1 530.8h0M769.1 470.1h0M702.6 492.4h0M692.9 499.9h0M731.8 488.6h0M791.1 427.8h0M794.6 443.0h0M770.2 468.1h0M743.3 484.7h0M748.6 480.9h0M709.6 470.8h0M700.3 490.9h0M758.2 439.3h0M778.1 428.2h0M799.1 429.6h0M678.2 527.5h0M758.1 435.1h0M736.3 488.3h0M747.4 477.9h0M707.7 494.7h0M782.1 460.8h0M706.3 482.5h0M725.6 497.6h0M675.6 516.2h0M650.4 539.6h0M764.3 470.1h0M735.5 488.9h0" stroke="#40b542" stroke-width="3.8" stroke-linecap="round" fill="none"/>
<path d="M744.1 446.2h0M800.4 436.0h0M807.5 428.7h0M739.5 451.2h0M790.8 450.1h0M775.1 466.6h0M798.3 452.1h0M744.7 484.4h0M777.1 461.3h0M789.8 453.4h0M674.7 522.7h0M777.7 459.4h0M696.7 492.9h0M726.2 493.3h0M746.6 483.2h0M806.2 434.2h0M771.9 467.8h0M754.8 441.2h0M753.4 479.1h0M782.7 461.1h0M770.0 431.3h0M704.5 498.2h0M677.1 528.9h0M739.8 449.2h0M721.6 459.8h0M772.0 431.9h0M740.4 487.5h0M734.9 452.8h0M798.5 427.5h0M726.2 457.9h0M695.7 487.4h0M725.6 491.6h0M799.7 424.0h0M795.3 427.6h0M706.8 490.7h0M737.2 487.3h0M702.5 489.1h0M793.9 445.3h0M736.4 449.1h0M719.1 461.8h0M673.9 527.8h0M654.7 531.5h0M799.0 439.5h0M740.6 488.9h0M724.8 487.9h0M801.5 441.6h0M795.1 446.2h0M727.2 456.8h0M727.0 493.4h0M742.5 490.4h0M737.2 451.8h0M660.1 535.6h0M790.5 455.1h0M764.0 476.2h0M713.7 491.6h0M746.9 480.7h0M767.0 436.7h0M760.8 471.2h0M745.1 483.9h0M714.5 494.1h0M702.5 477.3h0M782.2 426.3h0M788.5 427.2h0M776.3 463.8h0M758.7 474.2h0M800.7 430.6h0M796.6 441.5h0M795.4 430.6h0M797.0 444.4h0M726.4 488.0h0M731.0 490.2h0M733.2 483.5h0M764.2 475.0h0M708.2 495.6h0M718.7 498.0h0M758.2 477.4h0M707.7 491.0h0M797.8 438.9h0M701.9 479.5h0M801.2 439.0h0M702.5 489.9h0M746.5 482.6h0M800.3 441.1h0M741.1 447.6h0M746.8 483.1h0M661.9 533.9h0M786.9 459.0h0M665.5 522.9h0M795.1 439.7h0M720.9 458.3h0M716.9 493.9h0M711.6 470.2h0M757.0 438.1h0M779.2 460.9h0M708.7 467.4h0M734.7 490.3h0M774.1 425.1h0M804.0 434.8h0M793.9 441.3h0M756.2 478.9h0M674.4 524.1h0M759.2 474.0h0M761.9 470.6h0M797.9 441.8h0M764.8 472.4h0M772.8 465.0h0M797.4 452.5h0M786.0 457.6h0M801.5 436.0h0M696.4 494.6h0M741.4 484.4h0M799.6 437.9h0M717.5 489.0h0M773.6 463.2h0M801.9 443.8h0M654.4 533.8h0M788.7 428.2h0M798.0 438.0h0M708.2 478.5h0M750.6 479.3h0M727.0 491.7h0M697.8 492.7h0M699.3 493.4h0M798.8 439.0h0M723.7 461.5h0M718.5 496.4h0M797.6 439.7h0M691.9 499.8h0M739.8 484.3h0M745.4 485.6h0M788.3 454.8h0M788.3 426.3h0M708.8 476.0h0M700.7 497.6h0M792.5 425.1h0M803.6 431.4h0M786.2 456.3h0M739.0 484.7h0M795.5 427.7h0M714.4 494.2h0M698.7 490.5h0M766.7 470.6h0M712.1 494.6h0M800.4 437.1h0M751.9 476.0h0M717.2 464.7h0M750.9 483.8h0M767.0 471.6h0M705.9 491.4h0M765.2 469.7h0M704.6 479.2h0M799.2 426.7h0M744.0 484.7h0M771.3 468.1h0M718.5 465.4h0M659.1 529.4h0M746.8 480.3h0M766.2 435.4h0M720.7 491.6h0M744.9 484.3h0M767.7 466.2h0M751.2 440.4h0M713.9 468.5h0M750.0 483.6h0M775.9 463.3h0M765.5 468.4h0M743.0 483.5h0M762.8 470.9h0M779.8 459.6h0M727.6 491.1h0M723.3 490.6h0M732.4 490.4h0M798.7 432.1h0M702.0 491.7h0M722.1 492.1h0M794.9 449.9h0M714.5 493.3h0M707.8 475.1h0M776.8 429.7h0M792.5 449.7h0M738.8 483.4h0M789.8 450.3h0M776.1 426.6h0M730.4 454.2h0M673.8 529.9h0M780.2 428.4h0M727.2 458.8h0M791.3 443.7h0M757.1 472.1h0M788.5 430.0h0M710.6 467.7h0M792.4 445.6h0M765.2 468.1h0M758.7 476.1h0M788.4 428.0h0M783.8 453.8h0M789.7 453.5h0M792.7 439.8h0M770.0 462.5h0M797.1 428.1h0M801.8 431.6h0M701.6 490.8h0M794.2 431.7h0M757.6 474.2h0M701.3 489.0h0M788.4 452.2h0M766.1 475.9h0" stroke="#4eba40" stroke-width="3.8" stroke-linecap="round" fill="none"/>
<path d="M752.9 477.9h0M724.4 491.7h0M747.1 479.4h0M781.1 458.5h0M765.7 471.3h0M774.9 465.8h0M772.0 465.3h0M708.5 489.7h0M680.1 526.8h0M797.9 426.9h0M718.7 464.2h0M761.0 472.7h0M749.4 477.6h0M786.4 425.9h0M745.1 482.0h0M716.5 463.1h0M779.9 428.0h0M732.9 489.6h0M793.0 443.3h0M650.1 537.1h0M705.1 473.4h0M724.3 493.4h0M702.5 480.1h0M707.7 490.1h0M720.0 465.0h0M758.0 476.2h0M741.7 482.4h0M789.8 447.3h0M705.6 492.3h0M731.2 489.7h0M726.0 489.5h0M702.7 497.8h0M790.6 445.7h0M763.8 437.2h0M754.7 438.3h0M661.6 528.3h0M800.1 429.6h0M777.0 461.3h0M717.1 496.1h0M703.3 486.1h0M711.3 491.9h0M716.4 466.8h0M782.2 455.8h0M716.7 469.5h0M799.0 436.4h0M794.7 441.8h0M751.5 477.8h0M769.6 465.3h0M757.7 471.9h0M763.6 436.7h0M701.4 480.0h0M704.3 489.2h0M720.2 464.9h0M748.3 479.8h0M798.6 438.6h0M775.3 432.9h0M749.6 481.7h0M796.6 440.1h0M725.6 488.0h0M745.6 489.8h0M762.3 471.5h0M708.6 475.7h0M779.3 461.1h0M789.3 448.3h0M795.7 427.2h0M744.8 479.2h0M704.2 481.6h0M761.8 471.7h0M738.0 482.8h0M783.5 454.5h0M725.4 496.1h0M790.4 451.3h0M709.4 471.2h0M799.1 432.5h0M730.1 488.5h0M785.0 454.9h0M704.7 477.6h0M741.2 484.0h0M706.8 479.2h0M775.2 464.0h0M718.7 463.3h0M763.4 468.4h0M791.3 450.6h0M785.7 430.0h0M782.0 460.3h0M768.5 463.6h0M800.9 437.8h0M778.0 463.6h0M747.2 481.1h0M778.8 430.1h0M735.8 452.4h0M711.0 492.8h0M740.5 450.2h0M799.0 430.7h0M743.9 482.6h0M778.2 459.2h0M717.6 490.4h0M726.3 489.3h0M793.1 438.5h0M759.1 471.2h0M709.2 491.0h0M718.6 490.6h0M713.0 468.2h0M777.0 460.2h0M709.9 479.6h0M722.6 461.9h0M693.1 487.7h0M754.2 477.3h0M716.4 491.2h0M774.8 430.6h0M772.8 465.0h0M753.2 476.9h0M732.8 486.3h0M797.4 442.9h0M700.5 488.0h0M707.2 482.8h0M712.0 491.5h0M703.7 492.8h0M728.5 491.0h0M780.9 452.7h0M739.3 484.3h0M740.3 484.0h0M708.3 498.1h0M741.9 448.4h0M791.1 428.7h0M775.9 459.2h0M792.2 427.1h0M796.9 434.7h0M773.8 433.4h0M768.5 435.4h0M780.4 453.8h0M726.2 487.2h0M744.6 479.6h0M731.0 490.0h0M718.9 489.5h0M776.3 461.5h0M702.9 480.9h0M722.3 487.2h0M736.9 484.2h0M770.9 466.7h0M711.9 493.3h0M791.3 429.6h0M712.3 492.9h0M730.6 488.3h0M709.2 493.5h0M782.9 454.5h0M794.6 429.8h0M759.1 470.1h0M714.2 468.4h0M798.5 428.5h0M742.6 482.3h0M709.8 492.0h0M722.1 486.7h0M757.8 471.9h0M715.2 490.6h0M702.0 490.2h0M769.8 466.0h0M782.2 455.1h0M769.9 433.6h0M793.1 429.4h0M785.9 451.6h0" stroke="#5bbe3d" stroke-width="3.8" stroke-linecap="round" fill="none"/>
<path d="M708.9 476.6h0M776.4 459.8h0M798.7 430.3h0M711.6 467.6h0M739.3 452.4h0M787.8 451.6h0M709.7 477.9h0M795.2 426.4h0M711.0 475.8h0M738.1 480.9h0M763.5 470.7h0M766.1 465.4h0M784.7 459.2h0M730.5 454.8h0M772.0 467.0h0M718.2 463.5h0M793.0 448.6h0M802.2 428.5h0M716.3 468.2h0M759.7 469.7h0M734.4 484.1h0M800.3 428.0h0M750.1 476.0h0M706.5 479.8h0M708.8 477.6h0M787.4 448.8h0M719.9 491.3h0M704.3 484.8h0M790.1 450.8h0M761.5 470.6h0M774.5 432.5h0M754.3 474.7h0M794.5 426.7h0M794.3 430.5h0M711.8 489.4h0M720.8 490.3h0M712.6 473.8h0M708.5 492.6h0M711.6 476.2h0M717.1 468.6h0M765.2 467.2h0M716.5 490.4h0M789.8 445.6h0M771.9 461.8h0M717.2 489.0h0M736.4 484.1h0M709.7 481.6h0M773.3 466.0h0M753.1 474.8h0M718.2 491.3h0M750.8 476.2h0M779.7 455.9h0M741.8 487.5h0M725.6 463.6h0M705.3 489.0h0M733.6 488.2h0M798.7 440.7h0M779.0 459.5h0M704.4 482.3h0M732.0 484.4h0M791.5 429.8h0M765.8 466.6h0M763.4 468.4h0M734.2 487.4h0M737.7 450.4h0M726.2 455.7h0M711.2 490.5h0M767.9 466.2h0M748.1 446.2h0M758.7 475.8h0M791.5 445.3h0M720.8 495.0h0M769.7 433.5h0M718.6 465.4h0M773.6 431.9h0M773.4 460.3h0M706.7 483.4h0M722.6 463.5h0M789.7 449.9h0M743.1 449.9h0M706.9 482.5h0M771.0 463.0h0M795.3 428.2h0M769.1 469.2h0M777.4 457.6h0M714.9 492.2h0M705.8 478.9h0M781.2 457.6h0M710.5 489.9h0M753.9 474.6h0M750.5 474.7h0M774.1 460.8h0M795.3 437.7h0M785.9 452.7h0M742.8 484.2h0M790.3 443.6h0M792.9 434.5h0M783.0 456.7h0M718.6 467.0h0M767.5 465.4h0M710.6 489.6h0M709.7 495.7h0M756.5 442.3h0M707.7 490.2h0M723.1 490.8h0M735.6 485.4h0M764.2 466.5h0M708.2 490.9h0M773.5 462.4h0M703.0 487.7h0M750.4 441.6h0M768.7 463.7h0M777.9 458.4h0M800.4 428.2h0M801.1 429.1h0M712.3 472.6h0M770.1 464.5h0M744.0 482.6h0M738.3 453.5h0M749.4 477.4h0M790.4 427.9h0M708.5 487.4h0M741.9 449.8h0M790.4 429.1h0M709.9 488.4h0M718.5 490.2h0M792.7 442.2h0M765.7 465.6h0M709.2 493.5h0M732.7 484.4h0M722.8 462.8h0M740.6 480.5h0M785.0 429.9h0M794.4 437.4h0M768.5 435.0h0M758.1 472.8h0M707.7 485.5h0M740.1 482.1h0M736.0 481.3h0M725.7 488.6h0M790.5 441.7h0M767.5 465.8h0M797.8 429.4h0M726.4 487.4h0M754.6 443.1h0M722.8 490.9h0M794.3 442.6h0M783.7 454.0h0M764.8 468.4h0M750.9 475.1h0M744.3 447.1h0M793.1 443.6h0M701.8 488.2h0M723.4 486.5h0M766.2 468.6h0" stroke="#69c33b" stroke-width="3.8" stroke-linecap="round" fill="none"/>
<path d="M781.1 456.6h0M717.3 491.5h0M795.5 444.1h0M743.2 480.6h0M760.9 435.7h0M758.4 440.7h0M782.7 455.5h0M788.0 450.1h0M764.9 469.6h0M720.5 495.0h0M772.1 462.9h0M743.1 481.9h0M797.3 437.5h0M794.6 427.0h0M711.0 491.1h0M720.8 492.2h0M781.3 450.8h0M735.2 454.1h0M746.3 480.7h0M721.2 464.6h0M762.4 468.9h0M714.4 489.8h0M785.1 452.7h0M758.1 471.4h0M734.6 456.4h0M712.0 476.9h0M733.5 482.9h0M707.1 482.7h0M792.3 440.6h0M755.9 473.4h0M766.2 464.3h0M718.3 491.5h0M776.2 462.2h0M729.8 458.3h0M754.5 473.1h0M786.9 445.6h0M760.0 471.6h0M789.7 446.6h0M777.5 458.5h0M719.8 491.4h0M772.4 459.1h0M708.0 482.1h0M781.4 455.0h0M764.5 466.6h0M711.6 488.3h0M750.9 474.4h0M741.3 483.5h0M768.4 461.9h0M711.3 491.7h0M774.3 461.3h0M750.1 475.7h0M725.8 463.5h0M723.2 461.9h0M779.8 454.7h0M718.7 467.4h0M731.2 485.3h0M793.4 445.6h0M711.7 477.4h0M787.7 428.7h0M716.7 469.6h0M732.8 487.2h0M795.4 433.7h0M734.6 485.7h0M728.7 460.0h0M703.6 488.0h0M734.9 483.2h0M702.1 485.1h0M755.3 441.6h0M703.6 485.0h0M783.4 451.8h0M722.5 488.3h0M779.8 430.8h0M791.2 444.1h0M740.6 479.3h0M710.3 477.7h0M735.6 484.9h0M796.9 433.5h0M795.3 430.1h0M778.8 431.6h0M763.5 466.4h0M713.0 478.1h0M774.1 461.7h0M777.4 455.0h0M721.4 464.1h0M735.7 483.4h0M727.9 460.5h0M737.4 482.4h0M724.9 484.7h0M763.5 468.4h0M782.7 431.6h0M762.7 470.1h0M737.5 483.3h0M736.9 483.6h0M789.7 430.4h0M729.2 485.0h0M733.1 458.6h0M736.6 482.6h0M706.5 484.8h0M728.0 460.2h0M707.6 486.4h0M774.1 432.7h0M721.3 464.6h0M729.2 487.2h0M787.1 444.8h0M708.7 481.3h0M721.1 488.0h0M771.6 435.7h0M763.1 468.2h0M785.5 448.3h0M794.8 431.9h0M757.4 468.5h0M728.2 460.3h0M733.6 486.7h0M711.6 489.9h0M706.9 486.9h0M732.1 457.5h0M785.8 431.1h0M768.6 434.7h0M752.9 474.7h0M792.7 441.2h0M719.6 487.6h0M781.5 430.3h0M745.1 478.7h0M761.4 471.2h0M720.6 486.2h0M791.3 441.0h0M747.2 478.3h0M787.2 448.0h0M719.7 489.1h0M779.5 456.9h0M726.5 459.3h0M763.1 467.4h0M705.3 488.3h0M794.4 432.9h0M716.1 472.2h0M766.1 468.3h0M754.2 440.9h0M789.2 430.5h0M749.1 474.3h0M753.4 445.4h0M708.4 488.4h0" stroke="#77c838" stroke-width="3.8" stroke-linecap="round" fill="none"/>
<path d="M791.6 440.4h0M747.8 447.8h0M789.9 442.6h0M739.8 483.3h0M768.3 465.8h0M737.4 483.6h0M749.7 477.0h0M723.3 487.8h0M777.3 431.7h0M785.6 451.7h0M777.7 456.7h0M742.1 478.9h0M738.6 482.7h0M777.9 457.8h0M793.0 438.5h0M738.1 452.9h0M736.9 481.7h0M764.9 465.0h0M761.7 469.0h0M793.2 430.5h0M780.7 455.4h0M793.4 437.2h0M751.7 473.6h0M755.2 471.9h0M716.7 472.2h0M766.2 467.7h0M756.2 443.0h0M706.4 484.3h0M745.4 480.0h0M712.4 473.8h0M736.1 485.8h0M765.5 465.6h0M790.5 445.6h0M770.5 461.0h0M709.6 482.2h0M767.3 462.8h0M779.4 453.4h0M789.4 429.5h0M715.1 471.6h0M705.9 486.1h0M747.3 448.2h0M736.0 485.8h0M796.8 432.8h0M708.2 488.5h0M796.4 436.4h0M782.4 451.1h0M740.0 479.9h0M799.6 428.7h0M773.1 459.7h0M732.0 483.6h0M763.4 468.1h0M789.3 445.9h0M726.3 486.8h0M794.4 439.1h0M781.8 451.5h0M791.2 442.0h0M763.5 465.9h0M739.7 452.9h0M785.8 447.7h0M774.1 457.2h0M746.4 475.0h0M709.1 488.3h0M712.0 489.1h0M731.4 482.4h0M769.8 435.6h0M778.0 456.2h0M766.5 436.2h0M702.5 481.6h0M781.7 451.9h0M771.8 462.3h0M722.0 464.6h0M714.6 476.6h0M708.4 483.4h0M707.1 481.1h0M798.5 437.1h0M737.1 454.2h0M735.7 483.7h0M793.8 443.5h0M713.2 472.5h0M761.2 466.8h0M756.2 473.5h0M756.0 470.9h0M736.5 482.1h0M763.5 439.6h0M793.2 441.7h0M742.1 479.5h0M768.4 462.5h0M711.6 476.7h0M783.1 447.9h0M759.4 439.1h0M731.6 483.1h0M790.0 427.8h0M788.4 442.4h0M748.4 476.1h0M772.8 433.4h0M778.4 453.2h0M753.3 472.3h0M719.1 486.5h0M729.4 485.2h0M791.6 434.7h0M740.9 479.2h0M763.7 466.5h0M787.8 428.8h0M758.3 470.2h0M771.2 462.6h0M762.2 438.9h0M769.3 435.6h0M756.0 472.0h0M731.1 460.0h0M748.0 475.0h0M707.4 483.5h0M744.8 451.1h0M789.0 431.4h0M720.8 488.0h0M735.1 483.1h0M707.3 480.1h0M713.3 472.1h0M757.8 471.0h0M710.2 482.1h0M778.1 459.4h0M740.1 451.3h0M748.9 476.6h0M764.1 439.0h0M766.9 438.0h0M785.1 447.7h0M725.9 463.1h0M710.9 486.4h0M791.3 438.5h0M793.9 434.2h0M762.1 468.2h0M727.0 485.1h0M707.5 480.0h0" stroke="#90ce33" stroke-width="3.8" stroke-linecap="round" fill="none"/>
<path d="M755.1 471.1h0M765.0 467.8h0M780.8 431.5h0M747.8 473.4h0M707.7 487.6h0M758.4 470.3h0M715.5 470.5h0M763.8 466.0h0M748.6 448.0h0M711.9 480.0h0M716.9 490.9h0M764.5 466.2h0M713.2 483.5h0M722.8 487.0h0M793.1 434.1h0M752.2 474.2h0M751.4 473.2h0M715.7 487.4h0M749.0 445.5h0M791.9 440.8h0M793.2 439.8h0M751.2 472.4h0M714.5 488.8h0M752.0 441.7h0M761.8 465.8h0M742.0 480.1h0M770.8 460.6h0M721.6 486.2h0M760.0 467.5h0M756.2 470.1h0M745.6 480.1h0M709.5 490.9h0M793.1 434.5h0M742.6 477.4h0M733.2 484.7h0M790.5 440.6h0M736.6 481.9h0M734.2 485.2h0M764.1 465.5h0M785.3 430.0h0M731.9 456.6h0M721.5 463.7h0M776.9 461.1h0M758.9 467.3h0M727.8 486.9h0M752.6 473.3h0M729.8 458.3h0M710.8 479.9h0M704.0 489.0h0M786.7 447.6h0M739.0 480.0h0M793.8 437.9h0M733.8 483.3h0M729.7 482.9h0M715.7 475.0h0M792.9 435.2h0M710.9 481.0h0M716.4 474.5h0M712.6 477.7h0M711.8 481.3h0M781.6 455.1h0M780.0 453.4h0M783.7 448.4h0M739.0 480.7h0M734.1 482.1h0M740.7 480.5h0M782.6 449.5h0M751.3 475.3h0M716.6 488.8h0M708.5 486.4h0M742.4 452.8h0M731.5 459.3h0M786.2 428.9h0M767.9 462.0h0M726.4 485.4h0M766.8 464.8h0M754.3 444.2h0M779.9 432.7h0M754.2 443.7h0M726.4 486.7h0M787.2 431.6h0M795.3 438.4h0M721.2 486.9h0M741.2 450.9h0M709.2 481.6h0M722.0 485.3h0M727.3 463.3h0M720.9 486.2h0M715.3 477.1h0M722.2 467.2h0M718.9 485.3h0M785.3 447.3h0M718.1 471.1h0M711.3 487.9h0M723.5 484.8h0M761.7 441.1h0M741.9 478.7h0M732.1 483.5h0M775.2 457.9h0M742.8 477.6h0M758.5 441.9h0M719.8 469.3h0M712.5 475.4h0M772.7 456.2h0M740.1 480.2h0M769.2 438.2h0M777.9 455.1h0M739.7 480.0h0M740.9 478.8h0M791.8 432.9h0M714.8 487.4h0M707.9 486.3h0M709.5 479.8h0M789.3 431.7h0M724.9 485.7h0M709.6 484.1h0M785.2 444.5h0M767.5 463.9h0M713.2 478.2h0M713.0 489.7h0M777.8 454.1h0M788.7 433.1h0M759.0 469.9h0M712.2 477.4h0M786.7 432.4h0M788.1 446.4h0M787.5 442.1h0M749.2 474.4h0M721.9 469.9h0M738.7 482.4h0M707.8 489.0h0M777.2 455.6h0M785.6 446.4h0M733.6 483.8h0M776.7 433.9h0M731.1 483.8h0M709.1 484.3h0M752.6 473.4h0M788.2 431.6h0M737.9 480.4h0M743.3 452.1h0M723.9 486.1h0M768.7 460.0h0M754.8 471.3h0M745.8 476.8h0M712.5 478.3h0M776.3 434.6h0M767.8 462.0h0M742.8 479.8h0M712.7 487.2h0M755.2 444.0h0M708.8 484.2h0M761.3 467.0h0" stroke="#aad52d" stroke-width="3.8" stroke-linecap="round" fill="none"/>
<path d="M723.4 485.9h0M727.8 484.8h0M758.5 443.3h0M742.5 452.5h0M790.4 441.5h0M771.7 459.7h0M792.4 433.7h0M791.1 443.7h0M791.0 436.1h0M792.0 438.9h0M778.2 431.6h0M757.8 469.9h0M794.6 434.0h0M789.0 443.2h0M722.2 467.3h0M783.7 450.1h0M751.0 472.4h0M780.0 453.5h0M735.7 458.0h0M724.1 486.0h0M774.9 454.2h0M775.0 434.2h0M733.8 483.4h0M736.0 456.4h0M711.0 480.7h0M753.7 469.8h0M790.6 441.5h0M791.2 435.0h0M767.3 466.3h0M788.3 443.5h0M710.6 486.9h0M728.5 486.0h0M732.6 458.8h0M743.6 449.8h0M790.6 437.2h0M717.5 487.1h0M709.7 481.3h0M736.8 478.8h0M718.4 487.2h0M791.7 436.4h0M779.0 453.7h0M732.3 457.6h0M793.5 440.4h0M734.1 480.3h0M725.1 486.0h0M757.2 442.7h0M715.3 488.4h0M773.0 457.8h0M784.7 446.3h0M783.6 432.5h0M736.5 455.9h0M791.5 435.6h0M759.7 443.7h0M713.5 476.7h0M733.4 459.1h0M788.7 431.8h0M721.5 467.6h0M738.3 479.8h0M763.9 463.6h0M728.5 458.9h0M766.6 462.8h0M714.6 487.5h0M781.0 452.0h0M784.3 447.3h0M763.4 441.5h0M786.7 445.7h0M787.8 444.5h0M728.9 484.8h0M774.5 435.5h0M743.8 476.5h0M748.3 472.9h0M758.1 468.3h0M709.8 482.2h0M729.0 460.2h0M709.2 487.5h0M787.2 446.3h0M712.6 486.6h0M739.3 477.9h0M729.6 460.9h0M749.1 472.6h0M764.1 439.8h0M744.0 476.8h0M775.8 434.6h0M790.7 439.8h0M719.0 471.9h0M717.2 490.4h0M717.2 487.2h0M790.7 437.4h0M712.9 487.5h0M779.0 449.3h0M786.9 448.7h0M737.6 480.3h0M728.7 462.5h0M774.2 457.4h0M722.3 486.9h0M740.8 454.4h0M770.9 458.4h0M727.7 485.5h0M761.8 465.9h0M718.8 469.4h0M730.4 483.0h0M791.2 432.9h0M788.3 444.3h0M789.9 444.2h0M752.8 446.4h0M727.2 464.1h0M718.6 469.7h0M715.4 486.5h0M713.5 487.7h0M732.8 484.0h0M772.6 437.2h0M714.9 480.9h0M738.9 478.3h0M751.9 446.8h0M756.7 469.0h0M745.3 477.2h0M770.0 461.0h0M778.0 452.6h0M792.6 432.8h0M724.7 465.8h0M732.3 482.3h0M708.4 483.8h0M759.9 443.3h0M768.2 463.1h0M739.4 453.5h0M752.9 444.2h0M732.8 481.2h0M786.7 445.2h0M762.3 466.3h0M767.3 461.1h0M784.2 432.5h0M773.2 459.8h0M778.6 452.2h0M782.5 448.8h0M710.7 478.8h0M739.5 454.7h0M752.6 470.7h0M733.9 482.9h0M727.4 486.1h0M757.1 446.5h0M781.0 433.8h0M783.7 449.7h0M788.7 440.1h0" stroke="#c5dc28" stroke-width="3.8" stroke-linecap="round" fill="none"/>
<path d="M775.9 434.5h0M751.7 471.1h0M714.3 477.6h0M734.7 482.4h0M721.3 484.1h0M708.7 486.1h0M728.8 483.8h0M781.9 434.1h0M732.1 460.1h0M774.4 435.0h0M715.9 484.8h0M733.5 481.6h0M714.6 480.2h0M716.9 474.0h0M716.8 475.0h0M779.5 453.6h0M734.9 482.0h0M711.6 481.1h0M788.3 445.8h0M728.4 462.0h0M759.4 442.8h0M753.9 445.4h0M734.2 483.2h0M743.3 475.6h0M769.5 438.2h0M773.7 458.7h0M743.0 477.7h0M737.2 457.6h0M783.1 448.9h0M728.8 464.3h0M763.2 439.7h0M780.3 451.9h0M753.4 473.2h0M766.6 439.2h0M750.7 447.6h0M732.5 481.3h0M729.3 483.6h0M791.5 437.3h0M711.2 486.2h0M765.5 462.0h0M761.6 441.4h0M717.7 471.5h0M727.1 484.1h0M773.2 437.1h0M763.8 464.3h0M739.4 480.1h0M713.7 486.4h0M724.2 466.0h0M724.3 468.6h0M774.7 454.8h0M778.4 433.5h0M779.3 435.5h0M775.7 456.6h0M785.5 447.5h0M792.4 437.7h0M722.6 467.3h0M770.5 459.5h0M737.4 458.4h0M712.0 483.0h0M791.4 434.5h0M763.6 464.6h0M773.5 458.2h0M780.2 453.2h0M775.4 432.6h0M788.6 442.9h0M711.4 480.1h0M714.7 485.4h0M760.8 442.3h0M768.9 462.6h0M786.5 433.0h0M723.7 465.8h0M775.1 455.6h0M746.7 450.6h0M719.7 487.6h0M770.3 457.7h0M721.6 484.3h0M725.6 484.9h0M722.7 485.3h0M767.2 461.7h0M748.8 450.5h0M729.7 482.9h0M788.7 442.2h0M788.8 438.5h0M748.7 474.1h0M711.9 480.3h0M714.8 486.0h0M706.6 485.0h0M728.5 466.6h0M746.5 472.5h0M717.2 487.1h0M739.0 456.8h0M783.1 434.3h0M744.2 476.4h0M752.6 448.2h0M709.9 487.5h0M729.5 483.0h0M716.0 473.5h0M713.5 486.9h0M787.6 442.0h0M729.2 484.9h0M731.2 460.9h0M763.8 462.7h0M730.4 459.8h0M752.8 470.3h0M778.9 454.0h0M729.8 483.7h0M756.0 467.6h0M715.1 478.8h0M766.5 463.3h0M777.0 454.1h0M711.1 483.9h0M790.6 442.3h0M731.1 481.8h0M712.6 481.3h0M750.0 449.7h0M790.8 433.1h0M719.0 484.1h0M728.1 460.9h0M781.9 432.8h0M735.4 481.3h0M713.1 487.9h0M741.0 477.4h0M761.3 465.5h0M731.4 482.9h0M733.0 460.1h0M788.0 442.8h0M787.9 443.3h0M739.1 454.7h0M720.4 473.3h0M767.3 438.7h0" stroke="#d5df24" stroke-width="3.8" stroke-linecap="round" fill="none"/>
<path d="M740.2 454.4h0M729.6 483.8h0M789.1 442.0h0M772.5 436.5h0M755.5 445.7h0M765.2 462.7h0M710.8 484.4h0M740.1 450.7h0M716.7 485.4h0M736.6 480.2h0M783.3 446.9h0M722.4 484.2h0M767.4 459.8h0M712.5 485.8h0M768.0 461.0h0M786.1 444.2h0M745.9 473.2h0M729.8 480.6h0M787.9 434.0h0M728.9 464.2h0M729.2 462.0h0M712.0 481.3h0M735.5 458.9h0M741.8 453.4h0M715.3 475.9h0M744.0 476.0h0M788.3 440.1h0M717.1 472.0h0M746.8 474.0h0M779.2 452.1h0M790.3 435.6h0M730.4 483.4h0M733.3 479.9h0M783.8 433.6h0M760.9 464.2h0M753.8 467.9h0M790.0 434.4h0M757.8 443.8h0M718.3 472.8h0M720.0 485.0h0M738.0 457.4h0M726.5 482.7h0M709.9 482.2h0M719.5 483.5h0M729.5 482.1h0M779.9 451.2h0M731.2 462.5h0M741.8 478.0h0M733.5 482.3h0M754.6 470.8h0M718.7 473.6h0M711.8 483.4h0M775.8 434.2h0M771.5 458.2h0M711.0 485.8h0M762.3 463.5h0M751.1 449.1h0M746.6 449.7h0M714.0 476.5h0M768.3 461.3h0M721.7 467.4h0M713.4 483.0h0M756.7 466.9h0M765.0 441.7h0M732.9 461.7h0M734.6 459.8h0M776.5 435.2h0M788.6 432.1h0M756.0 444.5h0M771.8 439.7h0M785.7 446.1h0M769.7 460.1h0M758.4 443.0h0M780.4 434.0h0M727.3 467.4h0M755.2 466.7h0M715.0 476.4h0M732.1 459.5h0M787.5 440.0h0M745.7 475.0h0M751.8 447.8h0M713.3 479.8h0M762.8 463.8h0M741.6 477.6h0M716.5 472.7h0M760.3 443.4h0M723.7 484.1h0M752.9 447.8h0M751.3 470.5h0M714.6 486.5h0M743.6 453.5h0M755.7 468.4h0M769.2 458.5h0M717.8 486.6h0M790.0 438.6h0M736.3 479.1h0M775.3 455.1h0M738.1 476.7h0M777.5 454.7h0M763.1 461.8h0M783.7 446.1h0M769.2 438.2h0M765.0 441.0h0M760.4 443.4h0M741.4 452.8h0M730.9 482.3h0M741.6 478.0h0M744.9 451.8h0M746.0 453.5h0M766.2 461.2h0M787.1 439.8h0M710.9 482.3h0M718.0 473.3h0M753.6 448.4h0M758.4 444.3h0M768.5 458.8h0M756.1 444.9h0M760.9 466.4h0M787.8 442.1h0M718.3 484.4h0M761.4 444.5h0M746.7 452.9h0M764.3 460.5h0M734.6 481.8h0M785.5 444.1h0M731.4 481.2h0M775.7 435.7h0M756.5 466.9h0M790.4 433.6h0" stroke="#e0e021" stroke-width="3.8" stroke-linecap="round" fill="none"/>
<path d="M780.9 448.9h0M778.5 452.2h0M713.8 479.9h0M753.8 449.2h0M765.7 439.4h0M725.0 483.6h0M718.1 484.7h0M789.3 438.0h0M722.7 484.4h0M761.6 441.1h0M746.9 472.5h0M717.2 483.8h0M734.5 481.0h0M762.5 444.0h0M715.7 480.0h0M768.0 460.6h0M780.0 450.7h0M746.2 451.7h0M728.6 464.3h0M718.4 476.5h0M787.3 442.2h0M791.6 434.9h0M721.7 485.3h0M715.7 484.9h0M741.5 476.8h0M760.9 464.4h0M751.1 469.6h0M787.9 441.7h0M754.5 446.2h0M762.0 442.4h0M782.1 444.1h0M773.7 453.4h0M755.8 447.0h0M749.8 470.7h0M775.9 436.1h0M767.7 460.0h0M727.3 482.9h0M713.0 481.6h0M780.2 452.5h0M789.7 434.8h0M774.1 437.0h0M769.0 458.3h0M765.8 459.5h0M723.6 483.7h0M741.9 476.3h0M784.0 434.7h0M784.0 434.2h0M713.8 481.7h0M738.9 476.9h0M784.5 446.1h0M754.7 468.4h0M780.1 451.6h0M753.5 468.0h0M785.3 447.7h0M715.5 478.6h0M746.4 451.9h0M766.3 462.1h0M712.0 485.6h0M778.5 453.3h0M767.2 459.4h0M715.8 475.0h0M739.4 457.2h0M721.4 470.7h0M713.9 481.3h0M767.3 458.1h0M714.6 480.9h0M762.0 443.3h0M727.7 465.3h0M789.3 435.8h0M749.6 472.4h0M761.4 444.5h0M726.0 466.8h0M724.6 468.1h0M774.4 455.9h0M763.2 441.2h0M715.5 483.9h0M728.4 463.8h0M732.5 481.1h0M774.8 453.4h0M775.5 451.2h0M733.2 478.7h0M789.5 439.1h0M766.0 460.3h0M714.5 479.6h0M712.7 480.9h0M740.2 457.8h0M727.5 465.9h0M787.0 439.7h0M748.3 450.5h0M752.3 448.9h0M770.5 438.1h0M789.3 442.4h0M730.1 480.1h0M761.6 443.2h0M779.1 450.2h0M779.5 435.2h0M761.5 441.1h0M715.0 484.3h0M753.1 471.1h0M729.6 481.1h0M761.6 465.5h0M732.0 482.4h0M727.5 483.4h0M760.4 442.9h0M742.4 475.6h0" stroke="#ebe11e" stroke-width="3.8" stroke-linecap="round" fill="none"/>
<path d="M779.7 447.4h0M781.3 447.9h0M740.3 475.7h0M773.1 456.2h0M784.3 445.1h0M778.9 451.6h0M757.6 465.0h0M760.1 463.6h0M745.6 475.5h0M742.0 457.2h0M744.4 473.3h0M778.6 436.6h0M759.5 465.2h0M780.3 448.8h0M713.4 482.2h0M759.8 461.9h0M724.4 484.1h0M769.6 457.6h0M724.3 485.0h0M754.6 466.6h0M721.6 471.3h0M760.3 465.1h0M731.3 464.5h0M751.2 448.4h0M739.8 476.9h0M737.5 478.4h0M729.4 464.8h0M742.4 455.2h0M773.1 437.7h0M738.9 476.2h0M765.3 442.2h0M716.9 474.9h0M739.3 477.0h0M731.1 479.8h0M775.9 452.3h0M716.8 475.9h0M713.1 486.6h0M782.0 435.1h0M748.4 451.2h0M722.9 472.6h0M761.0 463.9h0M766.5 460.1h0M769.0 440.4h0M759.3 464.5h0M775.0 438.7h0M720.6 485.9h0M758.0 466.9h0M783.6 445.6h0M758.0 464.4h0M722.7 468.9h0M719.5 475.9h0M767.5 458.2h0M726.6 468.2h0M773.9 454.4h0M718.9 472.0h0M715.7 480.4h0M720.8 481.5h0M768.8 458.0h0M743.5 476.2h0M715.9 484.3h0M762.0 461.1h0M769.9 440.3h0M753.8 468.0h0M767.6 461.1h0M749.0 452.4h0M725.8 481.7h0M739.9 477.4h0M713.5 483.0h0M723.4 471.0h0M766.7 459.7h0M753.6 467.7h0M766.8 439.7h0M712.1 484.1h0M763.9 462.5h0M781.1 445.7h0M716.2 477.0h0M786.6 440.4h0M742.4 474.0h0M729.3 481.0h0M719.8 472.4h0M743.3 476.1h0M787.8 435.2h0M780.6 435.9h0M734.5 481.0h0M733.3 462.1h0M728.3 481.9h0M739.1 476.0h0M757.2 445.8h0M742.5 455.7h0M712.4 483.5h0M771.3 456.2h0M732.1 463.6h0M769.2 458.4h0M760.1 445.4h0M749.2 470.5h0M765.1 460.5h0M777.7 435.8h0M740.5 455.2h0M778.7 450.4h0M746.1 473.6h0M754.0 469.8h0M738.2 458.5h0M782.4 436.2h0M738.8 477.4h0M716.5 483.6h0M723.9 482.1h0M775.8 437.1h0M764.5 459.3h0M733.4 459.9h0M729.5 479.9h0M727.6 464.8h0M736.1 478.1h0" stroke="#f0df1e" stroke-width="3.8" stroke-linecap="round" fill="none"/>
<path d="M741.4 457.9h0M761.5 443.9h0M716.9 475.2h0M739.4 457.9h0M783.2 434.4h0M722.9 469.3h0M744.3 454.1h0M733.7 479.1h0M784.7 433.7h0M743.5 454.9h0M786.0 439.2h0M777.0 451.4h0M774.5 451.0h0M778.2 449.7h0M741.5 455.3h0M774.9 438.4h0M783.1 444.5h0M728.9 480.1h0M735.1 461.8h0M741.5 475.8h0M785.6 441.1h0M762.5 461.2h0M784.1 444.3h0M726.5 480.8h0M772.0 456.4h0M718.2 481.8h0M764.0 461.1h0M783.2 435.3h0M775.4 453.0h0M722.9 471.6h0M729.2 481.7h0M742.8 475.1h0M746.5 475.3h0M779.3 435.0h0M755.1 448.9h0M777.4 448.0h0M786.8 439.3h0M749.4 469.9h0M727.0 480.5h0M747.8 453.5h0M720.3 473.9h0M736.6 458.7h0M785.2 440.2h0M728.7 481.8h0M772.7 454.0h0M724.3 483.3h0M788.2 437.5h0M765.7 459.2h0M766.6 442.4h0M754.6 448.2h0M741.9 474.6h0M748.1 453.4h0M752.1 469.1h0M753.6 447.7h0M720.5 482.9h0M725.6 466.5h0M716.9 477.2h0M754.7 466.1h0M747.6 472.2h0M780.8 434.2h0M752.6 449.8h0M722.4 483.2h0M779.1 449.0h0M742.8 473.5h0M715.0 479.3h0M731.6 482.5h0M786.6 433.8h0M725.7 482.4h0M733.3 478.5h0M749.6 451.0h0M779.8 449.0h0M760.2 445.1h0M752.9 466.3h0M760.0 464.5h0M734.8 477.5h0M759.7 443.9h0M779.1 439.9h0M738.3 476.8h0M759.3 445.4h0M788.8 437.3h0M731.9 478.5h0M753.7 449.8h0M756.8 447.5h0M782.0 442.8h0M759.9 446.6h0M731.2 461.7h0M744.8 453.1h0M761.9 462.0h0M730.5 465.8h0M728.0 479.8h0M715.6 484.0h0M747.6 472.5h0M738.0 458.8h0M738.0 458.8h0M741.0 455.8h0M785.8 434.6h0M744.9 473.0h0M784.5 436.0h0" stroke="#f0da24" stroke-width="3.8" stroke-linecap="round" fill="none"/>
<path d="M752.2 469.5h0M772.0 439.9h0M778.1 451.3h0M717.9 475.6h0M785.8 440.0h0M730.5 480.0h0M740.9 474.4h0M715.0 482.9h0M780.3 436.7h0M743.4 472.6h0M788.0 435.3h0M786.6 442.6h0M785.0 437.4h0M733.9 478.9h0M775.7 451.0h0M770.1 457.6h0M714.9 484.9h0M717.1 483.5h0M759.6 465.2h0M757.3 446.5h0M744.6 451.7h0M718.0 476.6h0M751.3 470.6h0M723.6 472.0h0M774.9 450.1h0M751.4 469.4h0M787.3 436.8h0M736.1 477.3h0M761.4 463.0h0M775.6 438.2h0M756.5 464.4h0M723.2 483.5h0M778.3 448.9h0M765.8 460.6h0M748.1 453.3h0M713.4 483.5h0M729.7 481.2h0M736.7 476.0h0M767.0 457.5h0M740.5 474.3h0M767.2 458.2h0M735.6 477.4h0M715.5 482.2h0M759.6 464.5h0M789.1 434.8h0M729.4 465.9h0M730.6 465.2h0M772.7 455.1h0M731.2 481.6h0M724.4 471.3h0M726.3 481.9h0M760.0 446.5h0M716.9 475.1h0M786.3 436.2h0M735.5 461.3h0M736.3 478.0h0M741.3 455.5h0M733.5 478.3h0M775.5 437.6h0M748.6 453.7h0M778.3 448.4h0M787.2 436.0h0M762.5 461.2h0M717.3 477.8h0M731.4 479.0h0M751.1 468.7h0M723.5 481.5h0M784.8 440.7h0M782.9 436.8h0M718.4 482.2h0M763.9 442.9h0M739.9 478.0h0M747.1 453.5h0M758.2 445.7h0M724.1 470.8h0M787.2 437.4h0M733.6 461.7h0M755.9 465.2h0M768.2 456.5h0M728.1 467.8h0M753.6 448.1h0M746.2 453.1h0M736.3 477.5h0M765.0 459.5h0M779.7 447.5h0M741.3 474.4h0M786.1 440.1h0M776.5 438.6h0M741.4 474.0h0M718.2 477.2h0M774.5 437.9h0M732.2 479.1h0M784.9 439.1h0M749.8 468.7h0M728.4 468.0h0M737.9 477.7h0M762.6 460.4h0M779.1 435.8h0M731.8 465.1h0M741.7 474.0h0M751.3 468.0h0M769.0 456.4h0M777.7 449.4h0M785.7 439.3h0M726.8 481.3h0M734.5 463.4h0M752.1 451.6h0M719.5 474.1h0M745.2 455.0h0M781.2 435.5h0M728.5 480.9h0M783.6 442.3h0M730.5 479.0h0M762.3 462.4h0M748.3 470.3h0M744.5 472.0h0M761.7 461.4h0M758.5 464.7h0M761.1 461.0h0M772.5 454.1h0M766.8 458.0h0M744.0 473.9h0M788.3 437.2h0M778.9 448.7h0M740.1 474.4h0M776.3 452.4h0" stroke="#f0d428" stroke-width="3.8" stroke-linecap="round" fill="none"/>
<path d="M729.3 465.9h0M738.7 459.2h0M718.8 475.4h0M757.1 448.5h0M731.7 462.9h0M782.1 438.6h0M757.8 447.7h0M729.6 466.7h0M787.5 439.8h0M724.1 469.0h0M723.9 472.5h0M733.5 478.8h0M748.7 469.7h0M756.4 464.9h0M737.0 460.7h0M718.5 481.1h0M730.5 478.6h0M751.1 453.9h0M743.3 457.5h0M745.3 473.3h0M746.4 453.9h0M779.6 437.3h0M718.5 480.2h0M727.2 480.7h0M743.5 471.9h0M729.3 479.5h0M742.2 471.7h0M716.1 481.9h0M752.7 451.0h0M766.5 458.5h0M717.4 476.1h0M757.9 446.6h0M748.2 470.5h0M729.3 467.8h0M744.2 474.0h0M762.3 445.1h0M753.0 450.7h0M738.9 476.8h0M779.9 446.2h0M743.3 473.2h0M756.3 448.6h0M718.3 480.2h0M773.5 451.3h0M724.7 470.6h0M773.8 438.6h0M749.8 467.7h0M725.1 480.6h0M772.4 439.5h0M753.2 467.6h0M740.0 475.0h0M735.1 461.2h0M771.2 455.0h0M749.8 453.0h0M756.1 464.3h0M738.3 474.9h0M758.1 462.7h0M785.3 443.3h0M723.4 472.5h0M757.7 464.0h0M758.8 463.1h0M777.1 449.7h0M720.1 483.6h0M727.2 468.8h0M716.4 480.1h0M741.1 473.4h0M738.8 459.8h0M772.4 440.1h0M768.3 440.5h0M784.9 441.7h0M762.6 461.4h0M754.4 465.6h0M782.4 444.8h0M739.5 474.8h0M752.6 466.7h0M739.4 457.8h0M716.9 479.2h0M788.9 437.0h0M769.6 442.4h0M761.9 462.7h0M777.7 438.2h0M776.3 450.9h0M729.6 479.9h0M732.8 479.5h0M733.4 478.8h0M761.1 445.5h0M758.0 447.5h0M727.8 479.1h0M787.5 438.2h0M769.7 440.4h0M732.2 478.1h0M751.3 451.6h0M772.3 440.0h0M739.7 475.2h0M763.8 445.9h0M715.7 483.7h0M771.1 439.8h0M747.9 469.4h0M733.0 476.9h0M727.3 480.7h0M751.4 452.9h0M738.1 474.7h0" stroke="#f0cf2e" stroke-width="3.8" stroke-linecap="round" fill="none"/>
<path d="M745.7 472.5h0M761.4 445.0h0M742.3 458.2h0M740.9 472.8h0M737.9 475.3h0M731.7 463.5h0M722.8 475.2h0M736.0 462.1h0M757.0 448.0h0M738.8 474.9h0M783.6 442.3h0M732.6 477.7h0M719.3 481.8h0M721.2 475.9h0M766.8 443.6h0M773.0 455.0h0M748.8 453.5h0M744.4 472.9h0M750.9 468.0h0M770.4 454.3h0M762.7 444.7h0M777.2 438.8h0M761.5 446.2h0M723.5 471.7h0M779.2 447.0h0M755.6 464.5h0M719.0 478.8h0M747.3 454.2h0M760.4 445.9h0M726.5 468.2h0M775.7 450.2h0M786.8 439.7h0M785.7 438.3h0M722.6 482.9h0M776.3 450.9h0M778.9 447.5h0M735.8 459.7h0M720.3 476.1h0M732.0 478.0h0M767.9 442.4h0M735.7 463.5h0M775.6 439.0h0M721.2 476.4h0M752.1 466.3h0M732.4 477.8h0M743.3 457.2h0M777.9 447.4h0M768.2 441.7h0M733.4 476.3h0M759.9 447.5h0M752.8 451.2h0M779.9 439.1h0M755.0 465.6h0M720.5 474.7h0M782.9 438.0h0M768.4 441.6h0M724.0 471.6h0M775.6 448.6h0M776.3 441.2h0M769.6 454.6h0M726.6 470.7h0M744.2 472.9h0M771.9 441.1h0M715.9 482.1h0M749.5 453.0h0M736.8 474.8h0M784.3 443.7h0M721.9 472.5h0M772.6 453.2h0M728.6 465.4h0M749.8 451.4h0M776.1 448.5h0M775.1 439.8h0M762.1 460.3h0M784.0 438.4h0M748.0 469.1h0M737.4 475.1h0M777.2 450.9h0M771.9 455.4h0M767.3 442.8h0M781.9 441.4h0M724.7 471.7h0M778.0 449.3h0M748.8 454.1h0M724.3 472.3h0M744.4 456.0h0M750.2 452.7h0M770.3 442.0h0M784.8 436.5h0M757.0 448.8h0M742.5 457.4h0M759.6 448.6h0M783.2 443.1h0M751.2 451.5h0M719.3 479.0h0M729.5 478.8h0M725.0 479.2h0M732.2 477.4h0M726.6 470.6h0M722.0 475.7h0M747.7 469.6h0M749.2 453.7h0M719.2 480.3h0M768.6 455.0h0M725.0 479.6h0M760.2 460.4h0M726.3 471.0h0M731.1 476.4h0M787.7 437.6h0M770.6 454.0h0M723.0 479.4h0M748.0 468.3h0M721.4 478.5h0M754.9 464.1h0M733.9 463.7h0M774.8 451.0h0M755.4 449.6h0" stroke="#f0c935" stroke-width="3.8" stroke-linecap="round" fill="none"/>
<path d="M760.1 461.4h0M781.1 442.7h0M771.8 442.5h0M775.6 440.6h0M769.3 455.5h0M785.0 438.7h0M776.9 437.8h0M722.1 480.8h0M781.9 444.6h0M725.0 480.2h0M766.9 456.0h0M730.8 477.4h0M781.8 439.6h0M773.8 450.7h0M773.4 440.5h0M774.8 438.9h0M769.3 454.2h0M745.6 470.0h0M767.7 442.2h0M754.9 449.2h0M767.2 457.4h0M738.3 460.1h0M768.5 455.2h0M778.9 439.2h0M773.6 452.2h0M777.7 438.7h0M746.5 470.3h0M718.7 481.5h0M719.1 478.9h0M719.2 479.5h0M777.2 438.7h0M724.6 481.1h0M758.0 449.6h0M740.3 474.4h0M775.0 440.2h0M768.4 441.8h0M749.0 467.8h0M733.2 476.2h0M733.6 476.7h0M787.8 435.9h0M779.8 439.1h0M751.0 452.8h0M779.5 440.5h0M718.8 476.6h0M753.3 450.6h0M738.4 460.5h0M734.6 476.8h0M722.6 474.5h0M722.6 481.2h0M729.3 476.2h0M745.6 456.1h0M731.3 479.4h0M744.2 470.9h0M772.6 453.4h0M739.3 460.7h0M761.6 459.3h0M763.2 458.7h0M718.2 479.2h0M734.3 464.5h0M737.1 460.7h0M780.0 445.6h0M745.7 455.9h0M719.5 479.5h0M727.6 468.9h0M767.7 455.9h0M751.9 451.5h0M773.4 450.5h0M728.0 469.4h0M778.9 439.8h0M756.2 463.3h0M755.2 463.7h0M730.8 466.1h0M751.3 467.6h0M749.2 454.2h0M770.4 454.3h0M732.7 465.4h0M770.1 441.8h0M739.2 459.7h0M762.6 460.1h0M753.7 450.6h0M762.4 458.3h0M778.7 438.6h0M722.7 480.4h0M752.5 465.3h0M746.5 470.2h0M762.4 445.1h0M718.5 478.1h0M737.5 475.0h0M775.0 450.5h0M735.3 474.9h0M723.8 478.4h0M769.8 442.7h0M761.9 459.3h0M738.6 460.8h0M731.8 475.5h0M758.4 463.7h0M728.1 469.4h0M768.1 455.1h0M748.1 453.9h0M724.6 479.3h0M721.1 480.0h0M779.6 438.8h0M737.8 475.5h0M756.7 462.0h0M718.2 481.3h0M746.9 469.4h0M781.1 438.0h0M726.3 469.9h0M719.2 481.1h0M730.0 467.9h0M747.5 455.7h0M762.0 446.6h0M757.8 463.1h0M742.2 459.1h0M749.4 452.1h0M730.3 466.9h0M729.1 480.1h0M733.8 463.8h0M734.9 478.1h0M743.0 457.3h0M776.5 446.7h0M735.2 476.4h0M722.2 479.1h0" stroke="#f0c23f" stroke-width="3.8" stroke-linecap="round" fill="none"/>
<path d="M724.2 472.4h0M785.8 438.8h0M763.3 445.8h0M724.7 479.7h0M754.7 464.6h0M780.4 439.2h0M760.2 447.5h0M728.8 477.8h0M765.1 443.7h0M752.5 465.3h0M749.8 468.4h0M751.2 466.5h0M743.8 458.8h0M723.6 471.3h0M742.7 472.2h0M754.0 464.4h0M733.6 476.5h0M728.6 467.4h0M778.1 446.8h0M728.3 469.0h0M724.7 472.5h0M755.7 450.8h0M769.0 453.3h0M763.3 458.4h0M721.8 479.0h0M758.6 448.8h0M753.5 450.8h0M758.1 461.4h0M735.3 475.1h0M735.3 463.9h0M739.9 459.2h0M724.6 477.9h0M752.0 452.6h0M737.7 473.7h0M781.5 438.2h0M770.8 454.1h0M777.3 440.0h0M726.5 477.1h0M723.4 474.6h0M781.3 437.4h0M727.0 470.4h0M781.6 442.5h0M770.6 452.1h0M729.7 476.3h0M737.0 462.2h0M780.5 443.8h0M763.8 457.3h0M748.0 469.2h0M766.7 455.8h0M770.8 454.1h0M726.3 469.9h0M734.8 464.1h0M755.5 463.9h0M722.2 478.6h0M779.3 442.1h0M765.2 444.8h0M757.5 450.2h0M743.2 471.9h0M771.5 441.6h0M760.8 460.7h0M721.4 477.8h0M735.6 477.2h0M739.1 459.4h0M770.4 444.2h0M742.3 471.5h0M750.4 454.4h0M735.1 464.9h0M738.2 473.7h0M734.4 475.9h0M776.2 447.2h0M756.5 449.7h0M726.2 479.8h0M732.1 477.2h0M762.1 445.7h0M777.6 439.1h0M763.0 446.4h0M746.3 455.8h0M720.9 476.8h0M735.7 475.4h0M777.6 447.5h0M766.9 443.0h0M781.3 441.0h0M748.8 454.8h0M742.4 458.3h0M731.7 476.5h0M760.6 460.0h0M732.9 477.2h0M731.1 476.8h0M746.7 467.7h0M774.1 449.9h0M756.3 462.8h0M745.9 454.5h0M718.9 481.4h0M758.6 461.8h0M755.6 462.5h0" stroke="#f0bc49" stroke-width="3.8" stroke-linecap="round" fill="none"/>
<path d="M728.3 470.4h0M738.0 462.1h0M720.5 478.1h0M776.8 444.3h0M727.3 470.1h0M769.2 442.7h0M729.7 476.7h0M745.5 470.7h0M757.5 461.6h0M759.5 448.7h0M746.3 455.6h0M750.6 466.3h0M718.7 478.9h0M724.0 478.9h0M721.7 479.1h0M772.3 451.9h0M755.9 463.6h0M767.8 454.3h0M776.1 448.5h0M766.0 457.4h0M746.9 456.5h0M769.3 454.2h0M765.7 457.0h0M760.1 460.1h0M770.5 454.2h0M736.9 474.1h0M727.3 471.0h0M756.0 463.0h0M754.7 463.7h0M725.6 477.9h0M770.0 454.2h0M752.6 453.2h0M768.5 454.0h0M746.5 469.9h0M780.3 444.0h0M726.3 479.8h0M762.4 446.3h0M732.3 476.9h0M751.5 454.0h0M763.1 458.4h0M726.1 478.5h0M735.5 475.7h0M757.2 462.3h0M762.9 458.8h0M740.6 460.0h0M736.7 473.6h0M723.2 479.8h0M745.7 471.2h0M777.9 440.6h0M763.3 445.4h0M724.8 478.5h0M767.9 444.5h0M760.7 447.3h0M724.5 479.0h0M737.2 462.7h0M759.3 448.4h0M771.7 450.5h0M740.6 472.0h0M773.8 441.7h0M764.7 445.0h0M740.1 474.0h0M759.8 459.7h0M756.6 462.8h0M777.5 446.1h0M762.6 459.2h0M771.3 453.2h0M764.0 445.5h0M719.6 478.9h0M750.9 466.5h0M765.2 446.5h0M774.5 442.0h0M749.3 467.0h0M728.4 477.3h0M729.1 468.8h0M753.3 465.7h0M742.0 471.5h0M760.7 461.2h0M735.4 475.8h0M743.9 470.2h0M745.2 469.3h0M772.9 450.7h0M751.4 466.3h0M770.0 443.8h0M756.0 464.5h0M771.0 453.5h0M736.4 474.0h0M763.1 458.0h0M722.4 478.8h0M737.9 473.0h0M730.7 467.1h0M762.3 447.7h0M762.8 447.2h0M748.8 453.5h0M781.0 443.2h0M763.6 458.0h0M765.1 456.0h0M738.9 472.8h0" stroke="#f0b553" stroke-width="3.8" stroke-linecap="round" fill="none"/>
<path d="M779.7 439.3h0M740.5 472.4h0M733.8 465.2h0M780.2 444.5h0M782.3 440.2h0M743.0 458.4h0M740.3 471.8h0M723.1 475.0h0M733.8 464.6h0M777.6 440.9h0M780.6 440.0h0M730.1 468.2h0M724.7 473.6h0M723.0 479.8h0M732.0 467.2h0M733.2 466.8h0M729.8 468.3h0M722.1 478.7h0M745.5 456.5h0M775.6 446.8h0M773.3 451.7h0M769.9 451.6h0M726.3 470.8h0M781.5 441.2h0M781.3 439.4h0M757.7 461.0h0M751.7 454.5h0M749.6 455.9h0M726.2 472.9h0M780.3 445.0h0M737.6 473.1h0M750.4 455.7h0M773.1 449.3h0M758.7 460.9h0M753.2 465.7h0M754.9 463.8h0M738.5 472.8h0M766.8 453.0h0M720.1 478.6h0M777.9 440.6h0M733.2 465.2h0M742.3 471.1h0M738.5 473.3h0M779.1 442.7h0M760.6 447.5h0M746.4 468.2h0M766.9 444.8h0M763.7 457.7h0M725.9 474.0h0M757.7 449.3h0M729.6 471.0h0M752.9 451.4h0M759.2 459.8h0M723.8 475.4h0M725.7 472.0h0M757.7 459.9h0M749.2 454.6h0M743.7 469.5h0M773.1 452.6h0M776.7 443.7h0M778.9 443.0h0M752.6 465.6h0M761.4 457.8h0M750.4 454.7h0M760.5 458.1h0M777.9 443.9h0M739.2 460.8h0M765.7 446.1h0M748.7 466.8h0M724.1 473.8h0M743.8 458.5h0M760.1 459.2h0M772.4 450.0h0M771.3 442.0h0M758.8 459.7h0M722.0 479.1h0M762.9 446.3h0M777.5 445.7h0M720.3 477.5h0M779.2 440.0h0M743.3 459.4h0M761.7 456.8h0M773.6 450.2h0M734.3 475.1h0M741.3 460.8h0M730.2 468.4h0M729.5 475.6h0M735.5 464.9h0M742.6 470.4h0M754.1 464.2h0M763.5 456.9h0M746.4 467.9h0" stroke="#f0b35e" stroke-width="3.8" stroke-linecap="round" fill="none"/>
<path d="M751.2 464.3h0M761.1 447.8h0M750.7 464.7h0M723.4 474.5h0M755.5 450.9h0M748.8 455.6h0M739.2 462.6h0M763.1 446.9h0M760.4 459.8h0M762.2 459.1h0M751.5 454.4h0M783.4 438.1h0M727.8 477.9h0M769.0 444.2h0M761.1 459.0h0M764.6 447.4h0M725.3 476.4h0M729.7 477.0h0M750.8 454.4h0M754.6 462.5h0M756.6 451.3h0M765.6 456.1h0M759.9 448.9h0M777.5 444.3h0M723.2 479.1h0M741.1 460.3h0M749.8 467.5h0M773.9 449.4h0M758.5 448.2h0M753.0 463.9h0M740.9 470.5h0M771.7 442.8h0M769.5 452.5h0M763.1 447.4h0M734.8 474.7h0M727.3 471.0h0M766.8 443.8h0M748.5 465.3h0M760.9 458.9h0M759.3 450.7h0M734.2 473.9h0M728.8 470.5h0M725.3 476.3h0M760.8 458.0h0M740.8 471.8h0M754.2 462.7h0M737.9 473.3h0M748.4 454.7h0M779.5 443.9h0M739.5 472.9h0M755.8 450.8h0M726.7 478.3h0M749.9 454.3h0M741.2 471.2h0M736.2 472.4h0M774.0 448.0h0M745.9 467.9h0M762.5 447.5h0M745.1 469.2h0M753.0 461.9h0M774.5 449.5h0M777.3 441.9h0M725.5 476.2h0M723.3 474.5h0M776.0 442.0h0M722.9 475.6h0M745.8 467.6h0M752.0 463.9h0M747.9 457.2h0M754.1 453.8h0M725.3 475.4h0M728.0 476.6h0M728.2 475.9h0M766.2 446.2h0M757.5 460.8h0M730.9 475.0h0M776.4 441.0h0M753.0 453.6h0M776.8 440.6h0M753.5 453.3h0M771.6 441.7h0M725.9 478.2h0M777.2 442.0h0M774.1 442.5h0M760.5 448.8h0M736.3 473.9h0M727.9 474.7h0M730.1 476.5h0M728.4 471.6h0" stroke="#f0b46a" stroke-width="3.8" stroke-linecap="round" fill="none"/>
<path d="M732.6 474.5h0M732.5 475.7h0M769.1 451.9h0M777.4 440.6h0M775.9 441.2h0M753.5 463.0h0M732.1 475.5h0M761.3 458.9h0M775.4 443.1h0M728.4 478.2h0M738.4 471.7h0M726.1 473.0h0M749.7 456.5h0M760.8 447.3h0M750.7 453.3h0M756.5 460.7h0M764.6 457.4h0M761.3 447.2h0M739.6 462.0h0M728.1 475.9h0M735.9 472.8h0M728.2 475.6h0M765.7 454.8h0M744.1 460.5h0M754.1 453.3h0M734.1 474.7h0M752.1 466.2h0M757.1 450.6h0M771.1 449.2h0M774.8 445.7h0M738.1 472.9h0M758.2 450.0h0M759.1 449.4h0M764.9 446.1h0M761.3 456.7h0M757.5 460.9h0M748.7 455.9h0M745.2 466.6h0M765.6 455.2h0M749.9 464.4h0M763.2 456.6h0M772.2 449.3h0M734.9 473.4h0M752.5 455.2h0M769.0 449.8h0M776.6 442.8h0M745.6 459.0h0M726.3 472.9h0M766.6 452.7h0M724.1 475.8h0M744.2 459.4h0M757.0 451.1h0M756.0 453.1h0M764.7 454.0h0M766.6 454.3h0M752.5 453.3h0M743.4 460.5h0M741.5 470.5h0M768.6 444.0h0M723.7 476.5h0M761.3 448.8h0M734.5 465.9h0M752.8 463.8h0M773.0 444.2h0M777.5 442.5h0M748.1 465.2h0M754.2 461.9h0M752.5 463.5h0M761.8 449.0h0M755.5 461.0h0M759.4 459.3h0M743.7 469.9h0M766.7 453.8h0M766.1 454.4h0M731.7 468.6h0M752.3 463.1h0M771.4 450.1h0M748.6 466.0h0M749.6 455.6h0M722.6 477.5h0M769.4 450.2h0M725.2 475.7h0M776.4 443.3h0M779.5 441.3h0M740.9 461.6h0M759.5 459.4h0M778.1 443.1h0M744.5 467.8h0M763.6 455.7h0M772.1 443.4h0M726.1 474.1h0" stroke="#f0b676" stroke-width="3.8" stroke-linecap="round" fill="none"/>
<path d="M733.8 473.7h0M775.8 446.6h0M741.0 470.4h0M749.2 467.1h0M760.6 448.5h0M746.1 468.5h0M752.2 463.1h0M762.7 456.9h0M736.2 465.3h0M732.3 474.1h0M753.8 452.8h0M767.4 454.0h0M755.4 461.0h0M731.2 475.5h0M738.0 464.5h0M728.1 473.5h0M768.8 452.0h0M773.4 449.2h0M755.4 451.4h0M770.3 450.6h0M751.1 455.8h0M747.7 466.2h0M743.0 461.1h0M727.9 473.4h0M723.6 477.3h0M779.1 441.7h0M774.5 447.9h0M773.4 447.1h0M732.4 474.5h0M736.4 465.1h0M743.3 469.0h0M734.6 467.3h0M770.6 449.9h0M765.5 455.4h0M728.3 472.2h0M724.0 475.4h0M728.4 475.3h0M765.0 447.0h0M742.0 470.4h0M768.7 445.4h0M723.7 478.9h0M725.5 475.0h0M777.4 443.6h0M759.8 457.6h0M770.8 444.3h0M744.0 460.3h0M775.5 445.2h0M775.9 442.9h0M766.6 446.4h0M752.5 453.4h0M746.8 467.2h0M770.8 449.2h0M741.1 463.0h0M746.5 467.5h0M750.5 456.7h0M728.3 473.3h0M759.4 449.8h0M765.3 447.0h0M733.5 471.7h0M734.1 466.1h0M745.9 457.0h0M726.1 473.1h0M738.7 470.9h0M731.5 476.3h0M728.0 475.8h0M772.5 448.4h0M748.5 458.0h0M748.0 457.2h0M746.1 466.2h0M768.1 451.9h0M725.6 476.7h0M743.6 468.2h0M758.8 450.5h0M733.8 474.8h0M777.6 443.8h0M754.3 453.3h0M737.0 466.1h0M761.6 449.1h0M740.2 470.6h0M777.2 445.2h0" stroke="#f0b782" stroke-width="3.8" stroke-linecap="round" fill="none"/>
<path d="M726.5 473.2h0M734.9 466.0h0M752.6 455.1h0M731.3 469.8h0M727.3 475.3h0M743.6 467.8h0M726.2 476.5h0M772.6 446.6h0M749.6 456.9h0M752.1 454.8h0M763.1 448.7h0M747.0 459.0h0M753.0 462.7h0M732.3 468.2h0M745.6 468.1h0M756.6 451.9h0M768.0 446.9h0M728.3 474.8h0M768.5 452.2h0M768.8 446.4h0M744.4 467.2h0M761.0 456.6h0M766.2 447.3h0M749.9 465.0h0M734.3 467.2h0M760.1 457.7h0M742.0 468.5h0M746.2 467.4h0M752.2 455.1h0M742.6 467.3h0M769.2 444.6h0M741.5 463.8h0M728.0 476.6h0M771.5 446.6h0M776.5 443.9h0M734.7 466.8h0M738.1 464.3h0M760.2 450.8h0M745.3 466.7h0M760.5 451.2h0M745.9 459.2h0M743.6 466.6h0M735.9 467.1h0M757.0 451.0h0M760.2 450.0h0M736.5 473.2h0M774.4 444.5h0M773.2 445.4h0M738.4 470.6h0M747.1 458.4h0M764.2 456.0h0M773.7 445.8h0M728.8 472.5h0M749.8 456.2h0M738.3 464.8h0M757.8 458.7h0M746.9 458.0h0M762.1 456.6h0M731.9 473.1h0M742.8 461.2h0M734.1 472.5h0M753.9 454.5h0M733.1 468.1h0M767.8 445.5h0M746.6 467.5h0M746.0 466.7h0M770.8 450.9h0M770.3 445.2h0M747.8 460.4h0M758.2 459.9h0M766.7 452.9h0M761.5 449.9h0M760.0 449.8h0M729.3 472.7h0M732.0 469.6h0" stroke="#f0b98e" stroke-width="3.8" stroke-linecap="round" fill="none"/>
<path d="M745.1 469.3h0M732.8 469.5h0M773.8 444.0h0M760.2 458.3h0M743.0 461.6h0M742.0 463.2h0M746.6 458.3h0M771.3 443.6h0M746.9 460.1h0M773.6 445.8h0M730.0 471.9h0M746.0 466.5h0M738.6 464.7h0M732.9 473.3h0M748.2 458.8h0M739.7 469.6h0M775.3 445.9h0M765.0 448.1h0M772.3 445.5h0M754.1 461.3h0M746.5 461.0h0M749.4 456.5h0M758.7 452.0h0M765.1 448.2h0M748.4 457.1h0M769.6 446.1h0M736.5 472.1h0M740.9 462.2h0M749.3 456.5h0M759.0 457.3h0M751.1 463.8h0M730.5 473.3h0M757.1 458.0h0M740.8 463.3h0M751.5 464.0h0M742.9 461.3h0M739.9 464.5h0M732.1 470.0h0M774.9 446.5h0M751.3 463.6h0M729.4 474.2h0M744.2 461.3h0M732.3 468.7h0M739.2 471.2h0M757.6 452.1h0M764.1 453.8h0M727.7 475.5h0M753.1 456.7h0M775.2 443.7h0M732.8 473.2h0M731.3 471.2h0M750.0 463.0h0M773.4 447.5h0M734.7 469.1h0M752.9 462.1h0M729.4 475.2h0M764.8 446.7h0M728.4 474.8h0M728.1 472.4h0M730.0 472.7h0M751.6 458.3h0M744.7 465.9h0M764.3 447.8h0M769.6 451.5h0M730.3 471.5h0M775.7 443.0h0M762.7 455.6h0M774.4 446.7h0M773.8 445.2h0M733.4 472.9h0M743.1 460.4h0M755.4 451.8h0M744.5 467.3h0M729.0 471.8h0M758.6 452.4h0M742.8 466.3h0" stroke="#f0bb99" stroke-width="3.8" stroke-linecap="round" fill="none"/>
<path d="M763.5 452.5h0M754.4 453.7h0M744.2 466.5h0M764.7 449.3h0M765.2 453.9h0M740.8 464.4h0M744.4 467.4h0M764.5 453.6h0M749.5 457.0h0M763.6 454.6h0M733.0 469.1h0M729.2 473.1h0M758.9 458.5h0M740.3 464.3h0M739.1 464.5h0M772.4 446.4h0M747.4 464.2h0M771.1 446.8h0M741.3 467.9h0M744.1 460.6h0M746.9 464.3h0M752.4 462.0h0M748.7 463.1h0M746.3 464.8h0M767.0 452.2h0M741.5 462.7h0M749.8 456.9h0M772.6 448.6h0M756.1 451.9h0M740.9 463.6h0M730.0 472.9h0M738.4 464.7h0M754.7 459.2h0M751.2 462.2h0M770.0 450.4h0M767.4 447.2h0M736.2 467.9h0M771.0 446.3h0M742.5 462.1h0M745.2 465.8h0M760.5 456.9h0M772.3 447.5h0M769.2 451.2h0M752.9 456.2h0M741.0 463.6h0M735.3 466.4h0M746.1 466.9h0M729.2 474.4h0M742.2 468.1h0M762.5 450.2h0M747.1 465.7h0M748.8 463.6h0M766.5 448.3h0M734.1 471.4h0M747.5 465.7h0M765.1 454.3h0M768.0 450.8h0M768.0 451.1h0M765.8 451.9h0M748.5 463.4h0M735.1 472.0h0M756.9 453.7h0M757.7 458.6h0M733.5 473.0h0M754.8 460.2h0M745.7 460.3h0M742.2 462.0h0M738.4 465.9h0M770.1 449.0h0M734.5 468.4h0M765.8 448.6h0M753.0 456.7h0M735.3 471.3h0M764.6 449.8h0M751.2 462.3h0M771.9 447.7h0M745.8 466.6h0M745.8 464.7h0M750.6 463.4h0M730.8 472.3h0" stroke="#f1c0a2" stroke-width="3.8" stroke-linecap="round" fill="none"/>
<path d="M740.0 467.8h0M743.9 463.4h0M768.3 446.8h0M765.9 448.7h0M737.5 465.4h0M744.8 461.0h0M749.2 462.8h0M739.9 462.8h0M740.9 468.3h0M745.2 461.7h0M746.3 459.4h0M734.5 469.8h0M774.4 445.6h0M771.9 446.6h0M734.5 467.8h0M748.0 458.3h0M762.4 454.9h0M749.4 457.4h0M762.8 454.7h0M747.7 465.0h0M768.2 450.7h0M760.9 456.1h0M747.5 464.5h0M752.6 456.7h0M756.9 453.3h0M765.1 448.3h0M735.5 469.8h0M764.5 452.3h0M747.9 464.3h0M746.0 461.0h0M761.8 451.2h0M771.1 445.9h0M732.8 468.9h0M751.2 457.4h0M770.4 448.5h0M732.0 474.9h0M751.8 462.0h0M745.6 465.0h0M769.3 448.8h0M734.2 472.0h0M762.4 454.5h0M742.2 462.2h0M750.5 459.8h0M747.8 459.3h0M739.9 469.1h0M769.3 449.5h0M756.8 459.1h0M745.2 466.4h0M772.1 447.1h0M757.4 453.2h0M750.5 457.7h0M736.4 466.1h0M733.8 469.5h0M736.3 469.3h0M736.0 468.4h0M735.8 467.3h0M761.5 451.8h0M756.5 457.4h0M734.4 469.4h0M749.1 459.1h0M749.2 462.6h0" stroke="#f1c5ac" stroke-width="3.8" stroke-linecap="round" fill="none"/>
<path d="M749.9 462.1h0M760.0 456.8h0M738.1 467.7h0M732.8 472.2h0M773.3 446.8h0M763.3 448.8h0M753.0 461.6h0M768.1 447.7h0M735.8 469.8h0M773.0 447.3h0M771.7 447.4h0M741.2 467.8h0M762.3 450.2h0M747.6 459.6h0M746.9 462.7h0M750.6 461.6h0M756.2 459.8h0M741.9 464.2h0M743.3 464.3h0M734.6 471.9h0M739.2 465.1h0M761.2 455.4h0M769.1 449.4h0M734.5 467.7h0M733.6 467.5h0M766.0 451.5h0M736.5 470.4h0M743.0 468.3h0M754.4 455.5h0M742.1 463.4h0M766.2 451.0h0M745.8 464.2h0M771.3 447.2h0M756.9 455.3h0M755.8 458.9h0M742.7 462.9h0M744.7 462.6h0M756.2 458.3h0M767.7 449.8h0M763.0 452.8h0M743.4 463.4h0M748.6 459.3h0M758.4 453.6h0M749.3 463.2h0M768.8 447.0h0M737.0 465.9h0M756.9 453.7h0M766.2 450.1h0M762.9 453.3h0M745.6 464.3h0M761.4 451.0h0M732.3 470.9h0M760.5 452.9h0M758.2 453.0h0M774.3 445.4h0M741.1 465.3h0M770.5 447.3h0M741.8 468.1h0M764.2 451.4h0M763.5 450.6h0M767.9 447.4h0M736.9 466.0h0M756.9 453.6h0M737.0 468.0h0M769.8 449.5h0M755.4 455.1h0M750.8 460.6h0M740.9 464.8h0M733.0 471.1h0M762.0 450.7h0M752.5 457.0h0M746.8 464.3h0M755.2 458.2h0M756.5 458.3h0M755.4 460.8h0M765.0 449.1h0" stroke="#f1c9b6" stroke-width="3.8" stroke-linecap="round" fill="none"/>
<path d="M749.8 458.8h0M735.2 469.9h0M754.8 454.7h0M735.7 470.4h0M755.4 457.7h0M764.8 452.4h0M762.0 451.5h0M736.8 469.7h0M759.4 453.4h0M763.1 452.2h0M764.0 451.2h0M751.1 458.0h0M737.2 469.4h0M744.8 461.8h0M769.9 447.9h0M768.5 448.7h0M761.7 452.5h0M753.5 460.7h0M765.2 452.3h0M753.8 458.4h0M763.3 453.1h0M745.9 462.9h0M740.1 468.8h0M742.1 465.9h0M745.4 460.7h0M754.2 459.2h0M739.8 467.1h0M744.4 466.3h0M755.8 455.5h0M768.9 446.6h0M745.6 463.8h0M766.2 449.5h0M754.3 456.2h0M762.7 450.7h0M765.2 451.6h0M747.5 460.1h0M733.6 471.9h0M758.4 454.7h0M761.4 455.7h0M751.3 458.2h0M745.0 463.9h0M743.5 464.9h0M750.2 459.3h0M751.8 460.5h0M749.3 461.7h0M762.1 452.8h0M770.0 447.6h0M753.8 457.3h0M768.8 448.5h0M751.3 458.3h0M742.7 462.8h0M742.2 464.2h0M754.9 459.0h0M757.8 456.5h0M761.1 451.3h0M759.1 457.7h0M753.5 455.9h0M749.1 462.0h0M737.2 468.9h0M743.4 462.6h0M743.7 461.9h0M746.9 460.6h0" stroke="#f2cebf" stroke-width="3.8" stroke-linecap="round" fill="none"/>
<path d="M765.5 450.8h0M749.4 463.2h0M758.1 452.4h0M747.9 463.2h0M751.0 456.9h0M759.9 453.6h0M750.0 458.7h0M754.5 458.1h0M762.6 451.3h0M733.0 470.9h0M757.8 454.4h0M737.5 468.3h0M759.3 452.8h0M752.6 457.5h0M750.4 459.2h0M752.5 458.6h0M739.8 466.5h0M756.5 456.5h0M762.5 453.6h0M734.6 471.6h0M771.5 446.7h0M753.6 456.8h0M759.0 453.1h0M740.1 466.6h0M754.5 458.1h0M753.7 461.7h0M751.9 458.7h0M750.0 460.7h0M767.7 450.1h0M756.5 455.0h0M750.5 460.0h0M765.1 449.2h0M761.8 453.1h0M742.6 465.1h0M736.0 468.5h0M759.7 455.6h0M752.0 458.2h0M752.4 458.0h0M762.1 451.5h0M753.7 457.0h0M761.7 450.9h0M754.4 457.0h0M739.3 467.4h0M750.0 460.0h0M753.7 460.0h0M747.2 463.1h0M757.9 454.9h0M738.4 467.0h0M735.4 468.9h0M762.9 453.0h0M752.9 459.5h0M742.7 466.2h0M744.9 464.9h0M743.3 465.5h0M748.1 460.3h0M766.8 451.6h0M740.5 467.1h0" stroke="#f3d5cb" stroke-width="3.8" stroke-linecap="round" fill="none"/>
<path d="M766.4 450.4h0M756.8 457.1h0M738.7 468.1h0M755.8 458.4h0M761.2 452.8h0M746.1 464.7h0M751.7 459.8h0M751.6 460.8h0M752.2 459.4h0M764.1 449.7h0M749.6 459.7h0M756.4 453.4h0M766.5 450.0h0M763.2 453.0h0M757.8 453.5h0M735.6 469.3h0M753.0 458.6h0M745.8 462.5h0M751.7 458.0h0M746.8 463.4h0M742.5 466.5h0M754.2 456.8h0M755.3 457.0h0M740.7 466.1h0M747.1 462.4h0M738.8 468.8h0M761.3 454.0h0M764.0 451.8h0M740.4 466.4h0M744.3 463.0h0M754.4 456.7h0M755.5 457.4h0M763.3 451.2h0M751.8 458.2h0M755.4 456.1h0M763.1 449.8h0M752.5 458.9h0M757.8 456.0h0M745.2 463.9h0M762.9 451.0h0M753.7 456.6h0M750.7 460.0h0M754.5 458.2h0M751.9 460.6h0M739.6 468.1h0M756.9 456.1h0M745.2 463.5h0M761.3 453.1h0M761.2 453.6h0M758.9 454.8h0M745.8 462.5h0M752.1 458.2h0M754.3 458.0h0M741.5 465.9h0M767.5 449.3h0M744.5 464.5h0M753.3 458.1h0M752.9 459.7h0M758.2 454.5h0M751.9 458.7h0M736.1 468.4h0M755.2 458.1h0M751.0 460.3h0M743.3 465.1h0M761.0 453.4h0M755.4 456.7h0M748.5 461.4h0M749.3 460.3h0M747.8 462.0h0" stroke="#f5ded8" stroke-width="3.8" stroke-linecap="round" fill="none"/>
<line x1="635.3" y1="526.9" x2="847.4" y2="411.7" stroke="#000" stroke-width="2"/>
</g>
<g stroke="#111" stroke-width="1.8" fill="none">
<path d="M348.2,413.5 L348.2,551.3 M340.3,551.3 L557.2,551.3"/>
<line x1="343" y1="413.5" x2="348.2" y2="413.5"/>
<line x1="343" y1="450.3" x2="348.2" y2="450.3"/>
<line x1="343" y1="487.2" x2="348.2" y2="487.2"/>
<line x1="343" y1="524.3" x2="348.2" y2="524.3"/>
<line x1="393.4" y1="551.3" x2="393.4" y2="557.7"/>
<line x1="448.4" y1="551.3" x2="448.4" y2="557.7"/>
<line x1="504.2" y1="551.3" x2="504.2" y2="557.7"/>
</g>
<g font-size="15" fill="#231f20" text-anchor="end">
<text x="341.5" y="418.5">8</text>
<text x="341.5" y="455.3">4</text>
<text x="341.5" y="492.2">0</text>
<text x="341.5" y="529.3">−4</text>
</g>
<g font-size="14.5" fill="#4d4d4d" text-anchor="middle">
<text x="393.4" y="573.2">−5</text>
<text x="448.4" y="573.2">0</text>
<text x="504.2" y="573.2">5</text>
</g>
<g font-size="15.5" fill="#231f20" text-anchor="middle">
<text transform="translate(320.6,471.8) rotate(-90)">Predicted LN IC50</text>
<text x="452" y="589">Observed GDSC LN IC50</text>
</g>
<text x="434.3" y="403.7" font-size="12.3" text-anchor="middle" fill="#231f20" >CCLE/GDSC</text>
<g font-size="10" fill="#231f20">
<text x="354.6" y="425.1" textLength="86" lengthAdjust="spacingAndGlyphs">ρ = 0.88, <tspan font-style="italic">p</tspan> &lt; 2.2e−16</text>
<text x="354.6" y="438.7">R<tspan font-size="7.5" dy="-4">2</tspan><tspan dy="4">= 0.77</tspan></text>
</g>
<g stroke="#111" stroke-width="1.8" fill="none">
<path d="M625,396 L625,550.6 M617.6,550.6 L856.7,550.6"/>
<line x1="619.5" y1="418.1" x2="625" y2="418.1"/>
<line x1="619.5" y1="444.9" x2="625" y2="444.9"/>
<line x1="619.5" y1="471.5" x2="625" y2="471.5"/>
<line x1="619.5" y1="498" x2="625" y2="498"/>
<line x1="619.5" y1="524.8" x2="625" y2="524.8"/>
<line x1="701.7" y1="550.6" x2="701.7" y2="556.6"/>
<line x1="787.7" y1="550.6" x2="787.7" y2="556.6"/>
</g>
<g font-size="15" fill="#4d4d4d" text-anchor="end">
<text x="615.5" y="423.1">6</text>
<text x="615.5" y="449.9">4</text>
<text x="615.5" y="476.5">2</text>
<text x="615.5" y="503">0</text>
<text x="615.5" y="529.8">−2</text>
</g>
<g font-size="15" fill="#4d4d4d" text-anchor="middle">
<text x="701.7" y="572">0</text>
<text x="787.7" y="572">5</text>
</g>
<g font-size="15.5" fill="#231f20" text-anchor="middle">
<text transform="translate(596.2,469) rotate(-90)">Predicted LN IC50</text>
<text x="739.6" y="588">Observed CTRPv2 LN IC50</text>
</g>
<text x="736.6" y="396.5" font-size="12.3" text-anchor="middle" fill="#231f20" >CCLE/CTRPv2</text>
<g font-size="10" fill="#231f20">
<text x="632.8" y="409.6" textLength="84" lengthAdjust="spacingAndGlyphs">ρ = 0.84, <tspan font-style="italic">p</tspan> &lt; 2.2e−16</text>
<text x="632.8" y="422.5">R<tspan font-size="7.5" dy="-4">2</tspan><tspan dy="4">= 0.70</tspan></text>
</g>
<defs>
<linearGradient id="lg1" x1="0" x2="1" y1="0" y2="0"><stop offset="0" stop-color="#f4ecec"/><stop offset="0.22" stop-color="#e8b8a8"/><stop offset="0.42" stop-color="#e8a860"/><stop offset="0.57" stop-color="#e8e020"/><stop offset="0.72" stop-color="#88d040"/><stop offset="1" stop-color="#10a020"/></linearGradient>
<linearGradient id="lg2" x1="0" x2="1" y1="0" y2="0"><stop offset="0" stop-color="#f4ecec"/><stop offset="0.22" stop-color="#e8b0a0"/><stop offset="0.36" stop-color="#e8a860"/><stop offset="0.47" stop-color="#ecc040"/><stop offset="0.55" stop-color="#e8e020"/><stop offset="0.75" stop-color="#70c840"/><stop offset="1" stop-color="#10a020"/></linearGradient>
</defs>
<rect x="432.2" y="633.2" width="76" height="15.2" fill="url(#lg1)"/>
<line x1="438" y1="633.2" x2="438" y2="636" stroke="#fff" stroke-width="0.8"/><line x1="438" y1="645.6" x2="438" y2="648.4" stroke="#fff" stroke-width="0.8"/>
<line x1="461.6" y1="633.2" x2="461.6" y2="636" stroke="#fff" stroke-width="0.8"/><line x1="461.6" y1="645.6" x2="461.6" y2="648.4" stroke="#fff" stroke-width="0.8"/>
<line x1="485.2" y1="633.2" x2="485.2" y2="636" stroke="#fff" stroke-width="0.8"/><line x1="485.2" y1="645.6" x2="485.2" y2="648.4" stroke="#fff" stroke-width="0.8"/>
<rect x="703.9" y="627.7" width="90.7" height="18.2" fill="url(#lg2)"/>
<line x1="725.6" y1="627.7" x2="725.6" y2="631" stroke="#fff" stroke-width="0.8"/><line x1="725.6" y1="642.6" x2="725.6" y2="645.9" stroke="#fff" stroke-width="0.8"/>
<line x1="748.8" y1="627.7" x2="748.8" y2="631" stroke="#fff" stroke-width="0.8"/><line x1="748.8" y1="642.6" x2="748.8" y2="645.9" stroke="#fff" stroke-width="0.8"/>
<line x1="771.5" y1="627.7" x2="771.5" y2="631" stroke="#fff" stroke-width="0.8"/><line x1="771.5" y1="642.6" x2="771.5" y2="645.9" stroke="#fff" stroke-width="0.8"/>
<g font-size="12.2" fill="#231f20" text-anchor="start">
<text x="381.8" y="643.5">Density</text><text x="652.7" y="642.6">Density</text>
</g>
<g font-size="9.5" fill="#231f20" text-anchor="middle">
<text transform="translate(441.4,619) rotate(-90)">0.06</text>
<text transform="translate(465.0,619) rotate(-90)">0.04</text>
<text transform="translate(488.59999999999997,619) rotate(-90)">0.02</text>
<text transform="translate(729.0,610) rotate(-90)">0.075</text>
<text transform="translate(752.1999999999999,610) rotate(-90)">0.050</text>
<text transform="translate(774.9,610) rotate(-90)">0.025</text>
</g>
</svg></body></html>
